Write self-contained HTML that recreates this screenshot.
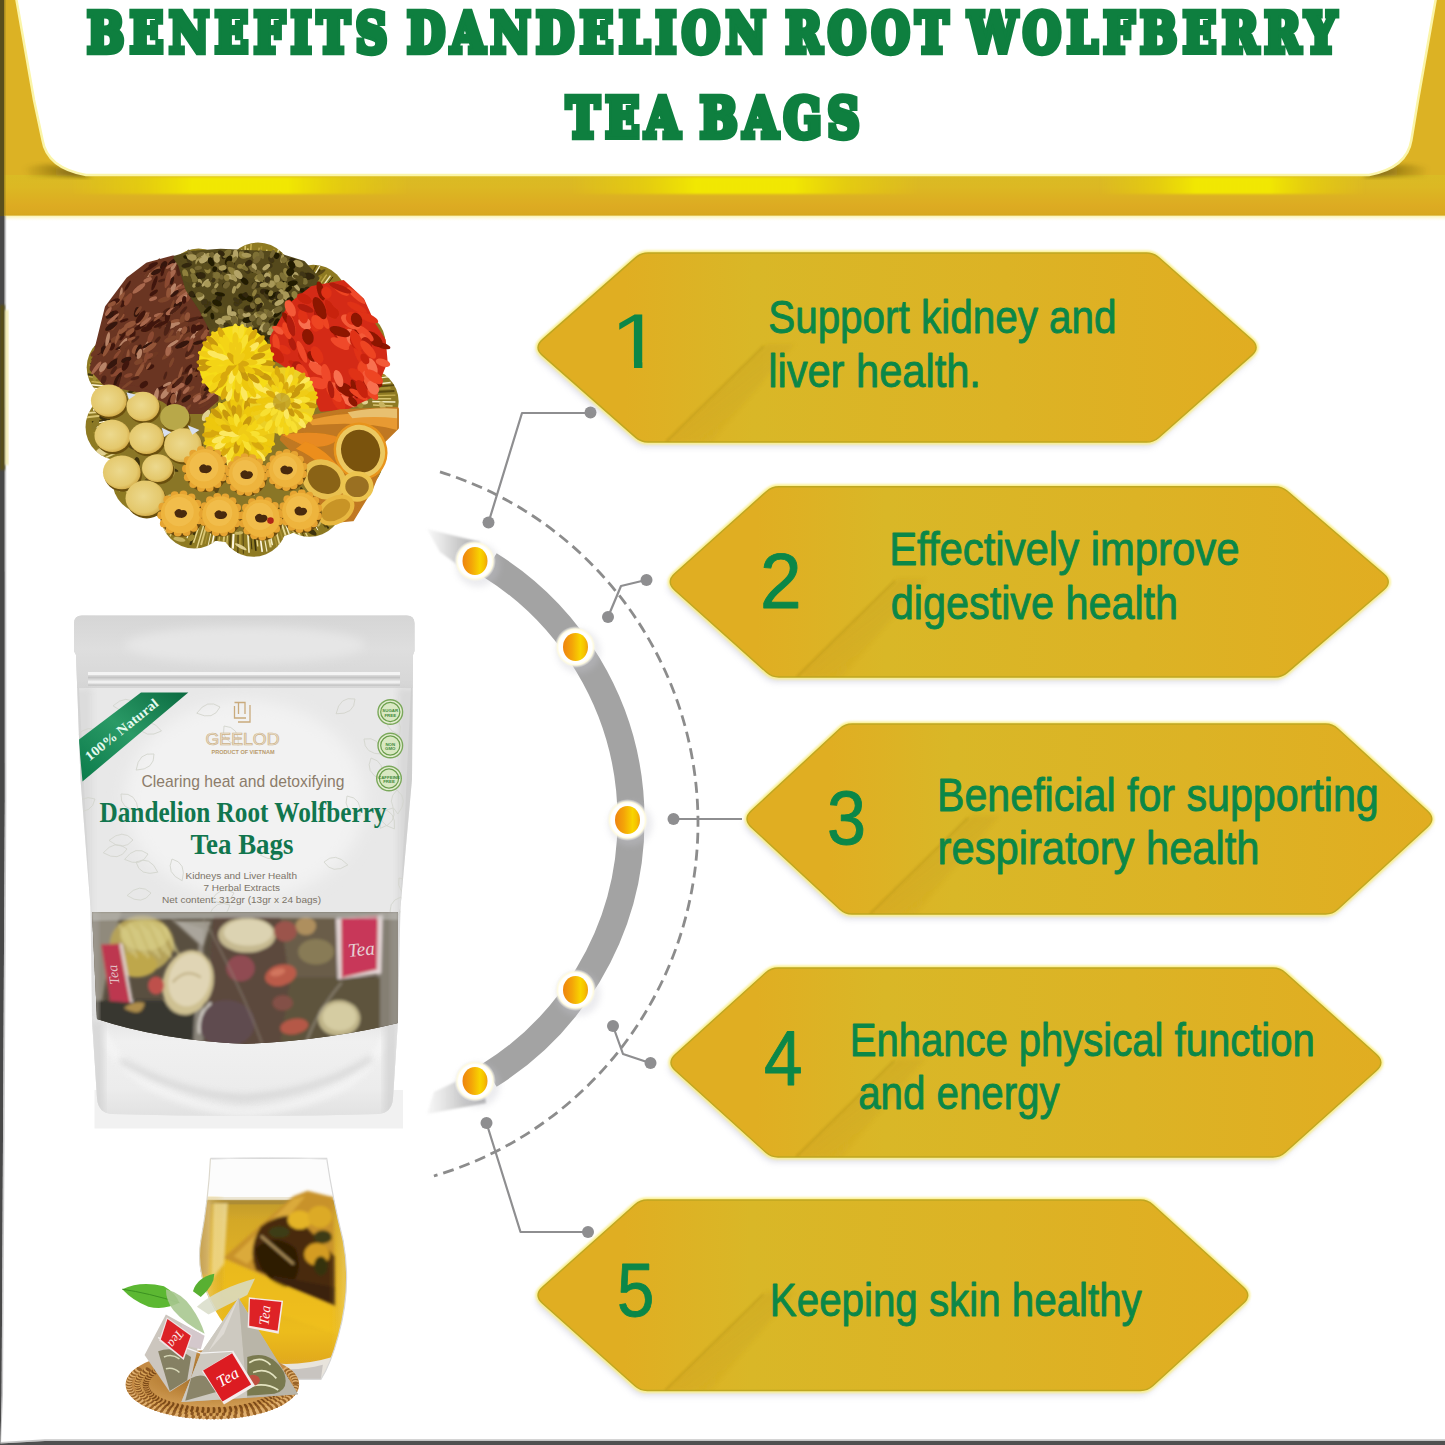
<!DOCTYPE html>
<html lang="en"><head><meta charset="utf-8"><title>Benefits Dandelion Root Wolfberry Tea Bags</title>
<style>
html,body{margin:0;padding:0;background:#fff;}
body{width:1445px;height:1445px;overflow:hidden;font-family:"Liberation Sans",sans-serif;}
svg{display:block}
.t{font-family:"DejaVu Serif","Liberation Serif",serif;font-weight:bold;fill:#0e7f3f;stroke:#0e7f3f;stroke-linejoin:miter;paint-order:stroke}
.h{font-family:"Liberation Sans",sans-serif;fill:#0b8748}
</style></head><body>
<svg width="1445" height="1445" viewBox="0 0 1445 1445">
<defs>
<linearGradient id="hexg" x1="0" y1="0" x2="1" y2="0">
<stop offset="0" stop-color="#e0ae22"/><stop offset="0.12" stop-color="#e0ae22"/><stop offset="0.3" stop-color="#d9b727"/><stop offset="0.65" stop-color="#dcb325"/><stop offset="1" stop-color="#e1ad21"/>
</linearGradient>
<linearGradient id="foldg" x1="0" y1="0" x2="1" y2="1">
<stop offset="0" stop-color="#b8901a" stop-opacity="0.55"/><stop offset="1" stop-color="#b8901a" stop-opacity="0"/>
</linearGradient>
<linearGradient id="ball" x1="0" y1="0" x2="1" y2="0">
<stop offset="0" stop-color="#ee8410"/><stop offset="0.35" stop-color="#f4a408"/><stop offset="0.7" stop-color="#f8d400"/><stop offset="0.85" stop-color="#f6c400"/><stop offset="1" stop-color="#f0a010"/>
</linearGradient>
<radialGradient id="halo" cx="0.5" cy="0.5" r="0.5">
<stop offset="0" stop-color="#fff"/><stop offset="0.78" stop-color="#fff"/><stop offset="0.86" stop-color="#fffbe0"/><stop offset="1" stop-color="#f0f0f4" stop-opacity="0"/>
</radialGradient>
<linearGradient id="bandv" x1="0" y1="0" x2="0" y2="1">
<stop offset="0" stop-color="#dcc020"/><stop offset="0.45" stop-color="#dcb824"/><stop offset="0.5" stop-color="#dcae22"/><stop offset="1" stop-color="#dcac22"/>
</linearGradient>
<radialGradient id="hl" cx="0.5" cy="0.5" r="0.5">
<stop offset="0" stop-color="#f4ec00"/><stop offset="0.55" stop-color="#f0e400" stop-opacity="0.9"/><stop offset="1" stop-color="#e8d010" stop-opacity="0"/>
</radialGradient>
<filter id="b1" x="-10%" y="-10%" width="120%" height="120%"><feGaussianBlur stdDeviation="1"/></filter>
<filter id="b2" x="-20%" y="-20%" width="140%" height="140%"><feGaussianBlur stdDeviation="2"/></filter>
<filter id="b3" x="-20%" y="-20%" width="140%" height="140%"><feGaussianBlur stdDeviation="3"/></filter>
<filter id="b5" x="-30%" y="-30%" width="160%" height="160%"><feGaussianBlur stdDeviation="5"/></filter>
<filter id="b8" x="-30%" y="-30%" width="160%" height="160%"><feGaussianBlur stdDeviation="8"/></filter>
<linearGradient id="tailT" x1="0" y1="0" x2="1" y2="0"><stop offset="0" stop-color="#d0d0d0" stop-opacity="0.15"/><stop offset="0.6" stop-color="#c4c4c4" stop-opacity="0.9"/><stop offset="1" stop-color="#a8a8a8"/></linearGradient>
</defs>
<rect x="0" y="0" width="1445" height="1445" fill="#fff"/>
<path d="M0 0 H1445 V216 H0 Z" fill="#dcb224"/>
<linearGradient id="bandg" gradientUnits="userSpaceOnUse" x1="0" y1="175" x2="0" y2="216"><stop offset="0" stop-color="#dabb24"/><stop offset="0.3" stop-color="#dcb823"/><stop offset="0.5" stop-color="#dcb222"/><stop offset="0.75" stop-color="#ddab22"/><stop offset="0.95" stop-color="#d9a91f"/><stop offset="1" stop-color="#cfa21c"/></linearGradient>
<rect x="0" y="175" width="1445" height="41" fill="url(#bandg)"/>
<linearGradient id="hlh" x1="0" y1="0" x2="1" y2="0"><stop offset="0" stop-color="#e8d810" stop-opacity="0"/><stop offset="0.2" stop-color="#ecdc08" stop-opacity="0.5"/><stop offset="0.36" stop-color="#f2ea00" stop-opacity="0.95"/><stop offset="0.64" stop-color="#f2ea00" stop-opacity="0.95"/><stop offset="0.8" stop-color="#ecdc08" stop-opacity="0.5"/><stop offset="1" stop-color="#e8d810" stop-opacity="0"/></linearGradient>
<rect x="70" y="177" width="340" height="17" fill="url(#hlh)" filter="url(#b1)"/>
<rect x="570" y="177" width="350" height="17" fill="url(#hlh)" filter="url(#b1)"/>
<rect x="1100" y="177" width="265" height="17" fill="url(#hlh)" filter="url(#b1)"/>
<linearGradient id="paleg" x1="0" y1="0" x2="0" y2="1"><stop offset="0" stop-color="#faf2a8"/><stop offset="1" stop-color="#fffbe0" stop-opacity="0"/></linearGradient>
<rect x="4" y="215.6" width="1441" height="5.5" fill="url(#paleg)"/>
<linearGradient id="shl" x1="0" y1="0" x2="1" y2="0"><stop offset="0" stop-color="#6a5610" stop-opacity="0"/><stop offset="1" stop-color="#5a4a0c" stop-opacity="0.95"/></linearGradient>
<linearGradient id="shr" x1="1" y1="0" x2="0" y2="0"><stop offset="0" stop-color="#6a5610" stop-opacity="0"/><stop offset="1" stop-color="#5a4a0c" stop-opacity="0.95"/></linearGradient>
<path d="M22 168 Q50 160 72 170 L92 177 L30 176 Z" fill="url(#shl)" filter="url(#b2)"/>
<path d="M1430 168 Q1400 160 1382 170 L1362 177 L1424 176 Z" fill="url(#shr)" filter="url(#b2)"/>
<path d="M15.6 -5 L34 100 L42.5 140 Q47 168 86 175 L1369 175 Q1407 168 1411.4 140 L1418 100 L1436.5 -5 Z" fill="#fff" stroke="#fbf5a8" stroke-width="2.5"/>
<rect x="0" y="0" width="4" height="216" fill="#5a4f1c"/><rect x="4" y="0" width="1.5" height="216" fill="#8a7420" opacity="0.6"/>
<path d="M0 216 H4.6 L4.8 800 L3.2 1100 L1.6 1395 L0.4 1445 H0 Z" fill="#484848"/>
<path d="M4.6 216 H6.2 L6.4 800 L4.8 1100 L3 1395 L1 1445 L0.4 1445 L1.6 1395 L3.2 1100 L4.8 800 Z" fill="#9a9a9c" opacity="0.55"/>
<rect x="0" y="305" width="4.6" height="165" fill="#585018" filter="url(#b1)"/>
<rect x="5" y="310" width="3.5" height="155" fill="#f2eaa0" opacity="0.8" filter="url(#b1)"/>
<path d="M0 1443.5 L45 1441 H1445 V1445 H0 Z" fill="#505050"/>
<path d="M0 1442 L45 1439.2 H1445 V1441 H45 L0 1443.5 Z" fill="#a0a0a0" opacity="0.6"/>
<text class="t" transform="translate(87.34,51.50) scale(0.8026,1)" font-size="54.18" letter-spacing="7.48" word-spacing="-8.72" stroke-width="6" vector-effect="non-scaling-stroke">BENEFITS DANDELION ROOT WOLFBERRY</text>
<text class="t" transform="translate(566.56,137.00) scale(0.8170,1)" font-size="54.18" letter-spacing="7.34" word-spacing="-8.57" stroke-width="6" vector-effect="non-scaling-stroke">TEA BAGS</text>
<g transform="translate(70,230) scale(0.235294)">
<defs>
<radialGradient id="lic" cx="0.45" cy="0.45" r="0.6"><stop offset="0" stop-color="#ecd98e"/><stop offset="0.75" stop-color="#e4c86c"/><stop offset="1" stop-color="#cfa440"/></radialGradient>
<radialGradient id="haw" cx="0.5" cy="0.5" r="0.5"><stop offset="0" stop-color="#4a2c10"/><stop offset="0.2" stop-color="#5a3412"/><stop offset="0.3" stop-color="#e0a440"/><stop offset="0.8" stop-color="#ecb040"/><stop offset="1" stop-color="#d88c28"/></radialGradient>
<radialGradient id="flw" cx="0.5" cy="0.5" r="0.5"><stop offset="0" stop-color="#d8b010"/><stop offset="0.5" stop-color="#f2d818"/><stop offset="1" stop-color="#f4dc20"/></radialGradient>
<filter id="ptex" x="0" y="0" width="100%" height="100%"><feTurbulence type="fractalNoise" baseFrequency="0.035" numOctaves="3" seed="4" result="n"/><feColorMatrix in="n" type="matrix" values="0 0 0 0 0.1  0 0 0 0 0.08  0 0 0 0 0  0.9 0.9 0 0 -0.55" result="d"/><feComposite in="d" in2="SourceGraphic" operator="in" result="dd"/><feMerge><feMergeNode in="SourceGraphic"/><feMergeNode in="dd"/></feMerge></filter>
<filter id="pb" x="-5%" y="-5%" width="110%" height="110%"><feGaussianBlur stdDeviation="2.2"/></filter>
</defs>
<g filter="url(#pb)"><g fill="#8e7a24"><circle cx="725" cy="720" r="610"/><circle cx="799" cy="195" r="142"/><circle cx="1034" cy="290" r="142"/><circle cx="1199" cy="483" r="142"/><circle cx="1255" cy="730" r="142"/><circle cx="1190" cy="975" r="142"/><circle cx="1018" cy="1162" r="142"/><circle cx="779" cy="1247" r="142"/><circle cx="528" cy="1212" r="142"/><circle cx="322" cy="1064" r="142"/><circle cx="208" cy="837" r="142"/><circle cx="213" cy="584" r="142"/><circle cx="335" cy="361" r="142"/><circle cx="546" cy="221" r="142"/></g>
<clipPath id="plc"><circle cx="725" cy="720" r="610"/><circle cx="799" cy="195" r="142"/><circle cx="1034" cy="290" r="142"/><circle cx="1199" cy="483" r="142"/><circle cx="1255" cy="730" r="142"/><circle cx="1190" cy="975" r="142"/><circle cx="1018" cy="1162" r="142"/><circle cx="779" cy="1247" r="142"/><circle cx="528" cy="1212" r="142"/><circle cx="322" cy="1064" r="142"/><circle cx="208" cy="837" r="142"/><circle cx="213" cy="584" r="142"/><circle cx="335" cy="361" r="142"/><circle cx="546" cy="221" r="142"/></clipPath><g clip-path="url(#plc)"><path d="M1282 717L1365 717" stroke="#d8c470" stroke-width="7"/><path d="M1260 729L1383 731" stroke="#f4ecc0" stroke-width="7"/><path d="M1288 744L1371 748" stroke="#d8c470" stroke-width="6"/><path d="M1268 763L1354 770" stroke="#fff8e0" stroke-width="8"/><path d="M1260 773L1377 785" stroke="#e8d890" stroke-width="6"/><path d="M1291 784L1365 792" stroke="#fff8e0" stroke-width="8"/><path d="M1269 804L1374 820" stroke="#d8c470" stroke-width="9"/><path d="M1267 809L1343 822" stroke="#d8c470" stroke-width="5"/><path d="M1266 831L1362 850" stroke="#f4ecc0" stroke-width="6"/><path d="M1269 844L1355 863" stroke="#fff8e0" stroke-width="7"/><path d="M1270 858L1367 883" stroke="#f4ecc0" stroke-width="9"/><path d="M1247 864L1361 895" stroke="#3a3008" stroke-width="8"/><path d="M1270 880L1347 902" stroke="#f4ecc0" stroke-width="5"/><path d="M1258 893L1338 919" stroke="#a89030" stroke-width="8"/><path d="M1236 899L1326 930" stroke="#fff8e0" stroke-width="8"/><path d="M1250 914L1313 938" stroke="#a89030" stroke-width="7"/><path d="M1229 930L1311 964" stroke="#e8d890" stroke-width="6"/><path d="M1239 939L1301 966" stroke="#5a4a10" stroke-width="9"/><path d="M1221 948L1318 993" stroke="#a89030" stroke-width="6"/><path d="M1235 977L1297 1008" stroke="#d8c470" stroke-width="8"/><path d="M1230 984L1303 1022" stroke="#3a3008" stroke-width="7"/><path d="M1208 994L1284 1036" stroke="#5a4a10" stroke-width="9"/><path d="M1195 996L1275 1042" stroke="#a89030" stroke-width="4"/><path d="M1200 1014L1257 1049" stroke="#c8b050" stroke-width="4"/><path d="M1187 1024L1270 1079" stroke="#a89030" stroke-width="7"/><path d="M1183 1033L1260 1086" stroke="#e8d890" stroke-width="9"/><path d="M1174 1043L1251 1099" stroke="#a89030" stroke-width="5"/><path d="M1176 1061L1251 1117" stroke="#f4ecc0" stroke-width="6"/><path d="M1167 1073L1214 1111" stroke="#c8b050" stroke-width="6"/><path d="M1160 1084L1212 1127" stroke="#c8b050" stroke-width="7"/><path d="M1127 1078L1210 1152" stroke="#a89030" stroke-width="7"/><path d="M1142 1104L1213 1169" stroke="#3a3008" stroke-width="6"/><path d="M1132 1119L1184 1170" stroke="#5a4a10" stroke-width="8"/><path d="M1129 1127L1174 1173" stroke="#c8b050" stroke-width="8"/><path d="M1113 1135L1154 1179" stroke="#a89030" stroke-width="7"/><path d="M1094 1135L1163 1213" stroke="#d8c470" stroke-width="6"/><path d="M1081 1141L1139 1210" stroke="#fff8e0" stroke-width="5"/><path d="M1087 1163L1143 1231" stroke="#fff8e0" stroke-width="7"/><path d="M1063 1171L1101 1221" stroke="#d8c470" stroke-width="8"/><path d="M1050 1171L1098 1236" stroke="#a89030" stroke-width="8"/><path d="M1045 1191L1099 1269" stroke="#3a3008" stroke-width="8"/><path d="M1042 1195L1087 1263" stroke="#5a4a10" stroke-width="8"/><path d="M1016 1196L1051 1254" stroke="#3a3008" stroke-width="5"/><path d="M1011 1203L1054 1276" stroke="#fff8e0" stroke-width="4"/><path d="M984 1193L1027 1273" stroke="#d8c470" stroke-width="8"/><path d="M981 1200L1022 1275" stroke="#3a3008" stroke-width="5"/><path d="M976 1234L1013 1311" stroke="#e8d890" stroke-width="6"/><path d="M957 1220L1000 1315" stroke="#5a4a10" stroke-width="5"/><path d="M945 1226L982 1310" stroke="#e8d890" stroke-width="8"/><path d="M925 1218L959 1302" stroke="#d8c470" stroke-width="9"/><path d="M913 1225L950 1325" stroke="#a89030" stroke-width="5"/><path d="M912 1238L942 1323" stroke="#f4ecc0" stroke-width="6"/><path d="M897 1240L923 1318" stroke="#e8d890" stroke-width="8"/><path d="M880 1235L907 1325" stroke="#a89030" stroke-width="6"/><path d="M870 1257L894 1348" stroke="#e8d890" stroke-width="7"/><path d="M857 1254L880 1346" stroke="#a89030" stroke-width="6"/><path d="M843 1261L860 1340" stroke="#f4ecc0" stroke-width="7"/><path d="M835 1261L853 1349" stroke="#e8d890" stroke-width="9"/><path d="M822 1283L837 1367" stroke="#f4ecc0" stroke-width="5"/><path d="M806 1287L817 1368" stroke="#fff8e0" stroke-width="7"/><path d="M790 1274L798 1345" stroke="#e8d890" stroke-width="6"/><path d="M781 1268L790 1363" stroke="#3a3008" stroke-width="7"/><path d="M767 1286L773 1357" stroke="#3a3008" stroke-width="4"/><path d="M755 1273L761 1372" stroke="#f4ecc0" stroke-width="7"/><path d="M735 1256L737 1376" stroke="#5a4a10" stroke-width="5"/><path d="M723 1292L722 1347" stroke="#a89030" stroke-width="8"/><path d="M715 1258L713 1385" stroke="#5a4a10" stroke-width="6"/><path d="M695 1292L692 1354" stroke="#fff8e0" stroke-width="9"/><path d="M683 1292L678 1358" stroke="#5a4a10" stroke-width="9"/><path d="M671 1282L665 1349" stroke="#d8c470" stroke-width="5"/><path d="M657 1286L650 1347" stroke="#d8c470" stroke-width="8"/><path d="M641 1269L628 1355" stroke="#c8b050" stroke-width="5"/><path d="M632 1253L614 1356" stroke="#5a4a10" stroke-width="8"/><path d="M616 1276L599 1360" stroke="#fff8e0" stroke-width="7"/><path d="M600 1281L582 1365" stroke="#f4ecc0" stroke-width="4"/><path d="M593 1254L574 1334" stroke="#a89030" stroke-width="5"/><path d="M576 1270L557 1339" stroke="#d8c470" stroke-width="8"/><path d="M568 1256L539 1354" stroke="#e8d890" stroke-width="6"/><path d="M547 1261L525 1329" stroke="#e8d890" stroke-width="6"/><path d="M547 1234L511 1338" stroke="#3a3008" stroke-width="9"/><path d="M529 1228L497 1310" stroke="#f4ecc0" stroke-width="5"/><path d="M512 1240L488 1300" stroke="#f4ecc0" stroke-width="5"/><path d="M512 1219L479 1298" stroke="#3a3008" stroke-width="5"/><path d="M486 1239L463 1289" stroke="#d8c470" stroke-width="7"/><path d="M486 1199L440 1291" stroke="#fff8e0" stroke-width="6"/><path d="M468 1218L425 1302" stroke="#d8c470" stroke-width="6"/><path d="M462 1192L415 1276" stroke="#fff8e0" stroke-width="5"/><path d="M432 1211L403 1260" stroke="#a89030" stroke-width="7"/><path d="M434 1190L383 1274" stroke="#f4ecc0" stroke-width="5"/><path d="M421 1176L366 1259" stroke="#3a3008" stroke-width="7"/><path d="M420 1162L363 1244" stroke="#c8b050" stroke-width="7"/><path d="M405 1156L347 1236" stroke="#d8c470" stroke-width="5"/><path d="M394 1147L334 1224" stroke="#fff8e0" stroke-width="7"/><path d="M377 1151L325 1216" stroke="#c8b050" stroke-width="8"/><path d="M378 1137L311 1217" stroke="#fff8e0" stroke-width="6"/><path d="M362 1133L289 1216" stroke="#e8d890" stroke-width="6"/><path d="M343 1134L287 1194" stroke="#a89030" stroke-width="9"/><path d="M329 1126L287 1170" stroke="#d8c470" stroke-width="8"/><path d="M337 1104L278 1162" stroke="#3a3008" stroke-width="7"/><path d="M327 1085L244 1161" stroke="#fff8e0" stroke-width="7"/><path d="M296 1102L254 1139" stroke="#c8b050" stroke-width="8"/><path d="M298 1077L240 1125" stroke="#c8b050" stroke-width="5"/><path d="M285 1077L238 1114" stroke="#d8c470" stroke-width="8"/><path d="M285 1051L208 1109" stroke="#f4ecc0" stroke-width="7"/><path d="M267 1047L207 1090" stroke="#d8c470" stroke-width="4"/><path d="M266 1041L209 1080" stroke="#5a4a10" stroke-width="6"/><path d="M262 1023L196 1067" stroke="#5a4a10" stroke-width="4"/><path d="M249 1016L179 1059" stroke="#f4ecc0" stroke-width="9"/><path d="M257 991L157 1049" stroke="#e8d890" stroke-width="4"/><path d="M239 989L161 1032" stroke="#e8d890" stroke-width="9"/><path d="M221 986L148 1025" stroke="#c8b050" stroke-width="4"/><path d="M216 968L162 994" stroke="#3a3008" stroke-width="8"/><path d="M211 960L125 1001" stroke="#5a4a10" stroke-width="6"/><path d="M216 939L147 969" stroke="#e8d890" stroke-width="6"/><path d="M202 929L130 958" stroke="#d8c470" stroke-width="7"/><path d="M209 915L116 950" stroke="#f4ecc0" stroke-width="4"/><path d="M194 907L119 934" stroke="#d8c470" stroke-width="8"/><path d="M202 888L116 915" stroke="#a89030" stroke-width="7"/><path d="M213 875L119 904" stroke="#a89030" stroke-width="5"/><path d="M201 863L114 887" stroke="#c8b050" stroke-width="7"/><path d="M181 854L113 871" stroke="#c8b050" stroke-width="6"/><path d="M170 846L100 862" stroke="#a89030" stroke-width="6"/><path d="M198 821L95 841" stroke="#fff8e0" stroke-width="6"/><path d="M162 812L99 822" stroke="#fff8e0" stroke-width="6"/><path d="M171 804L93 816" stroke="#3a3008" stroke-width="7"/><path d="M182 783L65 797" stroke="#d8c470" stroke-width="8"/><path d="M173 769L80 777" stroke="#e8d890" stroke-width="8"/><path d="M178 759L98 764" stroke="#fff8e0" stroke-width="9"/><path d="M190 745L99 749" stroke="#3a3008" stroke-width="4"/><path d="M171 733L93 735" stroke="#a89030" stroke-width="5"/><path d="M171 715L68 715" stroke="#a89030" stroke-width="9"/><path d="M178 711L76 710" stroke="#fff8e0" stroke-width="4"/><path d="M157 695L96 692" stroke="#fff8e0" stroke-width="7"/><path d="M160 679L86 673" stroke="#fff8e0" stroke-width="8"/><path d="M156 664L89 658" stroke="#fff8e0" stroke-width="6"/><path d="M166 653L91 644" stroke="#c8b050" stroke-width="7"/><path d="M160 635L79 623" stroke="#d8c470" stroke-width="4"/><path d="M167 628L76 613" stroke="#3a3008" stroke-width="8"/><path d="M196 615L103 596" stroke="#e8d890" stroke-width="8"/><path d="M186 597L81 573" stroke="#a89030" stroke-width="9"/><path d="M197 595L86 568" stroke="#3a3008" stroke-width="6"/><path d="M191 576L90 549" stroke="#5a4a10" stroke-width="5"/><path d="M205 569L100 539" stroke="#e8d890" stroke-width="5"/><path d="M208 554L97 519" stroke="#fff8e0" stroke-width="7"/><path d="M210 535L104 496" stroke="#5a4a10" stroke-width="6"/><path d="M224 529L111 486" stroke="#e8d890" stroke-width="8"/><path d="M193 508L135 485" stroke="#3a3008" stroke-width="6"/><path d="M203 496L128 463" stroke="#d8c470" stroke-width="8"/><path d="M229 485L138 443" stroke="#d8c470" stroke-width="8"/><path d="M211 468L148 437" stroke="#fff8e0" stroke-width="5"/><path d="M235 462L146 416" stroke="#3a3008" stroke-width="6"/><path d="M230 448L145 401" stroke="#a89030" stroke-width="6"/><path d="M244 435L180 397" stroke="#a89030" stroke-width="8"/><path d="M260 436L177 385" stroke="#f4ecc0" stroke-width="5"/><path d="M245 409L176 365" stroke="#d8c470" stroke-width="9"/><path d="M271 406L180 343" stroke="#fff8e0" stroke-width="6"/><path d="M281 394L189 327" stroke="#e8d890" stroke-width="5"/><path d="M297 387L228 334" stroke="#c8b050" stroke-width="5"/><path d="M288 369L237 327" stroke="#5a4a10" stroke-width="5"/><path d="M305 367L224 298" stroke="#f4ecc0" stroke-width="5"/><path d="M297 342L243 294" stroke="#5a4a10" stroke-width="5"/><path d="M314 335L241 266" stroke="#a89030" stroke-width="9"/><path d="M315 321L264 271" stroke="#5a4a10" stroke-width="6"/><path d="M346 327L278 257" stroke="#a89030" stroke-width="8"/><path d="M353 322L276 240" stroke="#e8d890" stroke-width="4"/><path d="M367 314L311 251" stroke="#e8d890" stroke-width="4"/><path d="M363 284L317 228" stroke="#a89030" stroke-width="9"/><path d="M382 300L329 235" stroke="#fff8e0" stroke-width="9"/><path d="M388 274L329 195" stroke="#d8c470" stroke-width="6"/><path d="M390 263L346 202" stroke="#f4ecc0" stroke-width="6"/><path d="M417 281L343 176" stroke="#c8b050" stroke-width="9"/><path d="M429 263L382 191" stroke="#fff8e0" stroke-width="7"/><path d="M434 245L392 178" stroke="#c8b050" stroke-width="4"/><path d="M452 257L391 153" stroke="#d8c470" stroke-width="6"/><path d="M448 219L407 144" stroke="#fff8e0" stroke-width="6"/><path d="M472 235L434 163" stroke="#c8b050" stroke-width="9"/><path d="M481 226L442 147" stroke="#d8c470" stroke-width="5"/><path d="M493 226L450 135" stroke="#a89030" stroke-width="5"/><path d="M499 214L467 141" stroke="#d8c470" stroke-width="9"/><path d="M524 223L482 119" stroke="#3a3008" stroke-width="6"/><path d="M523 194L488 102" stroke="#3a3008" stroke-width="6"/><path d="M543 215L507 114" stroke="#d8c470" stroke-width="5"/><path d="M561 203L532 110" stroke="#fff8e0" stroke-width="6"/><path d="M559 172L533 86" stroke="#a89030" stroke-width="7"/><path d="M585 202L557 101" stroke="#fff8e0" stroke-width="9"/><path d="M591 193L569 107" stroke="#3a3008" stroke-width="7"/><path d="M600 174L585 106" stroke="#e8d890" stroke-width="9"/><path d="M621 167L607 89" stroke="#d8c470" stroke-width="6"/><path d="M629 171L616 97" stroke="#d8c470" stroke-width="9"/><path d="M639 155L630 95" stroke="#d8c470" stroke-width="7"/><path d="M661 183L651 97" stroke="#c8b050" stroke-width="6"/><path d="M674 182L666 92" stroke="#c8b050" stroke-width="7"/><path d="M685 182L677 81" stroke="#e8d890" stroke-width="5"/><path d="M695 180L691 91" stroke="#a89030" stroke-width="9"/><path d="M712 148L711 95" stroke="#a89030" stroke-width="9"/><path d="M730 175L730 81" stroke="#d8c470" stroke-width="5"/><path d="M742 166L745 66" stroke="#d8c470" stroke-width="7"/><path d="M752 164L756 78" stroke="#d8c470" stroke-width="8"/><path d="M763 162L770 59" stroke="#c8b050" stroke-width="6"/><path d="M784 150L791 86" stroke="#5a4a10" stroke-width="5"/><path d="M791 187L804 75" stroke="#c8b050" stroke-width="5"/><path d="M803 156L814 69" stroke="#a89030" stroke-width="7"/><path d="M818 189L837 83" stroke="#d8c470" stroke-width="6"/><path d="M830 187L850 89" stroke="#a89030" stroke-width="7"/><path d="M847 170L868 80" stroke="#a89030" stroke-width="8"/><path d="M859 190L888 76" stroke="#f4ecc0" stroke-width="5"/><path d="M869 196L901 79" stroke="#5a4a10" stroke-width="5"/><path d="M887 191L914 104" stroke="#c8b050" stroke-width="9"/><path d="M896 194L926 102" stroke="#3a3008" stroke-width="6"/><path d="M911 192L937 120" stroke="#5a4a10" stroke-width="8"/><path d="M928 183L951 121" stroke="#5a4a10" stroke-width="4"/><path d="M928 220L972 114" stroke="#fff8e0" stroke-width="8"/><path d="M942 218L981 128" stroke="#fff8e0" stroke-width="6"/><path d="M966 212L994 151" stroke="#d8c470" stroke-width="5"/><path d="M966 226L1010 136" stroke="#c8b050" stroke-width="8"/><path d="M979 230L1016 158" stroke="#e8d890" stroke-width="7"/><path d="M999 236L1047 150" stroke="#5a4a10" stroke-width="6"/><path d="M1000 256L1062 152" stroke="#fff8e0" stroke-width="5"/><path d="M1011 253L1063 168" stroke="#3a3008" stroke-width="8"/><path d="M1021 270L1069 197" stroke="#a89030" stroke-width="6"/><path d="M1051 247L1091 190" stroke="#c8b050" stroke-width="6"/><path d="M1050 273L1107 194" stroke="#f4ecc0" stroke-width="6"/><path d="M1070 261L1118 199" stroke="#3a3008" stroke-width="4"/><path d="M1082 282L1128 225" stroke="#e8d890" stroke-width="6"/><path d="M1089 294L1134 242" stroke="#a89030" stroke-width="7"/><path d="M1088 315L1151 245" stroke="#fff8e0" stroke-width="9"/><path d="M1100 310L1171 232" stroke="#5a4a10" stroke-width="7"/><path d="M1102 328L1171 256" stroke="#fff8e0" stroke-width="5"/><path d="M1130 331L1191 273" stroke="#5a4a10" stroke-width="7"/><path d="M1133 339L1198 277" stroke="#a89030" stroke-width="7"/><path d="M1148 344L1219 280" stroke="#5a4a10" stroke-width="6"/><path d="M1162 355L1224 303" stroke="#d8c470" stroke-width="8"/><path d="M1166 362L1239 303" stroke="#3a3008" stroke-width="9"/><path d="M1177 375L1232 333" stroke="#e8d890" stroke-width="6"/><path d="M1185 383L1251 334" stroke="#e8d890" stroke-width="5"/><path d="M1172 410L1248 357" stroke="#a89030" stroke-width="5"/><path d="M1185 421L1253 377" stroke="#5a4a10" stroke-width="6"/><path d="M1184 432L1270 377" stroke="#5a4a10" stroke-width="5"/><path d="M1208 438L1271 401" stroke="#fff8e0" stroke-width="7"/><path d="M1198 456L1281 410" stroke="#a89030" stroke-width="4"/><path d="M1230 458L1297 423" stroke="#c8b050" stroke-width="5"/><path d="M1231 474L1295 443" stroke="#d8c470" stroke-width="6"/><path d="M1230 491L1301 459" stroke="#fff8e0" stroke-width="6"/><path d="M1238 499L1303 471" stroke="#c8b050" stroke-width="8"/><path d="M1240 510L1336 471" stroke="#d8c470" stroke-width="6"/><path d="M1237 521L1331 485" stroke="#3a3008" stroke-width="8"/><path d="M1254 539L1338 510" stroke="#f4ecc0" stroke-width="7"/><path d="M1267 549L1350 523" stroke="#f4ecc0" stroke-width="9"/><path d="M1259 560L1353 532" stroke="#fff8e0" stroke-width="6"/><path d="M1251 577L1355 549" stroke="#fff8e0" stroke-width="8"/><path d="M1250 589L1367 560" stroke="#d8c470" stroke-width="5"/><path d="M1255 602L1351 580" stroke="#a89030" stroke-width="5"/><path d="M1268 609L1345 594" stroke="#c8b050" stroke-width="5"/><path d="M1257 630L1356 613" stroke="#a89030" stroke-width="6"/><path d="M1265 637L1355 623" stroke="#f4ecc0" stroke-width="5"/><path d="M1276 658L1363 648" stroke="#f4ecc0" stroke-width="6"/><path d="M1268 669L1378 659" stroke="#5a4a10" stroke-width="7"/><path d="M1269 678L1362 671" stroke="#a89030" stroke-width="9"/><path d="M1287 689L1379 684" stroke="#5a4a10" stroke-width="9"/><path d="M1264 705L1383 702" stroke="#c8b050" stroke-width="5"/></g>
<circle cx="725" cy="720" r="560" fill="#8a7628"/>
<g clip-path="url(#plc)"><ellipse cx="665" cy="835" rx="21" ry="12" fill="#3c3008" transform="rotate(166 665 835)"/><ellipse cx="337" cy="1121" rx="27" ry="7" fill="#8a7828" transform="rotate(86 337 1121)"/><ellipse cx="479" cy="286" rx="24" ry="11" fill="#e0d090" transform="rotate(146 479 286)"/><ellipse cx="595" cy="710" rx="17" ry="7" fill="#e0d090" transform="rotate(133 595 710)"/><ellipse cx="760" cy="250" rx="24" ry="12" fill="#5a4a14" transform="rotate(34 760 250)"/><ellipse cx="508" cy="871" rx="24" ry="10" fill="#5a4a14" transform="rotate(35 508 871)"/><ellipse cx="928" cy="715" rx="30" ry="12" fill="#8a7828" transform="rotate(50 928 715)"/><ellipse cx="985" cy="549" rx="15" ry="10" fill="#c8b460" transform="rotate(41 985 549)"/><ellipse cx="235" cy="306" rx="29" ry="12" fill="#a08c30" transform="rotate(52 235 306)"/><ellipse cx="101" cy="425" rx="20" ry="11" fill="#3c3008" transform="rotate(164 101 425)"/><ellipse cx="625" cy="843" rx="18" ry="7" fill="#e0d090" transform="rotate(36 625 843)"/><ellipse cx="516" cy="1308" rx="16" ry="11" fill="#a08c30" transform="rotate(136 516 1308)"/><ellipse cx="114" cy="724" rx="23" ry="10" fill="#e0d090" transform="rotate(88 114 724)"/><ellipse cx="338" cy="1036" rx="20" ry="9" fill="#e0d090" transform="rotate(24 338 1036)"/><ellipse cx="1338" cy="181" rx="19" ry="13" fill="#8a7828" transform="rotate(156 1338 181)"/><ellipse cx="363" cy="641" rx="23" ry="7" fill="#e0d090" transform="rotate(154 363 641)"/><ellipse cx="283" cy="697" rx="19" ry="9" fill="#8a7828" transform="rotate(2 283 697)"/><ellipse cx="192" cy="285" rx="15" ry="9" fill="#5a4a14" transform="rotate(105 192 285)"/><ellipse cx="878" cy="329" rx="16" ry="9" fill="#8a7828" transform="rotate(106 878 329)"/><ellipse cx="884" cy="544" rx="18" ry="8" fill="#8a7828" transform="rotate(41 884 544)"/><ellipse cx="1024" cy="1280" rx="28" ry="11" fill="#3c3008" transform="rotate(35 1024 1280)"/><ellipse cx="627" cy="301" rx="18" ry="11" fill="#c8b460" transform="rotate(7 627 301)"/><ellipse cx="421" cy="1144" rx="22" ry="13" fill="#c8b460" transform="rotate(107 421 1144)"/><ellipse cx="1321" cy="328" rx="27" ry="11" fill="#e0d090" transform="rotate(86 1321 328)"/><ellipse cx="450" cy="1253" rx="15" ry="9" fill="#a08c30" transform="rotate(37 450 1253)"/><ellipse cx="411" cy="235" rx="23" ry="7" fill="#8a7828" transform="rotate(51 411 235)"/><ellipse cx="553" cy="1222" rx="26" ry="10" fill="#e0d090" transform="rotate(176 553 1222)"/><ellipse cx="1284" cy="870" rx="28" ry="11" fill="#3c3008" transform="rotate(166 1284 870)"/><ellipse cx="1303" cy="205" rx="15" ry="9" fill="#3c3008" transform="rotate(115 1303 205)"/><ellipse cx="271" cy="265" rx="26" ry="13" fill="#c8b460" transform="rotate(82 271 265)"/><ellipse cx="1021" cy="1003" rx="20" ry="11" fill="#c8b460" transform="rotate(143 1021 1003)"/><ellipse cx="1226" cy="1199" rx="28" ry="11" fill="#a08c30" transform="rotate(75 1226 1199)"/><ellipse cx="881" cy="627" rx="15" ry="7" fill="#8a7828" transform="rotate(105 881 627)"/><ellipse cx="244" cy="481" rx="20" ry="12" fill="#c8b460" transform="rotate(75 244 481)"/><ellipse cx="826" cy="695" rx="22" ry="10" fill="#a08c30" transform="rotate(151 826 695)"/><ellipse cx="488" cy="283" rx="16" ry="12" fill="#e0d090" transform="rotate(4 488 283)"/><ellipse cx="925" cy="749" rx="19" ry="11" fill="#c8b460" transform="rotate(161 925 749)"/><ellipse cx="353" cy="378" rx="29" ry="10" fill="#e0d090" transform="rotate(163 353 378)"/><ellipse cx="402" cy="654" rx="21" ry="12" fill="#e0d090" transform="rotate(45 402 654)"/><ellipse cx="1243" cy="1210" rx="28" ry="8" fill="#8a7828" transform="rotate(69 1243 1210)"/><ellipse cx="268" cy="590" rx="25" ry="13" fill="#a08c30" transform="rotate(161 268 590)"/><ellipse cx="446" cy="378" rx="29" ry="12" fill="#c8b460" transform="rotate(81 446 378)"/><ellipse cx="578" cy="788" rx="27" ry="13" fill="#e0d090" transform="rotate(121 578 788)"/><ellipse cx="666" cy="267" rx="15" ry="11" fill="#8a7828" transform="rotate(6 666 267)"/><ellipse cx="813" cy="542" rx="24" ry="9" fill="#a08c30" transform="rotate(142 813 542)"/><ellipse cx="337" cy="1080" rx="27" ry="13" fill="#5a4a14" transform="rotate(48 337 1080)"/><ellipse cx="244" cy="308" rx="27" ry="13" fill="#e0d090" transform="rotate(96 244 308)"/><ellipse cx="956" cy="413" rx="25" ry="12" fill="#5a4a14" transform="rotate(86 956 413)"/><ellipse cx="769" cy="222" rx="23" ry="13" fill="#c8b460" transform="rotate(41 769 222)"/><ellipse cx="726" cy="1346" rx="28" ry="7" fill="#e0d090" transform="rotate(29 726 1346)"/><ellipse cx="1266" cy="1025" rx="17" ry="13" fill="#3c3008" transform="rotate(23 1266 1025)"/><ellipse cx="108" cy="824" rx="27" ry="13" fill="#8a7828" transform="rotate(117 108 824)"/><ellipse cx="680" cy="942" rx="28" ry="12" fill="#e0d090" transform="rotate(37 680 942)"/><ellipse cx="1255" cy="324" rx="29" ry="13" fill="#3c3008" transform="rotate(44 1255 324)"/><ellipse cx="771" cy="1105" rx="27" ry="9" fill="#e0d090" transform="rotate(58 771 1105)"/><ellipse cx="203" cy="696" rx="22" ry="7" fill="#c8b460" transform="rotate(99 203 696)"/><ellipse cx="1111" cy="255" rx="23" ry="11" fill="#5a4a14" transform="rotate(144 1111 255)"/><ellipse cx="1245" cy="731" rx="22" ry="11" fill="#e0d090" transform="rotate(180 1245 731)"/><ellipse cx="650" cy="1210" rx="16" ry="8" fill="#e0d090" transform="rotate(104 650 1210)"/><ellipse cx="758" cy="519" rx="17" ry="10" fill="#e0d090" transform="rotate(131 758 519)"/><ellipse cx="1234" cy="480" rx="18" ry="12" fill="#8a7828" transform="rotate(121 1234 480)"/><ellipse cx="1311" cy="793" rx="21" ry="7" fill="#5a4a14" transform="rotate(103 1311 793)"/><ellipse cx="106" cy="621" rx="22" ry="9" fill="#a08c30" transform="rotate(97 106 621)"/><ellipse cx="1101" cy="839" rx="17" ry="13" fill="#e0d090" transform="rotate(88 1101 839)"/><ellipse cx="674" cy="1257" rx="18" ry="10" fill="#3c3008" transform="rotate(144 674 1257)"/><ellipse cx="259" cy="687" rx="22" ry="7" fill="#3c3008" transform="rotate(147 259 687)"/><ellipse cx="624" cy="214" rx="26" ry="7" fill="#e0d090" transform="rotate(47 624 214)"/><ellipse cx="343" cy="446" rx="25" ry="8" fill="#c8b460" transform="rotate(124 343 446)"/><ellipse cx="724" cy="765" rx="24" ry="12" fill="#8a7828" transform="rotate(105 724 765)"/><ellipse cx="977" cy="1208" rx="21" ry="10" fill="#e0d090" transform="rotate(4 977 1208)"/><ellipse cx="300" cy="419" rx="18" ry="8" fill="#e0d090" transform="rotate(114 300 419)"/><ellipse cx="779" cy="866" rx="24" ry="9" fill="#e0d090" transform="rotate(25 779 866)"/><ellipse cx="326" cy="886" rx="18" ry="13" fill="#5a4a14" transform="rotate(160 326 886)"/><ellipse cx="1209" cy="337" rx="16" ry="9" fill="#e0d090" transform="rotate(43 1209 337)"/><ellipse cx="643" cy="1281" rx="16" ry="9" fill="#e0d090" transform="rotate(98 643 1281)"/><ellipse cx="957" cy="201" rx="20" ry="12" fill="#e0d090" transform="rotate(36 957 201)"/><ellipse cx="552" cy="1005" rx="22" ry="11" fill="#c8b460" transform="rotate(114 552 1005)"/><ellipse cx="336" cy="263" rx="26" ry="11" fill="#a08c30" transform="rotate(19 336 263)"/><ellipse cx="1231" cy="743" rx="17" ry="12" fill="#a08c30" transform="rotate(34 1231 743)"/><ellipse cx="1338" cy="1264" rx="16" ry="11" fill="#a08c30" transform="rotate(17 1338 1264)"/><ellipse cx="197" cy="293" rx="22" ry="10" fill="#3c3008" transform="rotate(70 197 293)"/><ellipse cx="851" cy="195" rx="17" ry="10" fill="#5a4a14" transform="rotate(126 851 195)"/><ellipse cx="1024" cy="654" rx="16" ry="12" fill="#5a4a14" transform="rotate(35 1024 654)"/><ellipse cx="505" cy="279" rx="29" ry="10" fill="#e0d090" transform="rotate(152 505 279)"/><ellipse cx="339" cy="864" rx="19" ry="7" fill="#c8b460" transform="rotate(61 339 864)"/><ellipse cx="1029" cy="367" rx="28" ry="13" fill="#5a4a14" transform="rotate(168 1029 367)"/><ellipse cx="968" cy="1078" rx="17" ry="8" fill="#3c3008" transform="rotate(138 968 1078)"/><ellipse cx="1097" cy="533" rx="30" ry="13" fill="#c8b460" transform="rotate(18 1097 533)"/><ellipse cx="162" cy="499" rx="20" ry="11" fill="#c8b460" transform="rotate(173 162 499)"/><ellipse cx="812" cy="804" rx="24" ry="11" fill="#3c3008" transform="rotate(70 812 804)"/><ellipse cx="1052" cy="1327" rx="16" ry="8" fill="#8a7828" transform="rotate(4 1052 1327)"/><ellipse cx="655" cy="771" rx="20" ry="7" fill="#e0d090" transform="rotate(137 655 771)"/><ellipse cx="414" cy="1240" rx="21" ry="10" fill="#8a7828" transform="rotate(99 414 1240)"/><ellipse cx="1158" cy="297" rx="15" ry="11" fill="#e0d090" transform="rotate(80 1158 297)"/><ellipse cx="1049" cy="233" rx="20" ry="13" fill="#5a4a14" transform="rotate(167 1049 233)"/><ellipse cx="1170" cy="814" rx="29" ry="9" fill="#3c3008" transform="rotate(107 1170 814)"/><ellipse cx="758" cy="879" rx="22" ry="8" fill="#c8b460" transform="rotate(66 758 879)"/><ellipse cx="1262" cy="956" rx="15" ry="8" fill="#a08c30" transform="rotate(135 1262 956)"/><ellipse cx="153" cy="363" rx="15" ry="9" fill="#3c3008" transform="rotate(136 153 363)"/><ellipse cx="597" cy="861" rx="15" ry="13" fill="#c8b460" transform="rotate(130 597 861)"/><ellipse cx="637" cy="739" rx="15" ry="7" fill="#5a4a14" transform="rotate(175 637 739)"/><ellipse cx="1113" cy="1244" rx="24" ry="7" fill="#5a4a14" transform="rotate(26 1113 1244)"/><ellipse cx="880" cy="713" rx="20" ry="8" fill="#a08c30" transform="rotate(37 880 713)"/><ellipse cx="554" cy="344" rx="18" ry="11" fill="#8a7828" transform="rotate(75 554 344)"/><ellipse cx="624" cy="1090" rx="29" ry="12" fill="#5a4a14" transform="rotate(96 624 1090)"/><ellipse cx="398" cy="313" rx="24" ry="9" fill="#8a7828" transform="rotate(161 398 313)"/><ellipse cx="439" cy="981" rx="17" ry="8" fill="#8a7828" transform="rotate(102 439 981)"/><ellipse cx="399" cy="1294" rx="28" ry="13" fill="#e0d090" transform="rotate(90 399 1294)"/><ellipse cx="149" cy="251" rx="15" ry="7" fill="#3c3008" transform="rotate(49 149 251)"/><ellipse cx="378" cy="506" rx="17" ry="8" fill="#e0d090" transform="rotate(136 378 506)"/><ellipse cx="1327" cy="746" rx="20" ry="12" fill="#c8b460" transform="rotate(64 1327 746)"/><ellipse cx="1148" cy="267" rx="27" ry="12" fill="#8a7828" transform="rotate(22 1148 267)"/><ellipse cx="655" cy="1054" rx="20" ry="11" fill="#5a4a14" transform="rotate(70 655 1054)"/><ellipse cx="1336" cy="561" rx="27" ry="8" fill="#e0d090" transform="rotate(99 1336 561)"/><ellipse cx="917" cy="859" rx="16" ry="7" fill="#c8b460" transform="rotate(83 917 859)"/><ellipse cx="805" cy="747" rx="27" ry="7" fill="#c8b460" transform="rotate(123 805 747)"/><ellipse cx="488" cy="1246" rx="19" ry="12" fill="#e0d090" transform="rotate(109 488 1246)"/><ellipse cx="967" cy="511" rx="24" ry="9" fill="#c8b460" transform="rotate(26 967 511)"/><ellipse cx="1233" cy="557" rx="28" ry="13" fill="#8a7828" transform="rotate(79 1233 557)"/><ellipse cx="1242" cy="692" rx="21" ry="8" fill="#c8b460" transform="rotate(145 1242 692)"/><ellipse cx="1310" cy="1034" rx="20" ry="9" fill="#a08c30" transform="rotate(93 1310 1034)"/><ellipse cx="554" cy="643" rx="26" ry="9" fill="#5a4a14" transform="rotate(70 554 643)"/><ellipse cx="588" cy="361" rx="17" ry="12" fill="#5a4a14" transform="rotate(106 588 361)"/><ellipse cx="1201" cy="509" rx="15" ry="8" fill="#8a7828" transform="rotate(4 1201 509)"/><ellipse cx="470" cy="206" rx="15" ry="10" fill="#3c3008" transform="rotate(152 470 206)"/><ellipse cx="1085" cy="278" rx="16" ry="9" fill="#e0d090" transform="rotate(15 1085 278)"/><ellipse cx="132" cy="945" rx="21" ry="11" fill="#e0d090" transform="rotate(18 132 945)"/><ellipse cx="711" cy="1242" rx="20" ry="9" fill="#3c3008" transform="rotate(61 711 1242)"/><ellipse cx="1310" cy="967" rx="27" ry="7" fill="#8a7828" transform="rotate(89 1310 967)"/><ellipse cx="873" cy="234" rx="20" ry="7" fill="#e0d090" transform="rotate(136 873 234)"/><ellipse cx="572" cy="284" rx="24" ry="10" fill="#8a7828" transform="rotate(84 572 284)"/><ellipse cx="988" cy="1119" rx="28" ry="8" fill="#3c3008" transform="rotate(76 988 1119)"/><ellipse cx="303" cy="923" rx="17" ry="9" fill="#c8b460" transform="rotate(123 303 923)"/><ellipse cx="465" cy="1315" rx="26" ry="9" fill="#c8b460" transform="rotate(11 465 1315)"/><ellipse cx="294" cy="1256" rx="15" ry="10" fill="#3c3008" transform="rotate(164 294 1256)"/><ellipse cx="1101" cy="546" rx="18" ry="8" fill="#c8b460" transform="rotate(36 1101 546)"/><ellipse cx="997" cy="876" rx="28" ry="9" fill="#5a4a14" transform="rotate(40 997 876)"/><ellipse cx="1238" cy="1277" rx="22" ry="8" fill="#8a7828" transform="rotate(113 1238 1277)"/><ellipse cx="1209" cy="1250" rx="26" ry="7" fill="#8a7828" transform="rotate(62 1209 1250)"/><ellipse cx="1178" cy="647" rx="27" ry="9" fill="#5a4a14" transform="rotate(39 1178 647)"/><ellipse cx="759" cy="784" rx="24" ry="8" fill="#a08c30" transform="rotate(49 759 784)"/><ellipse cx="114" cy="733" rx="25" ry="11" fill="#5a4a14" transform="rotate(67 114 733)"/><ellipse cx="297" cy="364" rx="28" ry="12" fill="#c8b460" transform="rotate(58 297 364)"/><ellipse cx="264" cy="1048" rx="23" ry="8" fill="#8a7828" transform="rotate(112 264 1048)"/><ellipse cx="1063" cy="182" rx="27" ry="7" fill="#5a4a14" transform="rotate(148 1063 182)"/><ellipse cx="437" cy="1018" rx="25" ry="7" fill="#3c3008" transform="rotate(17 437 1018)"/><ellipse cx="1036" cy="816" rx="26" ry="9" fill="#a08c30" transform="rotate(91 1036 816)"/><ellipse cx="1246" cy="286" rx="15" ry="9" fill="#5a4a14" transform="rotate(149 1246 286)"/><ellipse cx="718" cy="1288" rx="19" ry="7" fill="#c8b460" transform="rotate(174 718 1288)"/><ellipse cx="482" cy="727" rx="15" ry="7" fill="#c8b460" transform="rotate(129 482 727)"/><ellipse cx="935" cy="971" rx="24" ry="7" fill="#a08c30" transform="rotate(134 935 971)"/><ellipse cx="571" cy="1011" rx="16" ry="12" fill="#8a7828" transform="rotate(43 571 1011)"/><ellipse cx="1170" cy="1168" rx="17" ry="11" fill="#8a7828" transform="rotate(129 1170 1168)"/><ellipse cx="1272" cy="1057" rx="23" ry="7" fill="#3c3008" transform="rotate(172 1272 1057)"/><ellipse cx="336" cy="621" rx="29" ry="10" fill="#c8b460" transform="rotate(20 336 621)"/><ellipse cx="1005" cy="568" rx="16" ry="11" fill="#a08c30" transform="rotate(149 1005 568)"/><ellipse cx="264" cy="918" rx="20" ry="12" fill="#5a4a14" transform="rotate(32 264 918)"/><ellipse cx="841" cy="285" rx="30" ry="10" fill="#5a4a14" transform="rotate(41 841 285)"/><ellipse cx="1064" cy="580" rx="16" ry="8" fill="#8a7828" transform="rotate(148 1064 580)"/><ellipse cx="285" cy="989" rx="24" ry="12" fill="#3c3008" transform="rotate(87 285 989)"/><ellipse cx="866" cy="552" rx="24" ry="11" fill="#5a4a14" transform="rotate(142 866 552)"/><ellipse cx="123" cy="567" rx="21" ry="10" fill="#e0d090" transform="rotate(62 123 567)"/><ellipse cx="356" cy="569" rx="24" ry="8" fill="#a08c30" transform="rotate(53 356 569)"/><ellipse cx="1058" cy="1237" rx="24" ry="10" fill="#c8b460" transform="rotate(99 1058 1237)"/><ellipse cx="818" cy="412" rx="25" ry="13" fill="#e0d090" transform="rotate(168 818 412)"/><ellipse cx="809" cy="211" rx="16" ry="10" fill="#a08c30" transform="rotate(119 809 211)"/><ellipse cx="622" cy="570" rx="18" ry="13" fill="#c8b460" transform="rotate(17 622 570)"/><ellipse cx="665" cy="1034" rx="23" ry="10" fill="#8a7828" transform="rotate(43 665 1034)"/><ellipse cx="800" cy="489" rx="24" ry="7" fill="#c8b460" transform="rotate(164 800 489)"/><ellipse cx="1131" cy="518" rx="26" ry="9" fill="#5a4a14" transform="rotate(161 1131 518)"/><ellipse cx="307" cy="879" rx="15" ry="8" fill="#3c3008" transform="rotate(146 307 879)"/><ellipse cx="1334" cy="1279" rx="26" ry="12" fill="#c8b460" transform="rotate(119 1334 1279)"/><ellipse cx="1233" cy="900" rx="17" ry="9" fill="#a08c30" transform="rotate(115 1233 900)"/><ellipse cx="141" cy="798" rx="17" ry="10" fill="#3c3008" transform="rotate(21 141 798)"/><ellipse cx="430" cy="845" rx="26" ry="12" fill="#e0d090" transform="rotate(60 430 845)"/><ellipse cx="1084" cy="652" rx="22" ry="9" fill="#a08c30" transform="rotate(90 1084 652)"/><ellipse cx="880" cy="986" rx="22" ry="13" fill="#c8b460" transform="rotate(136 880 986)"/><ellipse cx="1148" cy="1180" rx="16" ry="7" fill="#3c3008" transform="rotate(74 1148 1180)"/><ellipse cx="1274" cy="567" rx="28" ry="9" fill="#3c3008" transform="rotate(94 1274 567)"/><ellipse cx="168" cy="1029" rx="20" ry="9" fill="#e0d090" transform="rotate(162 168 1029)"/><ellipse cx="1087" cy="1213" rx="16" ry="10" fill="#5a4a14" transform="rotate(158 1087 1213)"/><ellipse cx="728" cy="644" rx="16" ry="13" fill="#e0d090" transform="rotate(9 728 644)"/><ellipse cx="781" cy="949" rx="30" ry="12" fill="#a08c30" transform="rotate(169 781 949)"/><ellipse cx="1189" cy="611" rx="27" ry="8" fill="#8a7828" transform="rotate(98 1189 611)"/><ellipse cx="1033" cy="843" rx="22" ry="7" fill="#a08c30" transform="rotate(163 1033 843)"/><ellipse cx="1203" cy="854" rx="18" ry="9" fill="#c8b460" transform="rotate(82 1203 854)"/><ellipse cx="506" cy="253" rx="20" ry="9" fill="#8a7828" transform="rotate(161 506 253)"/><ellipse cx="832" cy="234" rx="19" ry="10" fill="#c8b460" transform="rotate(6 832 234)"/><ellipse cx="1267" cy="1323" rx="17" ry="13" fill="#5a4a14" transform="rotate(85 1267 1323)"/><ellipse cx="966" cy="249" rx="28" ry="7" fill="#c8b460" transform="rotate(57 966 249)"/><ellipse cx="894" cy="997" rx="24" ry="8" fill="#8a7828" transform="rotate(101 894 997)"/><ellipse cx="1200" cy="239" rx="27" ry="13" fill="#e0d090" transform="rotate(19 1200 239)"/><ellipse cx="442" cy="672" rx="25" ry="13" fill="#c8b460" transform="rotate(158 442 672)"/><ellipse cx="656" cy="272" rx="16" ry="11" fill="#c8b460" transform="rotate(40 656 272)"/><ellipse cx="436" cy="1023" rx="26" ry="9" fill="#c8b460" transform="rotate(90 436 1023)"/><ellipse cx="928" cy="1215" rx="29" ry="13" fill="#5a4a14" transform="rotate(106 928 1215)"/><ellipse cx="326" cy="444" rx="16" ry="13" fill="#e0d090" transform="rotate(24 326 444)"/><ellipse cx="650" cy="798" rx="14" ry="11" fill="#a08c30" transform="rotate(96 650 798)"/><ellipse cx="772" cy="675" rx="19" ry="12" fill="#5a4a14" transform="rotate(102 772 675)"/><ellipse cx="407" cy="507" rx="26" ry="8" fill="#5a4a14" transform="rotate(99 407 507)"/></g>
<path d="M440 120 L330 150 L250 210 L160 330 L130 450 L95 590 L150 650 L300 680 L400 720 L470 770 L560 770 L620 720 L610 640 L560 560 L560 480 L620 430 L560 340 L500 250 L470 150Z" fill="#6a3422" stroke="#6a3422" stroke-width="24" stroke-linejoin="round"/>
<ellipse cx="182" cy="568" rx="32" ry="12" fill="#34140a" transform="rotate(-41 182 568)"/><ellipse cx="191" cy="463" rx="24" ry="10" fill="#7e442c" transform="rotate(-30 191 463)"/><ellipse cx="217" cy="271" rx="28" ry="6" fill="#b88468" transform="rotate(-82 217 271)"/><ellipse cx="268" cy="443" rx="17" ry="11" fill="#4e2414" transform="rotate(-77 268 443)"/><ellipse cx="477" cy="381" rx="25" ry="11" fill="#7e442c" transform="rotate(-74 477 381)"/><ellipse cx="449" cy="642" rx="19" ry="9" fill="#935438" transform="rotate(-39 449 642)"/><ellipse cx="580" cy="697" rx="34" ry="9" fill="#4e2414" transform="rotate(-56 580 697)"/><ellipse cx="262" cy="435" rx="20" ry="10" fill="#935438" transform="rotate(-66 262 435)"/><ellipse cx="132" cy="510" rx="27" ry="10" fill="#4e2414" transform="rotate(-48 132 510)"/><ellipse cx="277" cy="508" rx="20" ry="12" fill="#935438" transform="rotate(-64 277 508)"/><ellipse cx="186" cy="399" rx="29" ry="12" fill="#7e442c" transform="rotate(-74 186 399)"/><ellipse cx="405" cy="694" rx="29" ry="12" fill="#b88468" transform="rotate(-51 405 694)"/><ellipse cx="224" cy="485" rx="31" ry="9" fill="#b88468" transform="rotate(-54 224 485)"/><ellipse cx="230" cy="308" rx="24" ry="11" fill="#40180c" transform="rotate(-56 230 308)"/><ellipse cx="434" cy="215" rx="18" ry="7" fill="#34140a" transform="rotate(-74 434 215)"/><ellipse cx="436" cy="712" rx="33" ry="8" fill="#6e3824" transform="rotate(-51 436 712)"/><ellipse cx="176" cy="360" rx="27" ry="11" fill="#34140a" transform="rotate(-31 176 360)"/><ellipse cx="257" cy="467" rx="24" ry="7" fill="#7e442c" transform="rotate(-66 257 467)"/><ellipse cx="471" cy="292" rx="32" ry="10" fill="#6e3824" transform="rotate(-62 471 292)"/><ellipse cx="230" cy="384" rx="19" ry="6" fill="#40180c" transform="rotate(-18 230 384)"/><ellipse cx="330" cy="212" rx="19" ry="9" fill="#a8684e" transform="rotate(-24 330 212)"/><ellipse cx="265" cy="441" rx="20" ry="11" fill="#40180c" transform="rotate(-70 265 441)"/><ellipse cx="201" cy="604" rx="33" ry="11" fill="#8a4a30" transform="rotate(-32 201 604)"/><ellipse cx="339" cy="161" rx="32" ry="7" fill="#40180c" transform="rotate(-32 339 161)"/><ellipse cx="487" cy="279" rx="32" ry="11" fill="#a8684e" transform="rotate(-74 487 279)"/><ellipse cx="352" cy="492" rx="26" ry="10" fill="#7e442c" transform="rotate(-47 352 492)"/><ellipse cx="462" cy="462" rx="28" ry="8" fill="#935438" transform="rotate(-46 462 462)"/><ellipse cx="440" cy="393" rx="28" ry="11" fill="#935438" transform="rotate(-24 440 393)"/><ellipse cx="465" cy="426" rx="18" ry="6" fill="#b88468" transform="rotate(-49 465 426)"/><ellipse cx="442" cy="147" rx="30" ry="9" fill="#b88468" transform="rotate(-66 442 147)"/><ellipse cx="219" cy="371" rx="18" ry="7" fill="#935438" transform="rotate(-51 219 371)"/><ellipse cx="291" cy="513" rx="28" ry="11" fill="#34140a" transform="rotate(-70 291 513)"/><ellipse cx="446" cy="678" rx="21" ry="12" fill="#a8684e" transform="rotate(-36 446 678)"/><ellipse cx="298" cy="520" rx="20" ry="7" fill="#7e442c" transform="rotate(-27 298 520)"/><ellipse cx="555" cy="586" rx="18" ry="8" fill="#40180c" transform="rotate(-79 555 586)"/><ellipse cx="338" cy="190" rx="21" ry="8" fill="#b88468" transform="rotate(-18 338 190)"/><ellipse cx="432" cy="563" rx="23" ry="7" fill="#7e442c" transform="rotate(-67 432 563)"/><ellipse cx="453" cy="250" rx="30" ry="7" fill="#a8684e" transform="rotate(-43 453 250)"/><ellipse cx="301" cy="381" rx="29" ry="10" fill="#a8684e" transform="rotate(-53 301 381)"/><ellipse cx="421" cy="184" rx="18" ry="11" fill="#6e3824" transform="rotate(-17 421 184)"/><ellipse cx="116" cy="515" rx="35" ry="12" fill="#6e3824" transform="rotate(-36 116 515)"/><ellipse cx="195" cy="361" rx="19" ry="11" fill="#40180c" transform="rotate(-85 195 361)"/><ellipse cx="527" cy="464" rx="24" ry="11" fill="#6e3824" transform="rotate(-82 527 464)"/><ellipse cx="223" cy="494" rx="33" ry="6" fill="#34140a" transform="rotate(-27 223 494)"/><ellipse cx="401" cy="172" rx="20" ry="9" fill="#6e3824" transform="rotate(-22 401 172)"/><ellipse cx="371" cy="468" rx="20" ry="7" fill="#4e2414" transform="rotate(-51 371 468)"/><ellipse cx="246" cy="536" rx="29" ry="7" fill="#935438" transform="rotate(-84 246 536)"/><ellipse cx="284" cy="349" rx="22" ry="11" fill="#34140a" transform="rotate(-74 284 349)"/><ellipse cx="217" cy="353" rx="29" ry="10" fill="#6e3824" transform="rotate(-67 217 353)"/><ellipse cx="370" cy="171" rx="26" ry="10" fill="#6e3824" transform="rotate(-27 370 171)"/><ellipse cx="414" cy="531" rx="30" ry="9" fill="#7e442c" transform="rotate(-40 414 531)"/><ellipse cx="519" cy="709" rx="29" ry="10" fill="#6e3824" transform="rotate(-37 519 709)"/><ellipse cx="418" cy="512" rx="24" ry="12" fill="#a8684e" transform="rotate(-77 418 512)"/><ellipse cx="587" cy="636" rx="20" ry="8" fill="#4e2414" transform="rotate(-84 587 636)"/><ellipse cx="488" cy="239" rx="33" ry="7" fill="#8a4a30" transform="rotate(-17 488 239)"/><ellipse cx="502" cy="601" rx="33" ry="7" fill="#4e2414" transform="rotate(-23 502 601)"/><ellipse cx="410" cy="349" rx="27" ry="12" fill="#4e2414" transform="rotate(-38 410 349)"/><ellipse cx="574" cy="741" rx="30" ry="7" fill="#6e3824" transform="rotate(-32 574 741)"/><ellipse cx="375" cy="361" rx="19" ry="7" fill="#a8684e" transform="rotate(-16 375 361)"/><ellipse cx="318" cy="537" rx="29" ry="7" fill="#6e3824" transform="rotate(-31 318 537)"/><ellipse cx="321" cy="366" rx="18" ry="11" fill="#a8684e" transform="rotate(-51 321 366)"/><ellipse cx="203" cy="633" rx="32" ry="10" fill="#34140a" transform="rotate(-61 203 633)"/><ellipse cx="479" cy="766" rx="17" ry="11" fill="#b88468" transform="rotate(-59 479 766)"/><ellipse cx="532" cy="418" rx="32" ry="9" fill="#8a4a30" transform="rotate(-51 532 418)"/><ellipse cx="529" cy="445" rx="27" ry="9" fill="#b88468" transform="rotate(-53 529 445)"/><ellipse cx="472" cy="166" rx="24" ry="7" fill="#935438" transform="rotate(-67 472 166)"/><ellipse cx="505" cy="635" rx="28" ry="8" fill="#6e3824" transform="rotate(-20 505 635)"/><ellipse cx="541" cy="605" rx="20" ry="11" fill="#40180c" transform="rotate(-68 541 605)"/><ellipse cx="234" cy="564" rx="26" ry="7" fill="#6e3824" transform="rotate(-64 234 564)"/><ellipse cx="500" cy="442" rx="34" ry="9" fill="#4e2414" transform="rotate(-83 500 442)"/><ellipse cx="244" cy="291" rx="19" ry="11" fill="#7e442c" transform="rotate(-27 244 291)"/><ellipse cx="439" cy="134" rx="26" ry="9" fill="#34140a" transform="rotate(-34 439 134)"/><ellipse cx="383" cy="401" rx="19" ry="8" fill="#4e2414" transform="rotate(-84 383 401)"/><ellipse cx="328" cy="541" rx="25" ry="7" fill="#6e3824" transform="rotate(-35 328 541)"/><ellipse cx="542" cy="703" rx="23" ry="7" fill="#935438" transform="rotate(-26 542 703)"/><ellipse cx="458" cy="315" rx="20" ry="7" fill="#34140a" transform="rotate(-17 458 315)"/><ellipse cx="423" cy="671" rx="20" ry="10" fill="#935438" transform="rotate(-70 423 671)"/><ellipse cx="425" cy="199" rx="27" ry="6" fill="#6e3824" transform="rotate(-76 425 199)"/><ellipse cx="222" cy="510" rx="25" ry="11" fill="#6e3824" transform="rotate(-78 222 510)"/><ellipse cx="522" cy="380" rx="33" ry="8" fill="#4e2414" transform="rotate(-18 522 380)"/><ellipse cx="398" cy="150" rx="20" ry="12" fill="#34140a" transform="rotate(-57 398 150)"/><ellipse cx="503" cy="588" rx="22" ry="8" fill="#40180c" transform="rotate(-48 503 588)"/><ellipse cx="353" cy="292" rx="18" ry="8" fill="#a8684e" transform="rotate(-21 353 292)"/><ellipse cx="511" cy="610" rx="24" ry="8" fill="#a8684e" transform="rotate(-75 511 610)"/><ellipse cx="451" cy="709" rx="26" ry="7" fill="#b88468" transform="rotate(-82 451 709)"/><ellipse cx="559" cy="592" rx="28" ry="9" fill="#a8684e" transform="rotate(-82 559 592)"/><ellipse cx="359" cy="226" rx="33" ry="8" fill="#40180c" transform="rotate(-70 359 226)"/><ellipse cx="445" cy="270" rx="21" ry="8" fill="#34140a" transform="rotate(-39 445 270)"/><ellipse cx="463" cy="704" rx="26" ry="8" fill="#4e2414" transform="rotate(-72 463 704)"/><ellipse cx="563" cy="670" rx="33" ry="7" fill="#935438" transform="rotate(-75 563 670)"/><ellipse cx="183" cy="377" rx="34" ry="7" fill="#a8684e" transform="rotate(-41 183 377)"/><ellipse cx="293" cy="243" rx="21" ry="7" fill="#8a4a30" transform="rotate(-39 293 243)"/><ellipse cx="569" cy="368" rx="26" ry="6" fill="#40180c" transform="rotate(-20 569 368)"/><ellipse cx="469" cy="610" rx="31" ry="6" fill="#935438" transform="rotate(-73 469 610)"/><ellipse cx="429" cy="192" rx="29" ry="11" fill="#a8684e" transform="rotate(-49 429 192)"/><ellipse cx="248" cy="618" rx="19" ry="8" fill="#8a4a30" transform="rotate(-18 248 618)"/><ellipse cx="463" cy="663" rx="25" ry="12" fill="#a8684e" transform="rotate(-16 463 663)"/><ellipse cx="278" cy="464" rx="21" ry="7" fill="#4e2414" transform="rotate(-39 278 464)"/><ellipse cx="143" cy="636" rx="18" ry="11" fill="#4e2414" transform="rotate(-74 143 636)"/><ellipse cx="459" cy="448" rx="20" ry="9" fill="#7e442c" transform="rotate(-82 459 448)"/><ellipse cx="386" cy="672" rx="28" ry="7" fill="#40180c" transform="rotate(-26 386 672)"/><ellipse cx="186" cy="596" rx="21" ry="8" fill="#4e2414" transform="rotate(-56 186 596)"/><ellipse cx="511" cy="676" rx="21" ry="8" fill="#7e442c" transform="rotate(-33 511 676)"/><ellipse cx="255" cy="402" rx="28" ry="12" fill="#935438" transform="rotate(-24 255 402)"/><ellipse cx="339" cy="583" rx="20" ry="10" fill="#40180c" transform="rotate(-20 339 583)"/><ellipse cx="610" cy="692" rx="33" ry="9" fill="#935438" transform="rotate(-21 610 692)"/><ellipse cx="570" cy="726" rx="28" ry="6" fill="#935438" transform="rotate(-28 570 726)"/><ellipse cx="497" cy="762" rx="28" ry="6" fill="#7e442c" transform="rotate(-49 497 762)"/><ellipse cx="326" cy="493" rx="31" ry="9" fill="#b88468" transform="rotate(-60 326 493)"/><ellipse cx="234" cy="488" rx="22" ry="12" fill="#6e3824" transform="rotate(-40 234 488)"/><ellipse cx="438" cy="483" rx="27" ry="7" fill="#b88468" transform="rotate(-31 438 483)"/><ellipse cx="375" cy="153" rx="33" ry="9" fill="#6e3824" transform="rotate(-79 375 153)"/><ellipse cx="343" cy="455" rx="26" ry="11" fill="#8a4a30" transform="rotate(-68 343 455)"/><ellipse cx="455" cy="325" rx="27" ry="11" fill="#34140a" transform="rotate(-42 455 325)"/><ellipse cx="427" cy="723" rx="35" ry="9" fill="#40180c" transform="rotate(-67 427 723)"/><ellipse cx="475" cy="292" rx="28" ry="8" fill="#b88468" transform="rotate(-32 475 292)"/><ellipse cx="359" cy="177" rx="32" ry="9" fill="#935438" transform="rotate(-43 359 177)"/><ellipse cx="499" cy="449" rx="29" ry="10" fill="#6e3824" transform="rotate(-29 499 449)"/><ellipse cx="303" cy="522" rx="17" ry="8" fill="#6e3824" transform="rotate(-72 303 522)"/><ellipse cx="293" cy="248" rx="34" ry="10" fill="#a8684e" transform="rotate(-38 293 248)"/><ellipse cx="545" cy="440" rx="18" ry="8" fill="#6e3824" transform="rotate(-44 545 440)"/><ellipse cx="291" cy="342" rx="22" ry="7" fill="#7e442c" transform="rotate(-55 291 342)"/><ellipse cx="565" cy="681" rx="20" ry="10" fill="#6e3824" transform="rotate(-78 565 681)"/><ellipse cx="261" cy="462" rx="18" ry="6" fill="#935438" transform="rotate(-21 261 462)"/><ellipse cx="448" cy="657" rx="20" ry="8" fill="#40180c" transform="rotate(-45 448 657)"/><ellipse cx="526" cy="421" rx="20" ry="12" fill="#40180c" transform="rotate(-82 526 421)"/><ellipse cx="295" cy="527" rx="23" ry="10" fill="#b88468" transform="rotate(-74 295 527)"/><ellipse cx="202" cy="454" rx="35" ry="6" fill="#935438" transform="rotate(-72 202 454)"/><ellipse cx="602" cy="640" rx="31" ry="9" fill="#b88468" transform="rotate(-61 602 640)"/><ellipse cx="139" cy="593" rx="27" ry="7" fill="#8a4a30" transform="rotate(-57 139 593)"/><ellipse cx="366" cy="178" rx="24" ry="10" fill="#34140a" transform="rotate(-26 366 178)"/><ellipse cx="523" cy="615" rx="24" ry="10" fill="#7e442c" transform="rotate(-23 523 615)"/><ellipse cx="467" cy="292" rx="27" ry="9" fill="#a8684e" transform="rotate(-52 467 292)"/><ellipse cx="482" cy="403" rx="23" ry="11" fill="#6e3824" transform="rotate(-22 482 403)"/><ellipse cx="244" cy="656" rx="34" ry="6" fill="#7e442c" transform="rotate(-37 244 656)"/><ellipse cx="239" cy="552" rx="23" ry="11" fill="#34140a" transform="rotate(-21 239 552)"/><ellipse cx="317" cy="373" rx="31" ry="7" fill="#935438" transform="rotate(-48 317 373)"/><ellipse cx="201" cy="529" rx="24" ry="7" fill="#8a4a30" transform="rotate(-48 201 529)"/><ellipse cx="366" cy="705" rx="34" ry="10" fill="#b88468" transform="rotate(-79 366 705)"/><ellipse cx="435" cy="252" rx="28" ry="10" fill="#b88468" transform="rotate(-62 435 252)"/><ellipse cx="401" cy="295" rx="29" ry="11" fill="#7e442c" transform="rotate(-16 401 295)"/><ellipse cx="223" cy="435" rx="18" ry="12" fill="#4e2414" transform="rotate(-58 223 435)"/><ellipse cx="485" cy="297" rx="17" ry="9" fill="#40180c" transform="rotate(-84 485 297)"/><ellipse cx="591" cy="422" rx="27" ry="8" fill="#935438" transform="rotate(-32 591 422)"/><ellipse cx="425" cy="153" rx="20" ry="6" fill="#a8684e" transform="rotate(-33 425 153)"/><ellipse cx="599" cy="702" rx="26" ry="7" fill="#a8684e" transform="rotate(-45 599 702)"/><ellipse cx="419" cy="266" rx="22" ry="10" fill="#935438" transform="rotate(-83 419 266)"/><ellipse cx="505" cy="636" rx="26" ry="12" fill="#34140a" transform="rotate(-61 505 636)"/><ellipse cx="483" cy="341" rx="21" ry="7" fill="#4e2414" transform="rotate(-48 483 341)"/><ellipse cx="345" cy="541" rx="17" ry="6" fill="#40180c" transform="rotate(-40 345 541)"/><ellipse cx="346" cy="535" rx="34" ry="11" fill="#6e3824" transform="rotate(-27 346 535)"/><ellipse cx="163" cy="346" rx="22" ry="8" fill="#a8684e" transform="rotate(-56 163 346)"/><ellipse cx="204" cy="653" rx="33" ry="6" fill="#4e2414" transform="rotate(-72 204 653)"/><ellipse cx="507" cy="280" rx="27" ry="8" fill="#8a4a30" transform="rotate(-67 507 280)"/><ellipse cx="434" cy="324" rx="30" ry="6" fill="#7e442c" transform="rotate(-74 434 324)"/><ellipse cx="354" cy="395" rx="32" ry="9" fill="#40180c" transform="rotate(-26 354 395)"/><ellipse cx="324" cy="540" rx="27" ry="8" fill="#8a4a30" transform="rotate(-75 324 540)"/><ellipse cx="158" cy="483" rx="22" ry="12" fill="#4e2414" transform="rotate(-50 158 483)"/><ellipse cx="225" cy="426" rx="23" ry="9" fill="#935438" transform="rotate(-38 225 426)"/><ellipse cx="427" cy="408" rx="23" ry="11" fill="#b88468" transform="rotate(-16 427 408)"/><ellipse cx="212" cy="544" rx="30" ry="9" fill="#6e3824" transform="rotate(-72 212 544)"/><ellipse cx="415" cy="365" rx="32" ry="11" fill="#40180c" transform="rotate(-80 415 365)"/><ellipse cx="546" cy="478" rx="24" ry="8" fill="#34140a" transform="rotate(-15 546 478)"/><ellipse cx="199" cy="322" rx="26" ry="11" fill="#6e3824" transform="rotate(-42 199 322)"/><ellipse cx="291" cy="560" rx="20" ry="11" fill="#7e442c" transform="rotate(-29 291 560)"/><ellipse cx="299" cy="410" rx="29" ry="10" fill="#40180c" transform="rotate(-29 299 410)"/><ellipse cx="449" cy="400" rx="20" ry="7" fill="#b88468" transform="rotate(-17 449 400)"/><ellipse cx="328" cy="490" rx="24" ry="6" fill="#34140a" transform="rotate(-30 328 490)"/><ellipse cx="348" cy="400" rx="31" ry="11" fill="#40180c" transform="rotate(-44 348 400)"/><ellipse cx="434" cy="344" rx="31" ry="12" fill="#a8684e" transform="rotate(-30 434 344)"/><ellipse cx="494" cy="681" rx="20" ry="8" fill="#a8684e" transform="rotate(-49 494 681)"/><ellipse cx="303" cy="586" rx="27" ry="9" fill="#8a4a30" transform="rotate(-67 303 586)"/><ellipse cx="255" cy="434" rx="22" ry="10" fill="#935438" transform="rotate(-37 255 434)"/><ellipse cx="376" cy="370" rx="28" ry="6" fill="#935438" transform="rotate(-41 376 370)"/><ellipse cx="214" cy="291" rx="32" ry="8" fill="#935438" transform="rotate(-55 214 291)"/><ellipse cx="385" cy="401" rx="32" ry="8" fill="#40180c" transform="rotate(-24 385 401)"/><ellipse cx="328" cy="187" rx="20" ry="7" fill="#6e3824" transform="rotate(-60 328 187)"/><ellipse cx="336" cy="536" rx="19" ry="9" fill="#8a4a30" transform="rotate(-29 336 536)"/><ellipse cx="391" cy="214" rx="18" ry="6" fill="#4e2414" transform="rotate(-17 391 214)"/><ellipse cx="510" cy="539" rx="21" ry="7" fill="#935438" transform="rotate(-22 510 539)"/><ellipse cx="189" cy="305" rx="25" ry="11" fill="#40180c" transform="rotate(-26 189 305)"/><ellipse cx="321" cy="390" rx="31" ry="8" fill="#a8684e" transform="rotate(-39 321 390)"/><ellipse cx="300" cy="370" rx="33" ry="11" fill="#40180c" transform="rotate(-54 300 370)"/><ellipse cx="596" cy="409" rx="19" ry="9" fill="#34140a" transform="rotate(-59 596 409)"/><ellipse cx="540" cy="717" rx="21" ry="10" fill="#a8684e" transform="rotate(-42 540 717)"/><ellipse cx="464" cy="163" rx="34" ry="12" fill="#4e2414" transform="rotate(-85 464 163)"/><ellipse cx="493" cy="478" rx="28" ry="12" fill="#8a4a30" transform="rotate(-62 493 478)"/><ellipse cx="508" cy="515" rx="30" ry="10" fill="#4e2414" transform="rotate(-54 508 515)"/><ellipse cx="545" cy="416" rx="25" ry="12" fill="#40180c" transform="rotate(-21 545 416)"/><ellipse cx="580" cy="455" rx="25" ry="7" fill="#6e3824" transform="rotate(-24 580 455)"/><ellipse cx="477" cy="487" rx="33" ry="11" fill="#34140a" transform="rotate(-25 477 487)"/><ellipse cx="394" cy="174" rx="23" ry="7" fill="#40180c" transform="rotate(-77 394 174)"/><ellipse cx="405" cy="619" rx="18" ry="6" fill="#4e2414" transform="rotate(-72 405 619)"/><ellipse cx="427" cy="464" rx="29" ry="12" fill="#7e442c" transform="rotate(-21 427 464)"/><ellipse cx="247" cy="295" rx="30" ry="12" fill="#8a4a30" transform="rotate(-62 247 295)"/><ellipse cx="463" cy="643" rx="29" ry="10" fill="#4e2414" transform="rotate(-47 463 643)"/><ellipse cx="494" cy="717" rx="24" ry="10" fill="#34140a" transform="rotate(-36 494 717)"/><ellipse cx="333" cy="578" rx="18" ry="6" fill="#935438" transform="rotate(-57 333 578)"/><ellipse cx="112" cy="586" rx="34" ry="8" fill="#a8684e" transform="rotate(-53 112 586)"/><ellipse cx="314" cy="657" rx="20" ry="12" fill="#40180c" transform="rotate(-38 314 657)"/><ellipse cx="586" cy="668" rx="23" ry="7" fill="#34140a" transform="rotate(-42 586 668)"/><ellipse cx="140" cy="583" rx="24" ry="12" fill="#b88468" transform="rotate(-56 140 583)"/><ellipse cx="223" cy="453" rx="20" ry="6" fill="#40180c" transform="rotate(-55 223 453)"/><ellipse cx="142" cy="510" rx="17" ry="11" fill="#34140a" transform="rotate(-82 142 510)"/><ellipse cx="412" cy="216" rx="32" ry="8" fill="#8a4a30" transform="rotate(-78 412 216)"/><ellipse cx="486" cy="426" rx="17" ry="11" fill="#935438" transform="rotate(-68 486 426)"/><ellipse cx="414" cy="418" rx="34" ry="11" fill="#4e2414" transform="rotate(-70 414 418)"/><ellipse cx="445" cy="340" rx="28" ry="9" fill="#4e2414" transform="rotate(-43 445 340)"/><ellipse cx="354" cy="147" rx="21" ry="8" fill="#40180c" transform="rotate(-22 354 147)"/><ellipse cx="178" cy="315" rx="19" ry="9" fill="#935438" transform="rotate(-29 178 315)"/><ellipse cx="429" cy="441" rx="20" ry="7" fill="#7e442c" transform="rotate(-59 429 441)"/><ellipse cx="294" cy="601" rx="35" ry="9" fill="#935438" transform="rotate(-58 294 601)"/><ellipse cx="413" cy="656" rx="20" ry="6" fill="#b88468" transform="rotate(-27 413 656)"/><ellipse cx="160" cy="465" rx="32" ry="8" fill="#b88468" transform="rotate(-79 160 465)"/><ellipse cx="236" cy="576" rx="25" ry="12" fill="#40180c" transform="rotate(-60 236 576)"/><ellipse cx="245" cy="237" rx="25" ry="6" fill="#40180c" transform="rotate(-59 245 237)"/><ellipse cx="438" cy="717" rx="22" ry="11" fill="#935438" transform="rotate(-75 438 717)"/><ellipse cx="356" cy="267" rx="21" ry="8" fill="#40180c" transform="rotate(-36 356 267)"/><ellipse cx="512" cy="487" rx="32" ry="8" fill="#8a4a30" transform="rotate(-71 512 487)"/><ellipse cx="325" cy="421" rx="25" ry="11" fill="#40180c" transform="rotate(-17 325 421)"/><ellipse cx="176" cy="409" rx="31" ry="11" fill="#34140a" transform="rotate(-34 176 409)"/><ellipse cx="570" cy="448" rx="20" ry="10" fill="#935438" transform="rotate(-52 570 448)"/><ellipse cx="340" cy="500" rx="34" ry="11" fill="#935438" transform="rotate(-37 340 500)"/><ellipse cx="417" cy="207" rx="33" ry="10" fill="#8a4a30" transform="rotate(-81 417 207)"/><ellipse cx="499" cy="368" rx="19" ry="11" fill="#935438" transform="rotate(-79 499 368)"/><ellipse cx="276" cy="630" rx="19" ry="7" fill="#4e2414" transform="rotate(-17 276 630)"/><ellipse cx="179" cy="496" rx="17" ry="10" fill="#40180c" transform="rotate(-59 179 496)"/><ellipse cx="157" cy="508" rx="34" ry="9" fill="#935438" transform="rotate(-61 157 508)"/><ellipse cx="551" cy="604" rx="22" ry="6" fill="#6e3824" transform="rotate(-67 551 604)"/><ellipse cx="482" cy="262" rx="35" ry="7" fill="#935438" transform="rotate(-35 482 262)"/>
<path d="M450 118 L520 98 L640 90 L860 100 L990 140 L1050 205 L1000 280 L930 340 L880 420 L850 480 L800 450 L740 420 L660 425 L610 440 L560 340 L500 250 L470 150Z" fill="#54481c" stroke="#54481c" stroke-width="20" stroke-linejoin="round"/>
<ellipse cx="561" cy="137" rx="20" ry="8" fill="#403612" transform="rotate(117 561 137)"/><ellipse cx="612" cy="109" rx="22" ry="12" fill="#30280c" transform="rotate(176 612 109)"/><ellipse cx="804" cy="211" rx="18" ry="14" fill="#90803e" transform="rotate(34 804 211)"/><ellipse cx="790" cy="362" rx="13" ry="10" fill="#a89858" transform="rotate(110 790 362)"/><ellipse cx="618" cy="196" rx="12" ry="11" fill="#7e7034" transform="rotate(125 618 196)"/><ellipse cx="754" cy="292" rx="15" ry="10" fill="#30280c" transform="rotate(74 754 292)"/><ellipse cx="800" cy="206" rx="17" ry="13" fill="#b4a468" transform="rotate(107 800 206)"/><ellipse cx="990" cy="257" rx="15" ry="10" fill="#221c06" transform="rotate(16 990 257)"/><ellipse cx="690" cy="128" rx="11" ry="10" fill="#30280c" transform="rotate(161 690 128)"/><ellipse cx="828" cy="263" rx="21" ry="12" fill="#30280c" transform="rotate(11 828 263)"/><ellipse cx="571" cy="361" rx="13" ry="8" fill="#7e7034" transform="rotate(9 571 361)"/><ellipse cx="802" cy="107" rx="13" ry="9" fill="#b4a468" transform="rotate(22 802 107)"/><ellipse cx="860" cy="425" rx="19" ry="10" fill="#90803e" transform="rotate(86 860 425)"/><ellipse cx="815" cy="458" rx="15" ry="8" fill="#b4a468" transform="rotate(3 815 458)"/><ellipse cx="808" cy="363" rx="23" ry="10" fill="#90803e" transform="rotate(32 808 363)"/><ellipse cx="521" cy="174" rx="13" ry="9" fill="#90803e" transform="rotate(46 521 174)"/><ellipse cx="575" cy="224" rx="21" ry="7" fill="#b4a468" transform="rotate(132 575 224)"/><ellipse cx="677" cy="421" rx="20" ry="12" fill="#5a4e1c" transform="rotate(6 677 421)"/><ellipse cx="702" cy="189" rx="14" ry="8" fill="#90803e" transform="rotate(160 702 189)"/><ellipse cx="849" cy="152" rx="12" ry="11" fill="#403612" transform="rotate(160 849 152)"/><ellipse cx="812" cy="106" rx="14" ry="13" fill="#746630" transform="rotate(88 812 106)"/><ellipse cx="722" cy="348" rx="13" ry="10" fill="#7e7034" transform="rotate(80 722 348)"/><ellipse cx="834" cy="158" rx="19" ry="9" fill="#b4a468" transform="rotate(144 834 158)"/><ellipse cx="957" cy="193" rx="13" ry="14" fill="#b4a468" transform="rotate(47 957 193)"/><ellipse cx="756" cy="362" rx="13" ry="10" fill="#b4a468" transform="rotate(147 756 362)"/><ellipse cx="682" cy="346" rx="12" ry="14" fill="#30280c" transform="rotate(35 682 346)"/><ellipse cx="653" cy="111" rx="13" ry="10" fill="#30280c" transform="rotate(94 653 111)"/><ellipse cx="643" cy="389" rx="19" ry="13" fill="#b4a468" transform="rotate(20 643 389)"/><ellipse cx="945" cy="128" rx="14" ry="9" fill="#30280c" transform="rotate(12 945 128)"/><ellipse cx="795" cy="295" rx="23" ry="14" fill="#403612" transform="rotate(99 795 295)"/><ellipse cx="643" cy="200" rx="12" ry="10" fill="#746630" transform="rotate(43 643 200)"/><ellipse cx="546" cy="201" rx="21" ry="10" fill="#30280c" transform="rotate(71 546 201)"/><ellipse cx="775" cy="432" rx="22" ry="11" fill="#403612" transform="rotate(173 775 432)"/><ellipse cx="618" cy="302" rx="20" ry="11" fill="#5a4e1c" transform="rotate(17 618 302)"/><ellipse cx="717" cy="190" rx="12" ry="11" fill="#30280c" transform="rotate(44 717 190)"/><ellipse cx="931" cy="287" rx="14" ry="8" fill="#403612" transform="rotate(12 931 287)"/><ellipse cx="850" cy="439" rx="12" ry="12" fill="#b4a468" transform="rotate(78 850 439)"/><ellipse cx="667" cy="202" rx="12" ry="14" fill="#90803e" transform="rotate(2 667 202)"/><ellipse cx="902" cy="121" rx="19" ry="7" fill="#a89858" transform="rotate(101 902 121)"/><ellipse cx="632" cy="183" rx="20" ry="11" fill="#403612" transform="rotate(124 632 183)"/><ellipse cx="880" cy="393" rx="18" ry="13" fill="#221c06" transform="rotate(120 880 393)"/><ellipse cx="607" cy="429" rx="19" ry="9" fill="#5a4e1c" transform="rotate(141 607 429)"/><ellipse cx="625" cy="108" rx="14" ry="11" fill="#b4a468" transform="rotate(167 625 108)"/><ellipse cx="659" cy="236" rx="12" ry="12" fill="#30280c" transform="rotate(174 659 236)"/><ellipse cx="635" cy="393" rx="20" ry="9" fill="#b4a468" transform="rotate(23 635 393)"/><ellipse cx="528" cy="235" rx="11" ry="8" fill="#a89858" transform="rotate(117 528 235)"/><ellipse cx="740" cy="154" rx="14" ry="8" fill="#90803e" transform="rotate(108 740 154)"/><ellipse cx="867" cy="351" rx="16" ry="13" fill="#b4a468" transform="rotate(123 867 351)"/><ellipse cx="797" cy="179" rx="18" ry="10" fill="#746630" transform="rotate(32 797 179)"/><ellipse cx="910" cy="127" rx="14" ry="12" fill="#7e7034" transform="rotate(154 910 127)"/><ellipse cx="818" cy="197" rx="22" ry="11" fill="#403612" transform="rotate(131 818 197)"/><ellipse cx="773" cy="152" rx="16" ry="10" fill="#746630" transform="rotate(172 773 152)"/><ellipse cx="963" cy="242" rx="20" ry="8" fill="#b4a468" transform="rotate(52 963 242)"/><ellipse cx="619" cy="340" rx="15" ry="14" fill="#5a4e1c" transform="rotate(7 619 340)"/><ellipse cx="723" cy="155" rx="13" ry="10" fill="#90803e" transform="rotate(3 723 155)"/><ellipse cx="838" cy="280" rx="20" ry="10" fill="#403612" transform="rotate(50 838 280)"/><ellipse cx="583" cy="164" rx="21" ry="13" fill="#90803e" transform="rotate(70 583 164)"/><ellipse cx="903" cy="231" rx="17" ry="14" fill="#221c06" transform="rotate(165 903 231)"/><ellipse cx="737" cy="100" rx="12" ry="7" fill="#a89858" transform="rotate(27 737 100)"/><ellipse cx="745" cy="303" rx="22" ry="15" fill="#5a4e1c" transform="rotate(40 745 303)"/><ellipse cx="552" cy="191" rx="19" ry="8" fill="#221c06" transform="rotate(164 552 191)"/><ellipse cx="970" cy="143" rx="23" ry="14" fill="#a89858" transform="rotate(24 970 143)"/><ellipse cx="859" cy="226" rx="19" ry="12" fill="#90803e" transform="rotate(179 859 226)"/><ellipse cx="783" cy="177" rx="13" ry="9" fill="#30280c" transform="rotate(114 783 177)"/><ellipse cx="587" cy="109" rx="12" ry="10" fill="#a89858" transform="rotate(88 587 109)"/><ellipse cx="881" cy="357" rx="20" ry="10" fill="#221c06" transform="rotate(142 881 357)"/><ellipse cx="856" cy="385" rx="15" ry="7" fill="#30280c" transform="rotate(138 856 385)"/><ellipse cx="545" cy="112" rx="21" ry="11" fill="#5a4e1c" transform="rotate(97 545 112)"/><ellipse cx="615" cy="215" rx="17" ry="12" fill="#746630" transform="rotate(175 615 215)"/><ellipse cx="930" cy="237" rx="17" ry="11" fill="#7e7034" transform="rotate(19 930 237)"/><ellipse cx="815" cy="229" rx="12" ry="9" fill="#30280c" transform="rotate(38 815 229)"/><ellipse cx="809" cy="421" rx="21" ry="14" fill="#403612" transform="rotate(155 809 421)"/><ellipse cx="670" cy="412" rx="23" ry="13" fill="#403612" transform="rotate(51 670 412)"/><ellipse cx="698" cy="380" rx="17" ry="15" fill="#90803e" transform="rotate(137 698 380)"/><ellipse cx="918" cy="182" rx="21" ry="11" fill="#90803e" transform="rotate(78 918 182)"/><ellipse cx="839" cy="264" rx="12" ry="10" fill="#221c06" transform="rotate(175 839 264)"/><ellipse cx="740" cy="283" rx="21" ry="11" fill="#30280c" transform="rotate(123 740 283)"/><ellipse cx="860" cy="300" rx="16" ry="9" fill="#7e7034" transform="rotate(178 860 300)"/><ellipse cx="736" cy="284" rx="22" ry="13" fill="#221c06" transform="rotate(22 736 284)"/><ellipse cx="792" cy="233" rx="20" ry="13" fill="#403612" transform="rotate(3 792 233)"/><ellipse cx="860" cy="199" rx="16" ry="11" fill="#5a4e1c" transform="rotate(70 860 199)"/><ellipse cx="480" cy="161" rx="12" ry="9" fill="#5a4e1c" transform="rotate(38 480 161)"/><ellipse cx="667" cy="100" rx="23" ry="13" fill="#7e7034" transform="rotate(136 667 100)"/><ellipse cx="759" cy="141" rx="17" ry="12" fill="#30280c" transform="rotate(141 759 141)"/><ellipse cx="564" cy="126" rx="23" ry="13" fill="#90803e" transform="rotate(8 564 126)"/><ellipse cx="568" cy="291" rx="12" ry="8" fill="#5a4e1c" transform="rotate(98 568 291)"/><ellipse cx="619" cy="195" rx="18" ry="10" fill="#746630" transform="rotate(60 619 195)"/><ellipse cx="585" cy="230" rx="14" ry="14" fill="#a89858" transform="rotate(72 585 230)"/><ellipse cx="496" cy="150" rx="23" ry="10" fill="#30280c" transform="rotate(166 496 150)"/><ellipse cx="831" cy="206" rx="13" ry="15" fill="#221c06" transform="rotate(92 831 206)"/><ellipse cx="625" cy="152" rx="12" ry="11" fill="#746630" transform="rotate(158 625 152)"/><ellipse cx="808" cy="308" rx="20" ry="10" fill="#90803e" transform="rotate(42 808 308)"/><ellipse cx="1020" cy="195" rx="21" ry="12" fill="#30280c" transform="rotate(20 1020 195)"/><ellipse cx="714" cy="309" rx="20" ry="13" fill="#403612" transform="rotate(151 714 309)"/><ellipse cx="603" cy="106" rx="12" ry="12" fill="#746630" transform="rotate(54 603 106)"/><ellipse cx="922" cy="284" rx="20" ry="12" fill="#403612" transform="rotate(126 922 284)"/><ellipse cx="632" cy="293" rx="19" ry="13" fill="#30280c" transform="rotate(114 632 293)"/><ellipse cx="738" cy="108" rx="18" ry="14" fill="#90803e" transform="rotate(178 738 108)"/><ellipse cx="869" cy="439" rx="14" ry="11" fill="#90803e" transform="rotate(58 869 439)"/><ellipse cx="879" cy="207" rx="17" ry="13" fill="#a89858" transform="rotate(80 879 207)"/><ellipse cx="549" cy="278" rx="16" ry="14" fill="#7e7034" transform="rotate(21 549 278)"/><ellipse cx="740" cy="401" rx="16" ry="14" fill="#a89858" transform="rotate(6 740 401)"/><ellipse cx="512" cy="125" rx="17" ry="14" fill="#403612" transform="rotate(124 512 125)"/><ellipse cx="707" cy="299" rx="16" ry="9" fill="#403612" transform="rotate(38 707 299)"/><ellipse cx="980" cy="276" rx="12" ry="12" fill="#403612" transform="rotate(163 980 276)"/><ellipse cx="677" cy="342" rx="22" ry="10" fill="#b4a468" transform="rotate(91 677 342)"/><ellipse cx="899" cy="233" rx="16" ry="11" fill="#746630" transform="rotate(71 899 233)"/><ellipse cx="556" cy="286" rx="17" ry="12" fill="#b4a468" transform="rotate(135 556 286)"/><ellipse cx="837" cy="350" rx="13" ry="13" fill="#746630" transform="rotate(161 837 350)"/><ellipse cx="683" cy="199" rx="22" ry="11" fill="#b4a468" transform="rotate(18 683 199)"/><ellipse cx="878" cy="110" rx="13" ry="12" fill="#221c06" transform="rotate(131 878 110)"/><ellipse cx="691" cy="115" rx="20" ry="9" fill="#a89858" transform="rotate(148 691 115)"/><ellipse cx="490" cy="185" rx="19" ry="12" fill="#90803e" transform="rotate(72 490 185)"/><ellipse cx="819" cy="455" rx="22" ry="14" fill="#403612" transform="rotate(146 819 455)"/><ellipse cx="857" cy="285" rx="14" ry="13" fill="#30280c" transform="rotate(27 857 285)"/><ellipse cx="856" cy="230" rx="15" ry="14" fill="#a89858" transform="rotate(112 856 230)"/><ellipse cx="727" cy="368" rx="13" ry="10" fill="#746630" transform="rotate(8 727 368)"/><ellipse cx="742" cy="217" rx="19" ry="12" fill="#221c06" transform="rotate(44 742 217)"/><ellipse cx="946" cy="226" rx="22" ry="12" fill="#221c06" transform="rotate(170 946 226)"/><ellipse cx="766" cy="289" rx="14" ry="10" fill="#5a4e1c" transform="rotate(61 766 289)"/><ellipse cx="934" cy="144" rx="17" ry="12" fill="#7e7034" transform="rotate(34 934 144)"/><ellipse cx="956" cy="279" rx="20" ry="13" fill="#90803e" transform="rotate(68 956 279)"/><ellipse cx="605" cy="366" rx="14" ry="8" fill="#221c06" transform="rotate(81 605 366)"/><ellipse cx="1008" cy="197" rx="20" ry="13" fill="#30280c" transform="rotate(28 1008 197)"/><ellipse cx="545" cy="136" rx="15" ry="12" fill="#a89858" transform="rotate(101 545 136)"/><ellipse cx="771" cy="414" rx="11" ry="7" fill="#90803e" transform="rotate(130 771 414)"/><ellipse cx="499" cy="117" rx="18" ry="8" fill="#221c06" transform="rotate(14 499 117)"/><ellipse cx="772" cy="194" rx="21" ry="11" fill="#5a4e1c" transform="rotate(161 772 194)"/><ellipse cx="744" cy="403" rx="11" ry="9" fill="#30280c" transform="rotate(126 744 403)"/><ellipse cx="871" cy="309" rx="13" ry="11" fill="#403612" transform="rotate(176 871 309)"/><ellipse cx="704" cy="103" rx="19" ry="11" fill="#b4a468" transform="rotate(86 704 103)"/><ellipse cx="894" cy="234" rx="18" ry="15" fill="#90803e" transform="rotate(168 894 234)"/><ellipse cx="689" cy="145" rx="12" ry="7" fill="#221c06" transform="rotate(176 689 145)"/><ellipse cx="911" cy="240" rx="20" ry="7" fill="#90803e" transform="rotate(100 911 240)"/><ellipse cx="728" cy="322" rx="15" ry="8" fill="#5a4e1c" transform="rotate(143 728 322)"/><ellipse cx="643" cy="416" rx="17" ry="11" fill="#746630" transform="rotate(78 643 416)"/><ellipse cx="724" cy="102" rx="12" ry="7" fill="#90803e" transform="rotate(101 724 102)"/><ellipse cx="825" cy="411" rx="22" ry="14" fill="#90803e" transform="rotate(77 825 411)"/><ellipse cx="855" cy="126" rx="16" ry="11" fill="#403612" transform="rotate(57 855 126)"/><ellipse cx="836" cy="216" rx="17" ry="10" fill="#746630" transform="rotate(51 836 216)"/><ellipse cx="930" cy="250" rx="17" ry="9" fill="#221c06" transform="rotate(138 930 250)"/><ellipse cx="785" cy="433" rx="19" ry="14" fill="#30280c" transform="rotate(116 785 433)"/><ellipse cx="569" cy="128" rx="16" ry="8" fill="#403612" transform="rotate(49 569 128)"/><ellipse cx="865" cy="277" rx="22" ry="9" fill="#221c06" transform="rotate(147 865 277)"/><ellipse cx="599" cy="135" rx="20" ry="12" fill="#221c06" transform="rotate(64 599 135)"/><ellipse cx="552" cy="218" rx="12" ry="8" fill="#a89858" transform="rotate(51 552 218)"/><ellipse cx="512" cy="101" rx="20" ry="9" fill="#746630" transform="rotate(55 512 101)"/><ellipse cx="795" cy="390" rx="11" ry="8" fill="#5a4e1c" transform="rotate(52 795 390)"/><ellipse cx="692" cy="356" rx="16" ry="11" fill="#b4a468" transform="rotate(6 692 356)"/><ellipse cx="848" cy="191" rx="16" ry="8" fill="#90803e" transform="rotate(88 848 191)"/><ellipse cx="693" cy="178" rx="16" ry="9" fill="#7e7034" transform="rotate(106 693 178)"/><ellipse cx="855" cy="458" rx="22" ry="10" fill="#30280c" transform="rotate(12 855 458)"/><ellipse cx="978" cy="285" rx="21" ry="10" fill="#221c06" transform="rotate(115 978 285)"/><ellipse cx="695" cy="129" rx="21" ry="9" fill="#7e7034" transform="rotate(133 695 129)"/><ellipse cx="898" cy="264" rx="13" ry="11" fill="#a89858" transform="rotate(50 898 264)"/><ellipse cx="884" cy="280" rx="20" ry="12" fill="#30280c" transform="rotate(95 884 280)"/><ellipse cx="751" cy="98" rx="12" ry="12" fill="#403612" transform="rotate(167 751 98)"/><ellipse cx="702" cy="416" rx="16" ry="10" fill="#90803e" transform="rotate(100 702 416)"/><ellipse cx="887" cy="342" rx="12" ry="7" fill="#403612" transform="rotate(5 887 342)"/><ellipse cx="653" cy="166" rx="20" ry="10" fill="#221c06" transform="rotate(43 653 166)"/><ellipse cx="798" cy="201" rx="16" ry="8" fill="#90803e" transform="rotate(154 798 201)"/><ellipse cx="665" cy="234" rx="18" ry="12" fill="#746630" transform="rotate(134 665 234)"/><ellipse cx="550" cy="148" rx="22" ry="14" fill="#5a4e1c" transform="rotate(111 550 148)"/><ellipse cx="609" cy="214" rx="11" ry="9" fill="#403612" transform="rotate(125 609 214)"/><ellipse cx="731" cy="352" rx="19" ry="9" fill="#746630" transform="rotate(68 731 352)"/><ellipse cx="623" cy="122" rx="18" ry="13" fill="#b4a468" transform="rotate(73 623 122)"/><ellipse cx="904" cy="287" rx="12" ry="8" fill="#90803e" transform="rotate(143 904 287)"/><ellipse cx="814" cy="354" rx="21" ry="8" fill="#746630" transform="rotate(12 814 354)"/><ellipse cx="698" cy="411" rx="22" ry="8" fill="#746630" transform="rotate(81 698 411)"/><ellipse cx="643" cy="99" rx="16" ry="10" fill="#30280c" transform="rotate(32 643 99)"/><ellipse cx="759" cy="334" rx="21" ry="14" fill="#30280c" transform="rotate(170 759 334)"/><ellipse cx="889" cy="308" rx="22" ry="11" fill="#b4a468" transform="rotate(151 889 308)"/><ellipse cx="998" cy="218" rx="12" ry="15" fill="#7e7034" transform="rotate(167 998 218)"/><ellipse cx="738" cy="403" rx="16" ry="12" fill="#a89858" transform="rotate(96 738 403)"/><ellipse cx="783" cy="236" rx="17" ry="9" fill="#746630" transform="rotate(119 783 236)"/><ellipse cx="520" cy="278" rx="16" ry="8" fill="#221c06" transform="rotate(16 520 278)"/><ellipse cx="509" cy="118" rx="21" ry="7" fill="#90803e" transform="rotate(45 509 118)"/><ellipse cx="824" cy="233" rx="18" ry="10" fill="#a89858" transform="rotate(168 824 233)"/><ellipse cx="858" cy="423" rx="15" ry="10" fill="#a89858" transform="rotate(174 858 423)"/><ellipse cx="645" cy="340" rx="16" ry="13" fill="#5a4e1c" transform="rotate(88 645 340)"/><ellipse cx="783" cy="158" rx="16" ry="10" fill="#b4a468" transform="rotate(74 783 158)"/><ellipse cx="716" cy="237" rx="14" ry="7" fill="#a89858" transform="rotate(125 716 237)"/><ellipse cx="750" cy="281" rx="20" ry="8" fill="#30280c" transform="rotate(29 750 281)"/><ellipse cx="697" cy="204" rx="18" ry="9" fill="#a89858" transform="rotate(53 697 204)"/><ellipse cx="665" cy="374" rx="21" ry="11" fill="#a89858" transform="rotate(1 665 374)"/><ellipse cx="919" cy="281" rx="22" ry="14" fill="#a89858" transform="rotate(69 919 281)"/><ellipse cx="558" cy="193" rx="19" ry="14" fill="#30280c" transform="rotate(11 558 193)"/><ellipse cx="566" cy="107" rx="12" ry="12" fill="#b4a468" transform="rotate(9 566 107)"/><ellipse cx="517" cy="272" rx="13" ry="12" fill="#30280c" transform="rotate(59 517 272)"/><ellipse cx="545" cy="233" rx="13" ry="9" fill="#403612" transform="rotate(153 545 233)"/><ellipse cx="615" cy="166" rx="12" ry="10" fill="#221c06" transform="rotate(112 615 166)"/><ellipse cx="1010" cy="253" rx="15" ry="12" fill="#30280c" transform="rotate(174 1010 253)"/><ellipse cx="784" cy="267" rx="16" ry="8" fill="#90803e" transform="rotate(113 784 267)"/><ellipse cx="853" cy="269" rx="13" ry="10" fill="#90803e" transform="rotate(112 853 269)"/><ellipse cx="884" cy="339" rx="21" ry="13" fill="#746630" transform="rotate(152 884 339)"/><ellipse cx="699" cy="385" rx="21" ry="13" fill="#746630" transform="rotate(71 699 385)"/><ellipse cx="750" cy="107" rx="21" ry="10" fill="#a89858" transform="rotate(8 750 107)"/><ellipse cx="790" cy="110" rx="18" ry="14" fill="#7e7034" transform="rotate(99 790 110)"/><ellipse cx="800" cy="331" rx="16" ry="8" fill="#30280c" transform="rotate(102 800 331)"/><ellipse cx="936" cy="178" rx="18" ry="15" fill="#221c06" transform="rotate(130 936 178)"/><ellipse cx="615" cy="337" rx="19" ry="9" fill="#746630" transform="rotate(37 615 337)"/><ellipse cx="990" cy="190" rx="16" ry="11" fill="#403612" transform="rotate(49 990 190)"/><ellipse cx="794" cy="127" rx="18" ry="12" fill="#746630" transform="rotate(135 794 127)"/><ellipse cx="666" cy="201" rx="11" ry="12" fill="#90803e" transform="rotate(158 666 201)"/><ellipse cx="838" cy="194" rx="13" ry="13" fill="#b4a468" transform="rotate(117 838 194)"/><ellipse cx="810" cy="320" rx="12" ry="8" fill="#30280c" transform="rotate(117 810 320)"/><ellipse cx="744" cy="363" rx="12" ry="8" fill="#b4a468" transform="rotate(32 744 363)"/><ellipse cx="761" cy="397" rx="16" ry="13" fill="#746630" transform="rotate(87 761 397)"/><ellipse cx="518" cy="116" rx="21" ry="13" fill="#a89858" transform="rotate(5 518 116)"/><ellipse cx="550" cy="277" rx="17" ry="9" fill="#7e7034" transform="rotate(170 550 277)"/><ellipse cx="935" cy="298" rx="16" ry="12" fill="#221c06" transform="rotate(152 935 298)"/><ellipse cx="805" cy="388" rx="17" ry="12" fill="#746630" transform="rotate(102 805 388)"/><ellipse cx="676" cy="128" rx="13" ry="11" fill="#90803e" transform="rotate(164 676 128)"/><ellipse cx="981" cy="215" rx="21" ry="11" fill="#5a4e1c" transform="rotate(93 981 215)"/><ellipse cx="674" cy="129" rx="22" ry="13" fill="#221c06" transform="rotate(123 674 129)"/><ellipse cx="628" cy="320" rx="14" ry="13" fill="#5a4e1c" transform="rotate(125 628 320)"/><ellipse cx="527" cy="201" rx="20" ry="11" fill="#7e7034" transform="rotate(52 527 201)"/><ellipse cx="942" cy="148" rx="19" ry="14" fill="#221c06" transform="rotate(62 942 148)"/><ellipse cx="833" cy="347" rx="14" ry="7" fill="#7e7034" transform="rotate(55 833 347)"/><ellipse cx="823" cy="368" rx="13" ry="14" fill="#a89858" transform="rotate(49 823 368)"/><ellipse cx="754" cy="172" rx="12" ry="15" fill="#403612" transform="rotate(140 754 172)"/><ellipse cx="849" cy="358" rx="14" ry="13" fill="#746630" transform="rotate(113 849 358)"/><ellipse cx="778" cy="171" rx="18" ry="8" fill="#746630" transform="rotate(35 778 171)"/><ellipse cx="697" cy="254" rx="17" ry="8" fill="#a89858" transform="rotate(106 697 254)"/><ellipse cx="745" cy="163" rx="14" ry="8" fill="#7e7034" transform="rotate(34 745 163)"/><ellipse cx="622" cy="237" rx="13" ry="7" fill="#a89858" transform="rotate(121 622 237)"/><ellipse cx="771" cy="334" rx="14" ry="15" fill="#30280c" transform="rotate(32 771 334)"/><ellipse cx="776" cy="322" rx="14" ry="11" fill="#746630" transform="rotate(77 776 322)"/><ellipse cx="612" cy="260" rx="12" ry="11" fill="#746630" transform="rotate(135 612 260)"/><ellipse cx="907" cy="199" rx="22" ry="11" fill="#7e7034" transform="rotate(53 907 199)"/><ellipse cx="821" cy="415" rx="23" ry="13" fill="#b4a468" transform="rotate(128 821 415)"/><ellipse cx="764" cy="293" rx="13" ry="14" fill="#221c06" transform="rotate(119 764 293)"/><ellipse cx="839" cy="211" rx="14" ry="12" fill="#403612" transform="rotate(103 839 211)"/><ellipse cx="834" cy="412" rx="21" ry="14" fill="#746630" transform="rotate(119 834 412)"/><ellipse cx="568" cy="126" rx="21" ry="13" fill="#b4a468" transform="rotate(148 568 126)"/><ellipse cx="963" cy="200" rx="17" ry="8" fill="#5a4e1c" transform="rotate(24 963 200)"/><ellipse cx="860" cy="102" rx="19" ry="9" fill="#746630" transform="rotate(114 860 102)"/><ellipse cx="686" cy="171" rx="19" ry="11" fill="#90803e" transform="rotate(57 686 171)"/><ellipse cx="585" cy="317" rx="17" ry="11" fill="#403612" transform="rotate(142 585 317)"/><ellipse cx="715" cy="189" rx="23" ry="14" fill="#b4a468" transform="rotate(47 715 189)"/><ellipse cx="825" cy="459" rx="21" ry="8" fill="#30280c" transform="rotate(45 825 459)"/><ellipse cx="580" cy="155" rx="17" ry="14" fill="#5a4e1c" transform="rotate(19 580 155)"/><ellipse cx="815" cy="103" rx="21" ry="7" fill="#746630" transform="rotate(72 815 103)"/><ellipse cx="637" cy="273" rx="22" ry="9" fill="#221c06" transform="rotate(10 637 273)"/><ellipse cx="648" cy="161" rx="17" ry="11" fill="#a89858" transform="rotate(166 648 161)"/><ellipse cx="625" cy="310" rx="22" ry="13" fill="#221c06" transform="rotate(23 625 310)"/><ellipse cx="528" cy="210" rx="14" ry="13" fill="#7e7034" transform="rotate(37 528 210)"/><ellipse cx="755" cy="382" rx="23" ry="13" fill="#221c06" transform="rotate(168 755 382)"/><ellipse cx="799" cy="301" rx="15" ry="13" fill="#90803e" transform="rotate(144 799 301)"/><ellipse cx="572" cy="306" rx="15" ry="13" fill="#403612" transform="rotate(159 572 306)"/><ellipse cx="585" cy="339" rx="22" ry="8" fill="#221c06" transform="rotate(135 585 339)"/><ellipse cx="499" cy="209" rx="21" ry="12" fill="#5a4e1c" transform="rotate(25 499 209)"/><ellipse cx="682" cy="145" rx="18" ry="12" fill="#5a4e1c" transform="rotate(27 682 145)"/><ellipse cx="553" cy="104" rx="18" ry="9" fill="#746630" transform="rotate(157 553 104)"/><ellipse cx="810" cy="202" rx="17" ry="15" fill="#7e7034" transform="rotate(58 810 202)"/><ellipse cx="625" cy="193" rx="15" ry="14" fill="#7e7034" transform="rotate(124 625 193)"/><ellipse cx="545" cy="161" rx="16" ry="9" fill="#746630" transform="rotate(171 545 161)"/><ellipse cx="802" cy="437" rx="14" ry="8" fill="#30280c" transform="rotate(149 802 437)"/><ellipse cx="775" cy="375" rx="13" ry="14" fill="#746630" transform="rotate(74 775 375)"/><ellipse cx="893" cy="283" rx="13" ry="14" fill="#746630" transform="rotate(19 893 283)"/>
<path d="M940 320 L1030 250 L1160 225 L1240 300 L1285 400 L1330 470 L1338 560 L1300 650 L1280 700 L1180 750 L1070 760 L1040 680 L1000 620 L930 580 L870 540 L860 460Z" fill="#d42c14" stroke="#d42c14" stroke-width="24" stroke-linejoin="round"/>
<ellipse cx="1143" cy="452" rx="44" ry="15" fill="#b01c0a" transform="rotate(52 1143 452)"/><ellipse cx="1329" cy="492" rx="34" ry="12" fill="#8c1204" transform="rotate(16 1329 492)"/><ellipse cx="1234" cy="540" rx="51" ry="16" fill="#e03018" transform="rotate(61 1234 540)"/><ellipse cx="1223" cy="422" rx="40" ry="22" fill="#c82410" transform="rotate(55 1223 422)"/><ellipse cx="945" cy="483" rx="30" ry="14" fill="#b01c0a" transform="rotate(70 945 483)"/><ellipse cx="992" cy="531" rx="28" ry="23" fill="#c82410" transform="rotate(72 992 531)"/><ellipse cx="1119" cy="704" rx="32" ry="13" fill="#e03018" transform="rotate(47 1119 704)"/><ellipse cx="1235" cy="603" rx="33" ry="13" fill="#e03018" transform="rotate(73 1235 603)"/><ellipse cx="1216" cy="279" rx="51" ry="12" fill="#f04a2a" transform="rotate(42 1216 279)"/><ellipse cx="1247" cy="593" rx="39" ry="24" fill="#ee4424" transform="rotate(83 1247 593)"/><ellipse cx="1218" cy="410" rx="38" ry="12" fill="#8c1204" transform="rotate(83 1218 410)"/><ellipse cx="986" cy="518" rx="50" ry="14" fill="#f04a2a" transform="rotate(68 986 518)"/><ellipse cx="909" cy="508" rx="31" ry="17" fill="#e03018" transform="rotate(27 909 508)"/><ellipse cx="1291" cy="463" rx="46" ry="23" fill="#8c1204" transform="rotate(39 1291 463)"/><ellipse cx="1189" cy="446" rx="39" ry="17" fill="#e03018" transform="rotate(64 1189 446)"/><ellipse cx="1151" cy="253" rx="41" ry="16" fill="#ee4424" transform="rotate(35 1151 253)"/><ellipse cx="1127" cy="672" rx="34" ry="20" fill="#f45a38" transform="rotate(32 1127 672)"/><ellipse cx="1052" cy="650" rx="45" ry="24" fill="#f04a2a" transform="rotate(17 1052 650)"/><ellipse cx="1061" cy="373" rx="39" ry="15" fill="#b01c0a" transform="rotate(57 1061 373)"/><ellipse cx="1279" cy="687" rx="43" ry="19" fill="#ee4424" transform="rotate(50 1279 687)"/><ellipse cx="999" cy="396" rx="32" ry="23" fill="#f87050" transform="rotate(39 999 396)"/><ellipse cx="1284" cy="582" rx="39" ry="20" fill="#f87050" transform="rotate(68 1284 582)"/><ellipse cx="1037" cy="557" rx="40" ry="17" fill="#f87050" transform="rotate(84 1037 557)"/><ellipse cx="1330" cy="564" rx="32" ry="16" fill="#f45a38" transform="rotate(18 1330 564)"/><ellipse cx="1049" cy="589" rx="41" ry="20" fill="#f45a38" transform="rotate(36 1049 589)"/><ellipse cx="1149" cy="247" rx="51" ry="13" fill="#b01c0a" transform="rotate(23 1149 247)"/><ellipse cx="1186" cy="724" rx="40" ry="21" fill="#f87050" transform="rotate(36 1186 724)"/><ellipse cx="1253" cy="548" rx="25" ry="16" fill="#c82410" transform="rotate(56 1253 548)"/><ellipse cx="936" cy="340" rx="45" ry="15" fill="#c82410" transform="rotate(83 936 340)"/><ellipse cx="1141" cy="727" rx="45" ry="23" fill="#e03018" transform="rotate(61 1141 727)"/><ellipse cx="922" cy="428" rx="38" ry="16" fill="#ee4424" transform="rotate(69 922 428)"/><ellipse cx="961" cy="573" rx="36" ry="12" fill="#c82410" transform="rotate(26 961 573)"/><ellipse cx="1011" cy="454" rx="34" ry="24" fill="#8c1204" transform="rotate(73 1011 454)"/><ellipse cx="1251" cy="438" rx="50" ry="18" fill="#f04a2a" transform="rotate(41 1251 438)"/><ellipse cx="1158" cy="454" rx="51" ry="20" fill="#f04a2a" transform="rotate(58 1158 454)"/><ellipse cx="1066" cy="259" rx="42" ry="15" fill="#8c1204" transform="rotate(74 1066 259)"/><ellipse cx="1212" cy="450" rx="44" ry="14" fill="#f87050" transform="rotate(40 1212 450)"/><ellipse cx="1248" cy="473" rx="36" ry="20" fill="#f45a38" transform="rotate(68 1248 473)"/><ellipse cx="1109" cy="337" rx="46" ry="16" fill="#c82410" transform="rotate(60 1109 337)"/><ellipse cx="1196" cy="455" rx="34" ry="21" fill="#f87050" transform="rotate(79 1196 455)"/><ellipse cx="965" cy="583" rx="26" ry="22" fill="#b01c0a" transform="rotate(70 965 583)"/><ellipse cx="1193" cy="391" rx="47" ry="24" fill="#f45a38" transform="rotate(33 1193 391)"/><ellipse cx="876" cy="480" rx="38" ry="15" fill="#ee4424" transform="rotate(81 876 480)"/><ellipse cx="1169" cy="693" rx="42" ry="13" fill="#f45a38" transform="rotate(29 1169 693)"/><ellipse cx="1259" cy="486" rx="32" ry="23" fill="#b01c0a" transform="rotate(67 1259 486)"/><ellipse cx="1147" cy="432" rx="46" ry="20" fill="#8c1204" transform="rotate(18 1147 432)"/><ellipse cx="1029" cy="537" rx="25" ry="18" fill="#8c1204" transform="rotate(51 1029 537)"/><ellipse cx="1078" cy="378" rx="47" ry="14" fill="#ee4424" transform="rotate(65 1078 378)"/><ellipse cx="1244" cy="651" rx="47" ry="20" fill="#b01c0a" transform="rotate(25 1244 651)"/><ellipse cx="1220" cy="330" rx="47" ry="15" fill="#e03018" transform="rotate(27 1220 330)"/><ellipse cx="1147" cy="665" rx="28" ry="17" fill="#b01c0a" transform="rotate(65 1147 665)"/><ellipse cx="1041" cy="404" rx="29" ry="20" fill="#e03018" transform="rotate(72 1041 404)"/><ellipse cx="1063" cy="341" rx="34" ry="19" fill="#e03018" transform="rotate(54 1063 341)"/><ellipse cx="894" cy="424" rx="37" ry="12" fill="#ee4424" transform="rotate(17 894 424)"/><ellipse cx="1213" cy="473" rx="33" ry="22" fill="#c82410" transform="rotate(70 1213 473)"/><ellipse cx="1295" cy="647" rx="35" ry="21" fill="#8c1204" transform="rotate(22 1295 647)"/><ellipse cx="1270" cy="641" rx="47" ry="20" fill="#f45a38" transform="rotate(64 1270 641)"/><ellipse cx="1173" cy="679" rx="42" ry="23" fill="#8c1204" transform="rotate(38 1173 679)"/><ellipse cx="929" cy="385" rx="43" ry="14" fill="#8c1204" transform="rotate(52 929 385)"/><ellipse cx="988" cy="613" rx="48" ry="22" fill="#ee4424" transform="rotate(66 988 613)"/><ellipse cx="1122" cy="695" rx="45" ry="20" fill="#ee4424" transform="rotate(49 1122 695)"/><ellipse cx="1265" cy="372" rx="49" ry="16" fill="#e03018" transform="rotate(23 1265 372)"/><ellipse cx="1288" cy="670" rx="32" ry="23" fill="#f87050" transform="rotate(57 1288 670)"/><ellipse cx="1217" cy="617" rx="40" ry="22" fill="#e03018" transform="rotate(39 1217 617)"/><ellipse cx="885" cy="426" rx="26" ry="13" fill="#f45a38" transform="rotate(37 885 426)"/><ellipse cx="996" cy="292" rx="34" ry="19" fill="#c82410" transform="rotate(27 996 292)"/><ellipse cx="1217" cy="469" rx="47" ry="21" fill="#e03018" transform="rotate(66 1217 469)"/><ellipse cx="1291" cy="624" rx="45" ry="22" fill="#ee4424" transform="rotate(35 1291 624)"/><ellipse cx="1209" cy="676" rx="42" ry="12" fill="#8c1204" transform="rotate(73 1209 676)"/><ellipse cx="1088" cy="614" rx="45" ry="19" fill="#f04a2a" transform="rotate(79 1088 614)"/><ellipse cx="1197" cy="375" rx="28" ry="24" fill="#e03018" transform="rotate(71 1197 375)"/><ellipse cx="1141" cy="631" rx="38" ry="18" fill="#f87050" transform="rotate(71 1141 631)"/><ellipse cx="1061" cy="332" rx="51" ry="23" fill="#8c1204" transform="rotate(65 1061 332)"/><ellipse cx="990" cy="367" rx="31" ry="20" fill="#e03018" transform="rotate(72 990 367)"/><ellipse cx="1001" cy="333" rx="36" ry="14" fill="#b01c0a" transform="rotate(21 1001 333)"/><ellipse cx="879" cy="532" rx="40" ry="23" fill="#c82410" transform="rotate(51 879 532)"/><ellipse cx="1226" cy="699" rx="45" ry="13" fill="#ee4424" transform="rotate(31 1226 699)"/><ellipse cx="1267" cy="508" rx="48" ry="19" fill="#ee4424" transform="rotate(50 1267 508)"/><ellipse cx="942" cy="397" rx="47" ry="12" fill="#f04a2a" transform="rotate(73 942 397)"/><ellipse cx="1052" cy="392" rx="34" ry="23" fill="#ee4424" transform="rotate(56 1052 392)"/><ellipse cx="1109" cy="678" rx="38" ry="13" fill="#b01c0a" transform="rotate(80 1109 678)"/><ellipse cx="1240" cy="676" rx="42" ry="20" fill="#c82410" transform="rotate(64 1240 676)"/><ellipse cx="1218" cy="382" rx="31" ry="23" fill="#8c1204" transform="rotate(68 1218 382)"/><ellipse cx="1050" cy="531" rx="40" ry="23" fill="#e03018" transform="rotate(63 1050 531)"/><ellipse cx="936" cy="333" rx="37" ry="20" fill="#f45a38" transform="rotate(64 936 333)"/><ellipse cx="1090" cy="266" rx="26" ry="22" fill="#e03018" transform="rotate(73 1090 266)"/><ellipse cx="939" cy="407" rx="46" ry="16" fill="#b01c0a" transform="rotate(75 939 407)"/><ellipse cx="1202" cy="729" rx="25" ry="14" fill="#8c1204" transform="rotate(49 1202 729)"/><ellipse cx="1116" cy="350" rx="29" ry="23" fill="#c82410" transform="rotate(30 1116 350)"/><ellipse cx="1147" cy="483" rx="45" ry="17" fill="#f04a2a" transform="rotate(31 1147 483)"/>
<path d="M1000 800 L1150 770 L1390 760 L1390 840 L1330 900 L1320 1000 L1280 1100 L1200 1230 L1090 1240 L1060 1150 L1000 1080 L1000 990 L900 890 L920 830Z" fill="#c07820" stroke="#c07820" stroke-width="16" stroke-linejoin="round"/>
<path d="M900 870 Q1050 850 1140 880 Q1120 930 1000 920 Z" fill="#e88a20"/>
<path d="M1010 810 Q1200 760 1390 790 L1390 850 Q1250 810 1030 830 Z" fill="#e89a30"/>
<path d="M1180 775 Q1300 750 1390 760 L1390 800 Q1290 790 1200 800 Z" fill="#e8c070"/>
<path d="M1000 900 Q1120 940 1200 1100 L1170 1130 Q1080 980 960 930 Z" fill="#ec8e1c"/>
<ellipse cx="1235" cy="940" rx="95" ry="105" fill="#7a5210" stroke="#ecc860" stroke-width="26" transform="rotate(-20 1235 940)"/>
<ellipse cx="1235" cy="940" rx="108" ry="118" fill="none" stroke="#e8941c" stroke-width="10" transform="rotate(-20 1235 940)"/>
<ellipse cx="1080" cy="1060" rx="85" ry="70" fill="#8a6418" stroke="#e8c050" stroke-width="24" transform="rotate(30 1080 1060)"/>
<ellipse cx="1220" cy="1090" rx="60" ry="55" fill="#9a7020" stroke="#ecc450" stroke-width="20"/>
<ellipse cx="1130" cy="1190" rx="75" ry="50" fill="#c89428" stroke="#e8b840" stroke-width="18" transform="rotate(-30 1130 1190)"/>
<circle cx="720" cy="865" r="150" fill="#e8c414"/><ellipse cx="848" cy="852" rx="30" ry="13" fill="#f8e030" transform="rotate(-6 848 852)"/><ellipse cx="843" cy="903" rx="30" ry="13" fill="#eec810" transform="rotate(17 843 903)"/><ellipse cx="832" cy="929" rx="30" ry="13" fill="#eec810" transform="rotate(30 832 929)"/><ellipse cx="808" cy="959" rx="30" ry="13" fill="#fce860" transform="rotate(47 808 959)"/><ellipse cx="799" cy="967" rx="30" ry="13" fill="#f0cc14" transform="rotate(52 799 967)"/><ellipse cx="775" cy="982" rx="30" ry="13" fill="#c89808" transform="rotate(65 775 982)"/><ellipse cx="748" cy="991" rx="30" ry="13" fill="#f8e030" transform="rotate(77 748 991)"/><ellipse cx="714" cy="994" rx="30" ry="13" fill="#fce860" transform="rotate(93 714 994)"/><ellipse cx="668" cy="983" rx="30" ry="13" fill="#fce860" transform="rotate(114 668 983)"/><ellipse cx="649" cy="972" rx="30" ry="13" fill="#fce860" transform="rotate(124 649 972)"/><ellipse cx="631" cy="958" rx="30" ry="13" fill="#f8e030" transform="rotate(134 631 958)"/><ellipse cx="603" cy="918" rx="30" ry="13" fill="#f4d418" transform="rotate(156 603 918)"/><ellipse cx="596" cy="900" rx="30" ry="13" fill="#eec810" transform="rotate(164 596 900)"/><ellipse cx="591" cy="870" rx="30" ry="13" fill="#d8a808" transform="rotate(178 591 870)"/><ellipse cx="595" cy="832" rx="30" ry="13" fill="#eec810" transform="rotate(195 595 832)"/><ellipse cx="602" cy="812" rx="30" ry="13" fill="#eec810" transform="rotate(204 602 812)"/><ellipse cx="622" cy="781" rx="30" ry="13" fill="#c89808" transform="rotate(221 622 781)"/><ellipse cx="648" cy="758" rx="30" ry="13" fill="#f8e030" transform="rotate(236 648 758)"/><ellipse cx="683" cy="741" rx="30" ry="13" fill="#d8a808" transform="rotate(253 683 741)"/><ellipse cx="695" cy="739" rx="30" ry="13" fill="#eec810" transform="rotate(259 695 739)"/><ellipse cx="745" cy="738" rx="30" ry="13" fill="#f4d418" transform="rotate(281 745 738)"/><ellipse cx="754" cy="740" rx="30" ry="13" fill="#c89808" transform="rotate(285 754 740)"/><ellipse cx="794" cy="759" rx="30" ry="13" fill="#f4d418" transform="rotate(305 794 759)"/><ellipse cx="819" cy="783" rx="30" ry="13" fill="#eec810" transform="rotate(320 819 783)"/><ellipse cx="830" cy="798" rx="30" ry="13" fill="#f4d418" transform="rotate(329 830 798)"/><ellipse cx="847" cy="840" rx="30" ry="13" fill="#eec810" transform="rotate(349 847 840)"/><ellipse cx="813" cy="862" rx="30" ry="13" fill="#f0cc14" transform="rotate(-2 813 862)"/><ellipse cx="810" cy="888" rx="30" ry="13" fill="#f8e030" transform="rotate(15 810 888)"/><ellipse cx="798" cy="916" rx="30" ry="13" fill="#d8a808" transform="rotate(33 798 916)"/><ellipse cx="777" cy="938" rx="30" ry="13" fill="#f4d418" transform="rotate(52 777 938)"/><ellipse cx="749" cy="953" rx="30" ry="13" fill="#c89808" transform="rotate(72 749 953)"/><ellipse cx="713" cy="958" rx="30" ry="13" fill="#eec810" transform="rotate(94 713 958)"/><ellipse cx="683" cy="950" rx="30" ry="13" fill="#f8e030" transform="rotate(114 683 950)"/><ellipse cx="661" cy="937" rx="30" ry="13" fill="#d8a808" transform="rotate(129 661 937)"/><ellipse cx="640" cy="913" rx="30" ry="13" fill="#fce860" transform="rotate(149 640 913)"/><ellipse cx="631" cy="891" rx="30" ry="13" fill="#fce860" transform="rotate(163 631 891)"/><ellipse cx="627" cy="858" rx="30" ry="13" fill="#d8a808" transform="rotate(184 627 858)"/><ellipse cx="629" cy="844" rx="30" ry="13" fill="#eec810" transform="rotate(193 629 844)"/><ellipse cx="640" cy="818" rx="30" ry="13" fill="#f0cc14" transform="rotate(210 640 818)"/><ellipse cx="667" cy="789" rx="30" ry="13" fill="#c89808" transform="rotate(235 667 789)"/><ellipse cx="700" cy="774" rx="30" ry="13" fill="#c89808" transform="rotate(257 700 774)"/><ellipse cx="718" cy="772" rx="30" ry="13" fill="#d8a808" transform="rotate(269 718 772)"/><ellipse cx="751" cy="777" rx="30" ry="13" fill="#eec810" transform="rotate(290 751 777)"/><ellipse cx="768" cy="786" rx="30" ry="13" fill="#eec810" transform="rotate(301 768 786)"/><ellipse cx="799" cy="815" rx="30" ry="13" fill="#f4d418" transform="rotate(328 799 815)"/><ellipse cx="808" cy="834" rx="30" ry="13" fill="#f8e030" transform="rotate(341 808 834)"/><ellipse cx="777" cy="866" rx="30" ry="13" fill="#f8e030" transform="rotate(1 777 866)"/><ellipse cx="772" cy="887" rx="30" ry="13" fill="#f0cc14" transform="rotate(23 772 887)"/><ellipse cx="751" cy="913" rx="30" ry="13" fill="#f8e030" transform="rotate(57 751 913)"/><ellipse cx="727" cy="922" rx="30" ry="13" fill="#eec810" transform="rotate(83 727 922)"/><ellipse cx="709" cy="921" rx="30" ry="13" fill="#c89808" transform="rotate(101 709 921)"/><ellipse cx="680" cy="906" rx="30" ry="13" fill="#eec810" transform="rotate(134 680 906)"/><ellipse cx="669" cy="890" rx="30" ry="13" fill="#f4d418" transform="rotate(154 669 890)"/><ellipse cx="663" cy="864" rx="30" ry="13" fill="#fce860" transform="rotate(181 663 864)"/><ellipse cx="668" cy="843" rx="30" ry="13" fill="#d8a808" transform="rotate(203 668 843)"/><ellipse cx="689" cy="817" rx="30" ry="13" fill="#f4d418" transform="rotate(237 689 817)"/><ellipse cx="709" cy="809" rx="30" ry="13" fill="#f8e030" transform="rotate(259 709 809)"/><ellipse cx="737" cy="811" rx="30" ry="13" fill="#f4d418" transform="rotate(287 737 811)"/><ellipse cx="752" cy="818" rx="30" ry="13" fill="#c89808" transform="rotate(304 752 818)"/><ellipse cx="772" cy="841" rx="30" ry="13" fill="#f4d418" transform="rotate(336 772 841)"/><ellipse cx="742" cy="867" rx="30" ry="13" fill="#f0cc14" transform="rotate(6 742 867)"/><ellipse cx="737" cy="879" rx="30" ry="13" fill="#f4d418" transform="rotate(39 737 879)"/><ellipse cx="719" cy="887" rx="30" ry="13" fill="#f4d418" transform="rotate(93 719 887)"/><ellipse cx="705" cy="881" rx="30" ry="13" fill="#f8e030" transform="rotate(133 705 881)"/><ellipse cx="698" cy="867" rx="30" ry="13" fill="#fce860" transform="rotate(175 698 867)"/><ellipse cx="703" cy="850" rx="30" ry="13" fill="#eec810" transform="rotate(222 703 850)"/><ellipse cx="722" cy="843" rx="30" ry="13" fill="#eec810" transform="rotate(276 722 843)"/><ellipse cx="735" cy="848" rx="30" ry="13" fill="#f0cc14" transform="rotate(310 735 848)"/>
<circle cx="905" cy="725" r="142" fill="#ecd028"/><ellipse cx="1027" cy="714" rx="28" ry="12" fill="#eec810" transform="rotate(-5 1027 714)"/><ellipse cx="1025" cy="745" rx="28" ry="12" fill="#c89808" transform="rotate(10 1025 745)"/><ellipse cx="1008" cy="791" rx="28" ry="12" fill="#f4d418" transform="rotate(32 1008 791)"/><ellipse cx="1004" cy="796" rx="28" ry="12" fill="#f8e030" transform="rotate(36 1004 796)"/><ellipse cx="983" cy="819" rx="28" ry="12" fill="#fce860" transform="rotate(51 983 819)"/><ellipse cx="952" cy="838" rx="28" ry="12" fill="#f8e030" transform="rotate(67 952 838)"/><ellipse cx="919" cy="846" rx="28" ry="12" fill="#f4d418" transform="rotate(83 919 846)"/><ellipse cx="894" cy="847" rx="28" ry="12" fill="#f8e030" transform="rotate(95 894 847)"/><ellipse cx="861" cy="839" rx="28" ry="12" fill="#f0cc14" transform="rotate(111 861 839)"/><ellipse cx="844" cy="831" rx="28" ry="12" fill="#f8e030" transform="rotate(120 844 831)"/><ellipse cx="814" cy="806" rx="28" ry="12" fill="#f0cc14" transform="rotate(138 814 806)"/><ellipse cx="793" cy="774" rx="28" ry="12" fill="#f0cc14" transform="rotate(156 793 774)"/><ellipse cx="788" cy="759" rx="28" ry="12" fill="#eec810" transform="rotate(164 788 759)"/><ellipse cx="783" cy="726" rx="28" ry="12" fill="#d8a808" transform="rotate(179 783 726)"/><ellipse cx="784" cy="705" rx="28" ry="12" fill="#fce860" transform="rotate(189 784 705)"/><ellipse cx="793" cy="677" rx="28" ry="12" fill="#eec810" transform="rotate(203 793 677)"/><ellipse cx="813" cy="645" rx="28" ry="12" fill="#f4d418" transform="rotate(221 813 645)"/><ellipse cx="826" cy="631" rx="28" ry="12" fill="#f8e030" transform="rotate(230 826 631)"/><ellipse cx="863" cy="610" rx="28" ry="12" fill="#eec810" transform="rotate(250 863 610)"/><ellipse cx="882" cy="605" rx="28" ry="12" fill="#d8a808" transform="rotate(259 882 605)"/><ellipse cx="926" cy="605" rx="28" ry="12" fill="#f4d418" transform="rotate(280 926 605)"/><ellipse cx="940" cy="608" rx="28" ry="12" fill="#f0cc14" transform="rotate(287 940 608)"/><ellipse cx="981" cy="629" rx="28" ry="12" fill="#d8a808" transform="rotate(308 981 629)"/><ellipse cx="998" cy="645" rx="28" ry="12" fill="#fce860" transform="rotate(319 998 645)"/><ellipse cx="1008" cy="659" rx="28" ry="12" fill="#f8e030" transform="rotate(327 1008 659)"/><ellipse cx="1024" cy="698" rx="28" ry="12" fill="#eec810" transform="rotate(347 1024 698)"/><ellipse cx="993" cy="721" rx="28" ry="12" fill="#f8e030" transform="rotate(-3 993 721)"/><ellipse cx="990" cy="748" rx="28" ry="12" fill="#f4d418" transform="rotate(15 990 748)"/><ellipse cx="972" cy="782" rx="28" ry="12" fill="#d8a808" transform="rotate(40 972 782)"/><ellipse cx="958" cy="795" rx="28" ry="12" fill="#f8e030" transform="rotate(53 958 795)"/><ellipse cx="927" cy="810" rx="28" ry="12" fill="#f8e030" transform="rotate(76 927 810)"/><ellipse cx="899" cy="813" rx="28" ry="12" fill="#f4d418" transform="rotate(94 899 813)"/><ellipse cx="884" cy="810" rx="28" ry="12" fill="#f8e030" transform="rotate(104 884 810)"/><ellipse cx="848" cy="792" rx="28" ry="12" fill="#eec810" transform="rotate(130 848 792)"/><ellipse cx="832" cy="774" rx="28" ry="12" fill="#f8e030" transform="rotate(146 832 774)"/><ellipse cx="821" cy="751" rx="28" ry="12" fill="#eec810" transform="rotate(163 821 751)"/><ellipse cx="817" cy="727" rx="28" ry="12" fill="#eec810" transform="rotate(179 817 727)"/><ellipse cx="822" cy="696" rx="28" ry="12" fill="#f4d418" transform="rotate(199 822 696)"/><ellipse cx="829" cy="681" rx="28" ry="12" fill="#fce860" transform="rotate(210 829 681)"/><ellipse cx="856" cy="652" rx="28" ry="12" fill="#d8a808" transform="rotate(236 856 652)"/><ellipse cx="878" cy="641" rx="28" ry="12" fill="#f0cc14" transform="rotate(252 878 641)"/><ellipse cx="900" cy="637" rx="28" ry="12" fill="#d8a808" transform="rotate(267 900 637)"/><ellipse cx="933" cy="641" rx="28" ry="12" fill="#fce860" transform="rotate(288 933 641)"/><ellipse cx="953" cy="651" rx="28" ry="12" fill="#f4d418" transform="rotate(303 953 651)"/><ellipse cx="975" cy="671" rx="28" ry="12" fill="#c89808" transform="rotate(323 975 671)"/><ellipse cx="988" cy="696" rx="28" ry="12" fill="#f0cc14" transform="rotate(340 988 696)"/><ellipse cx="959" cy="729" rx="28" ry="12" fill="#fce860" transform="rotate(4 959 729)"/><ellipse cx="955" cy="745" rx="28" ry="12" fill="#c89808" transform="rotate(21 955 745)"/><ellipse cx="936" cy="769" rx="28" ry="12" fill="#c89808" transform="rotate(55 936 769)"/><ellipse cx="918" cy="777" rx="28" ry="12" fill="#fce860" transform="rotate(76 918 777)"/><ellipse cx="896" cy="778" rx="28" ry="12" fill="#f8e030" transform="rotate(100 896 778)"/><ellipse cx="871" cy="767" rx="28" ry="12" fill="#f8e030" transform="rotate(129 871 767)"/><ellipse cx="854" cy="744" rx="28" ry="12" fill="#fce860" transform="rotate(160 854 744)"/><ellipse cx="851" cy="721" rx="28" ry="12" fill="#eec810" transform="rotate(184 851 721)"/><ellipse cx="858" cy="699" rx="28" ry="12" fill="#d8a808" transform="rotate(209 858 699)"/><ellipse cx="874" cy="681" rx="28" ry="12" fill="#f4d418" transform="rotate(235 874 681)"/><ellipse cx="898" cy="672" rx="28" ry="12" fill="#f4d418" transform="rotate(262 898 672)"/><ellipse cx="916" cy="672" rx="28" ry="12" fill="#d8a808" transform="rotate(282 916 672)"/><ellipse cx="938" cy="682" rx="28" ry="12" fill="#d8a808" transform="rotate(308 938 682)"/><ellipse cx="953" cy="700" rx="28" ry="12" fill="#c89808" transform="rotate(332 953 700)"/><ellipse cx="926" cy="725" rx="28" ry="12" fill="#f0cc14" transform="rotate(0 926 725)"/><ellipse cx="921" cy="739" rx="28" ry="12" fill="#f0cc14" transform="rotate(42 921 739)"/><ellipse cx="904" cy="746" rx="28" ry="12" fill="#d8a808" transform="rotate(92 904 746)"/><ellipse cx="890" cy="740" rx="28" ry="12" fill="#d8a808" transform="rotate(135 890 740)"/><ellipse cx="884" cy="726" rx="28" ry="12" fill="#f0cc14" transform="rotate(179 884 726)"/><ellipse cx="891" cy="709" rx="28" ry="12" fill="#fce860" transform="rotate(228 891 709)"/><ellipse cx="907" cy="704" rx="28" ry="12" fill="#eec810" transform="rotate(276 907 704)"/><ellipse cx="921" cy="711" rx="28" ry="12" fill="#f8e030" transform="rotate(320 921 711)"/>
<circle cx="900" cy="730" r="38" fill="#b89a30" opacity="0.7"/>
<circle cx="705" cy="565" r="158" fill="#f6dc18"/><ellipse cx="841" cy="567" rx="32" ry="13" fill="#c89808" transform="rotate(1 841 567)"/><ellipse cx="839" cy="590" rx="32" ry="13" fill="#f0cc14" transform="rotate(11 839 590)"/><ellipse cx="828" cy="622" rx="32" ry="13" fill="#c89808" transform="rotate(25 828 622)"/><ellipse cx="799" cy="663" rx="32" ry="13" fill="#fce860" transform="rotate(46 799 663)"/><ellipse cx="772" cy="683" rx="32" ry="13" fill="#eec810" transform="rotate(60 772 683)"/><ellipse cx="740" cy="696" rx="32" ry="13" fill="#fce860" transform="rotate(75 740 696)"/><ellipse cx="709" cy="701" rx="32" ry="13" fill="#d8a808" transform="rotate(88 709 701)"/><ellipse cx="676" cy="698" rx="32" ry="13" fill="#fce860" transform="rotate(103 676 698)"/><ellipse cx="657" cy="692" rx="32" ry="13" fill="#d8a808" transform="rotate(111 657 692)"/><ellipse cx="618" cy="669" rx="32" ry="13" fill="#c89808" transform="rotate(130 618 669)"/><ellipse cx="612" cy="664" rx="32" ry="13" fill="#f4d418" transform="rotate(133 612 664)"/><ellipse cx="587" cy="633" rx="32" ry="13" fill="#f4d418" transform="rotate(150 587 633)"/><ellipse cx="571" cy="586" rx="32" ry="13" fill="#c89808" transform="rotate(171 571 586)"/><ellipse cx="569" cy="562" rx="32" ry="13" fill="#c89808" transform="rotate(181 569 562)"/><ellipse cx="574" cy="528" rx="32" ry="13" fill="#f0cc14" transform="rotate(196 574 528)"/><ellipse cx="590" cy="493" rx="32" ry="13" fill="#d8a808" transform="rotate(212 590 493)"/><ellipse cx="604" cy="474" rx="32" ry="13" fill="#c89808" transform="rotate(222 604 474)"/><ellipse cx="622" cy="457" rx="32" ry="13" fill="#f0cc14" transform="rotate(232 622 457)"/><ellipse cx="645" cy="443" rx="32" ry="13" fill="#d8a808" transform="rotate(244 645 443)"/><ellipse cx="703" cy="429" rx="32" ry="13" fill="#f8e030" transform="rotate(269 703 429)"/><ellipse cx="728" cy="431" rx="32" ry="13" fill="#f8e030" transform="rotate(280 728 431)"/><ellipse cx="757" cy="440" rx="32" ry="13" fill="#f0cc14" transform="rotate(293 757 440)"/><ellipse cx="776" cy="449" rx="32" ry="13" fill="#d8a808" transform="rotate(302 776 449)"/><ellipse cx="803" cy="471" rx="32" ry="13" fill="#d8a808" transform="rotate(316 803 471)"/><ellipse cx="826" cy="502" rx="32" ry="13" fill="#d8a808" transform="rotate(333 826 502)"/><ellipse cx="837" cy="534" rx="32" ry="13" fill="#f4d418" transform="rotate(347 837 534)"/><ellipse cx="803" cy="559" rx="32" ry="13" fill="#f8e030" transform="rotate(-4 803 559)"/><ellipse cx="795" cy="603" rx="32" ry="13" fill="#d8a808" transform="rotate(23 795 603)"/><ellipse cx="780" cy="629" rx="32" ry="13" fill="#c89808" transform="rotate(40 780 629)"/><ellipse cx="760" cy="646" rx="32" ry="13" fill="#f0cc14" transform="rotate(56 760 646)"/><ellipse cx="743" cy="655" rx="32" ry="13" fill="#eec810" transform="rotate(67 743 655)"/><ellipse cx="713" cy="663" rx="32" ry="13" fill="#f0cc14" transform="rotate(85 713 663)"/><ellipse cx="678" cy="659" rx="32" ry="13" fill="#f8e030" transform="rotate(106 678 659)"/><ellipse cx="649" cy="645" rx="32" ry="13" fill="#d8a808" transform="rotate(125 649 645)"/><ellipse cx="629" cy="627" rx="32" ry="13" fill="#eec810" transform="rotate(140 629 627)"/><ellipse cx="611" cy="592" rx="32" ry="13" fill="#f4d418" transform="rotate(164 611 592)"/><ellipse cx="607" cy="566" rx="32" ry="13" fill="#f4d418" transform="rotate(179 607 566)"/><ellipse cx="614" cy="529" rx="32" ry="13" fill="#fce860" transform="rotate(201 614 529)"/><ellipse cx="626" cy="507" rx="32" ry="13" fill="#f0cc14" transform="rotate(216 626 507)"/><ellipse cx="654" cy="482" rx="32" ry="13" fill="#f4d418" transform="rotate(238 654 482)"/><ellipse cx="666" cy="475" rx="32" ry="13" fill="#f4d418" transform="rotate(247 666 475)"/><ellipse cx="703" cy="467" rx="32" ry="13" fill="#f0cc14" transform="rotate(269 703 467)"/><ellipse cx="741" cy="474" rx="32" ry="13" fill="#f8e030" transform="rotate(291 741 474)"/><ellipse cx="765" cy="488" rx="32" ry="13" fill="#eec810" transform="rotate(308 765 488)"/><ellipse cx="778" cy="500" rx="32" ry="13" fill="#fce860" transform="rotate(318 778 500)"/><ellipse cx="799" cy="537" rx="32" ry="13" fill="#c89808" transform="rotate(344 799 537)"/><ellipse cx="765" cy="563" rx="32" ry="13" fill="#f0cc14" transform="rotate(-2 765 563)"/><ellipse cx="758" cy="593" rx="32" ry="13" fill="#eec810" transform="rotate(28 758 593)"/><ellipse cx="738" cy="615" rx="32" ry="13" fill="#c89808" transform="rotate(56 738 615)"/><ellipse cx="717" cy="624" rx="32" ry="13" fill="#f8e030" transform="rotate(78 717 624)"/><ellipse cx="689" cy="623" rx="32" ry="13" fill="#fce860" transform="rotate(105 689 623)"/><ellipse cx="663" cy="608" rx="32" ry="13" fill="#d8a808" transform="rotate(134 663 608)"/><ellipse cx="651" cy="591" rx="32" ry="13" fill="#f4d418" transform="rotate(154 651 591)"/><ellipse cx="645" cy="559" rx="32" ry="13" fill="#f4d418" transform="rotate(185 645 559)"/><ellipse cx="650" cy="542" rx="32" ry="13" fill="#fce860" transform="rotate(203 650 542)"/><ellipse cx="672" cy="515" rx="32" ry="13" fill="#f4d418" transform="rotate(237 672 515)"/><ellipse cx="690" cy="507" rx="32" ry="13" fill="#f0cc14" transform="rotate(256 690 507)"/><ellipse cx="717" cy="506" rx="32" ry="13" fill="#f0cc14" transform="rotate(282 717 506)"/><ellipse cx="747" cy="522" rx="32" ry="13" fill="#eec810" transform="rotate(314 747 522)"/><ellipse cx="757" cy="535" rx="32" ry="13" fill="#eec810" transform="rotate(330 757 535)"/><ellipse cx="729" cy="567" rx="32" ry="13" fill="#d8a808" transform="rotate(5 729 567)"/><ellipse cx="721" cy="582" rx="32" ry="13" fill="#d8a808" transform="rotate(46 721 582)"/><ellipse cx="703" cy="589" rx="32" ry="13" fill="#eec810" transform="rotate(95 703 589)"/><ellipse cx="687" cy="581" rx="32" ry="13" fill="#d8a808" transform="rotate(138 687 581)"/><ellipse cx="681" cy="563" rx="32" ry="13" fill="#f4d418" transform="rotate(184 681 563)"/><ellipse cx="690" cy="547" rx="32" ry="13" fill="#d8a808" transform="rotate(230 690 547)"/><ellipse cx="707" cy="541" rx="32" ry="13" fill="#f0cc14" transform="rotate(275 707 541)"/><ellipse cx="721" cy="548" rx="32" ry="13" fill="#f0cc14" transform="rotate(313 721 548)"/>
<ellipse cx="171" cy="735" rx="76" ry="68.4" fill="#6a5010"/>
<ellipse cx="165" cy="725" rx="76" ry="68.4" fill="url(#lic)"/>
<ellipse cx="316" cy="760" rx="70" ry="63.0" fill="#6a5010"/>
<ellipse cx="310" cy="750" rx="70" ry="63.0" fill="url(#lic)"/>
<ellipse cx="451" cy="805" rx="62" ry="55.800000000000004" fill="#6a5010"/>
<ellipse cx="445" cy="795" rx="62" ry="55.800000000000004" fill="#b8a848"/>
<ellipse cx="186" cy="885" rx="76" ry="68.4" fill="#6a5010"/>
<ellipse cx="180" cy="875" rx="76" ry="68.4" fill="url(#lic)"/>
<ellipse cx="331" cy="895" rx="74" ry="66.60000000000001" fill="#6a5010"/>
<ellipse cx="325" cy="885" rx="74" ry="66.60000000000001" fill="url(#lic)"/>
<ellipse cx="486" cy="925" rx="80" ry="72.0" fill="#6a5010"/>
<ellipse cx="480" cy="915" rx="80" ry="72.0" fill="url(#lic)"/>
<ellipse cx="226" cy="1040" rx="80" ry="72.0" fill="#6a5010"/>
<ellipse cx="220" cy="1030" rx="80" ry="72.0" fill="url(#lic)"/>
<ellipse cx="378" cy="1022" rx="66" ry="59.4" fill="#6a5010"/>
<ellipse cx="372" cy="1012" rx="66" ry="59.4" fill="url(#lic)"/>
<ellipse cx="326" cy="1150" rx="84" ry="75.60000000000001" fill="#6a5010"/>
<ellipse cx="320" cy="1140" rx="84" ry="75.60000000000001" fill="url(#lic)"/>
<path d="M240 690 L280 700 L250 720 Z M390 840 L430 860 L400 880 Z M500 830 L550 850 L520 870 Z" fill="#d8e0f0"/>
<circle cx="579" cy="1022" r="92" fill="#6a4a10"/>
<g fill="#e6a430"><circle cx="657" cy="1015" r="17"/><circle cx="649" cy="1051" r="17"/><circle cx="626" cy="1079" r="17"/><circle cx="593" cy="1095" r="17"/><circle cx="557" cy="1095" r="17"/><circle cx="524" cy="1079" r="17"/><circle cx="501" cy="1051" r="17"/><circle cx="493" cy="1015" r="17"/><circle cx="501" cy="979" r="17"/><circle cx="524" cy="951" r="17"/><circle cx="557" cy="935" r="17"/><circle cx="593" cy="935" r="17"/><circle cx="626" cy="951" r="17"/><circle cx="649" cy="979" r="17"/></g>
<circle cx="575" cy="1015" r="84" fill="#eeb43c"/>
<circle cx="569" cy="1007" r="62" fill="#f2c052" opacity="0.7"/>
<path d="M549 1009 q14 -22 30 -8 q20 -4 24 14 q-8 22 -30 18 q-24 2 -24 -24z" fill="#4a2a10"/>
<circle cx="754" cy="1047" r="84" fill="#6a4a10"/>
<g fill="#e6a430"><circle cx="823" cy="1049" r="17"/><circle cx="812" cy="1080" r="17"/><circle cx="789" cy="1103" r="17"/><circle cx="758" cy="1114" r="17"/><circle cx="725" cy="1110" r="17"/><circle cx="697" cy="1092" r="17"/><circle cx="680" cy="1064" r="17"/><circle cx="677" cy="1031" r="17"/><circle cx="688" cy="1000" r="17"/><circle cx="711" cy="977" r="17"/><circle cx="742" cy="966" r="17"/><circle cx="775" cy="970" r="17"/><circle cx="803" cy="988" r="17"/><circle cx="820" cy="1016" r="17"/></g>
<circle cx="750" cy="1040" r="76" fill="#eeb43c"/>
<circle cx="744" cy="1032" r="54" fill="#f2c052" opacity="0.7"/>
<path d="M724 1034 q14 -22 30 -8 q20 -4 24 14 q-8 22 -30 18 q-24 2 -24 -24z" fill="#4a2a10"/>
<circle cx="924" cy="1027" r="82" fill="#6a4a10"/>
<g fill="#e6a430"><circle cx="990" cy="1037" r="17"/><circle cx="975" cy="1066" r="17"/><circle cx="950" cy="1085" r="17"/><circle cx="919" cy="1092" r="17"/><circle cx="887" cy="1084" r="17"/><circle cx="863" cy="1064" r="17"/><circle cx="849" cy="1035" r="17"/><circle cx="850" cy="1003" r="17"/><circle cx="865" cy="974" r="17"/><circle cx="890" cy="955" r="17"/><circle cx="921" cy="948" r="17"/><circle cx="953" cy="956" r="17"/><circle cx="977" cy="976" r="17"/><circle cx="991" cy="1005" r="17"/></g>
<circle cx="920" cy="1020" r="74" fill="#eeb43c"/>
<circle cx="914" cy="1012" r="52" fill="#f2c052" opacity="0.7"/>
<path d="M894 1014 q14 -22 30 -8 q20 -4 24 14 q-8 22 -30 18 q-24 2 -24 -24z" fill="#4a2a10"/>
<circle cx="474" cy="1212" r="92" fill="#6a4a10"/>
<g fill="#e6a430"><circle cx="547" cy="1234" r="17"/><circle cx="526" cy="1265" r="17"/><circle cx="495" cy="1283" r="17"/><circle cx="458" cy="1286" r="17"/><circle cx="424" cy="1273" r="17"/><circle cx="399" cy="1247" r="17"/><circle cx="388" cy="1212" r="17"/><circle cx="393" cy="1176" r="17"/><circle cx="414" cy="1145" r="17"/><circle cx="445" cy="1127" r="17"/><circle cx="482" cy="1124" r="17"/><circle cx="516" cy="1137" r="17"/><circle cx="541" cy="1163" r="17"/><circle cx="552" cy="1198" r="17"/></g>
<circle cx="470" cy="1205" r="84" fill="#eeb43c"/>
<circle cx="464" cy="1197" r="62" fill="#f2c052" opacity="0.7"/>
<path d="M444 1199 q14 -22 30 -8 q20 -4 24 14 q-8 22 -30 18 q-24 2 -24 -24z" fill="#4a2a10"/>
<circle cx="644" cy="1217" r="86" fill="#6a4a10"/>
<g fill="#e6a430"><circle cx="707" cy="1246" r="17"/><circle cx="685" cy="1271" r="17"/><circle cx="654" cy="1285" r="17"/><circle cx="620" cy="1283" r="17"/><circle cx="590" cy="1267" r="17"/><circle cx="570" cy="1240" r="17"/><circle cx="564" cy="1207" r="17"/><circle cx="573" cy="1174" r="17"/><circle cx="595" cy="1149" r="17"/><circle cx="626" cy="1135" r="17"/><circle cx="660" cy="1137" r="17"/><circle cx="690" cy="1153" r="17"/><circle cx="710" cy="1180" r="17"/><circle cx="716" cy="1213" r="17"/></g>
<circle cx="640" cy="1210" r="78" fill="#eeb43c"/>
<circle cx="634" cy="1202" r="56" fill="#f2c052" opacity="0.7"/>
<path d="M614 1204 q14 -22 30 -8 q20 -4 24 14 q-8 22 -30 18 q-24 2 -24 -24z" fill="#4a2a10"/>
<circle cx="816" cy="1232" r="88" fill="#6a4a10"/>
<g fill="#e6a430"><circle cx="876" cy="1270" r="17"/><circle cx="850" cy="1293" r="17"/><circle cx="817" cy="1303" r="17"/><circle cx="783" cy="1297" r="17"/><circle cx="754" cy="1277" r="17"/><circle cx="737" cy="1247" r="17"/><circle cx="735" cy="1212" r="17"/><circle cx="748" cy="1180" r="17"/><circle cx="774" cy="1157" r="17"/><circle cx="807" cy="1147" r="17"/><circle cx="841" cy="1153" r="17"/><circle cx="870" cy="1173" r="17"/><circle cx="887" cy="1203" r="17"/><circle cx="889" cy="1238" r="17"/></g>
<circle cx="812" cy="1225" r="80" fill="#eeb43c"/>
<circle cx="806" cy="1217" r="58" fill="#f2c052" opacity="0.7"/>
<path d="M786 1219 q14 -22 30 -8 q20 -4 24 14 q-8 22 -30 18 q-24 2 -24 -24z" fill="#4a2a10"/>
<circle cx="852" cy="1235" r="14" fill="#b02818"/>
<circle cx="984" cy="1202" r="86" fill="#6a4a10"/>
<g fill="#e6a430"><circle cx="1036" cy="1246" r="17"/><circle cx="1009" cy="1265" r="17"/><circle cx="975" cy="1271" r="17"/><circle cx="943" cy="1261" r="17"/><circle cx="918" cy="1239" r="17"/><circle cx="905" cy="1207" r="17"/><circle cx="907" cy="1174" r="17"/><circle cx="924" cy="1144" r="17"/><circle cx="951" cy="1125" r="17"/><circle cx="985" cy="1119" r="17"/><circle cx="1017" cy="1129" r="17"/><circle cx="1042" cy="1151" r="17"/><circle cx="1055" cy="1183" r="17"/><circle cx="1053" cy="1216" r="17"/></g>
<circle cx="980" cy="1195" r="78" fill="#eeb43c"/>
<circle cx="974" cy="1187" r="56" fill="#f2c052" opacity="0.7"/>
<path d="M954 1189 q14 -22 30 -8 q20 -4 24 14 q-8 22 -30 18 q-24 2 -24 -24z" fill="#4a2a10"/>
</g>
</g>
<defs>
<linearGradient id="pbody" x1="0" y1="0" x2="1" y2="0"><stop offset="0" stop-color="#d2d2d2"/><stop offset="0.08" stop-color="#e2e2e2"/><stop offset="0.5" stop-color="#ececec"/><stop offset="0.92" stop-color="#e0e0e0"/><stop offset="1" stop-color="#cfcfcf"/></linearGradient>
<linearGradient id="pseal" x1="0" y1="0" x2="0" y2="1"><stop offset="0" stop-color="#d4d4d4"/><stop offset="0.5" stop-color="#dedede"/><stop offset="1" stop-color="#d6d6d6"/></linearGradient>
<linearGradient id="pbot" x1="0" y1="0" x2="0" y2="1"><stop offset="0" stop-color="#e2e2e2"/><stop offset="0.25" stop-color="#f0f0f0"/><stop offset="0.7" stop-color="#ececec"/><stop offset="1" stop-color="#e0e0e0"/></linearGradient>
<linearGradient id="rib" x1="0" y1="1" x2="1" y2="0"><stop offset="0" stop-color="#0a7a4a"/><stop offset="0.5" stop-color="#2a9a66"/><stop offset="1" stop-color="#0a6a40"/></linearGradient>
<clipPath id="pclip"><path d="M82 615.5 H406.5 Q414.5 615.5 414.5 623.5 V651 L413 655 L412 779 L400.5 907 L398 1020 L393 1098 Q392 1113 378 1114 Q245 1118 112 1114 Q98 1113 97 1098 L92 1020 L90.5 907 L80.5 779 L76 655 L74 651 V623.5 Q74 615.5 82 615.5 Z"/></clipPath>
<clipPath id="wclip"><path d="M92 912 H398 L398 1023 Q330 1040 245 1044 Q160 1040 97 1019 Z"/></clipPath>
<filter id="wb" x="-5%" y="-5%" width="110%" height="110%"><feGaussianBlur stdDeviation="7"/></filter>
</defs>
<rect x="94.5" y="1090" width="308.5" height="38.5" fill="#f1f1f1"/>
<g clip-path="url(#pclip)">
<rect x="70" y="610" width="350" height="510" fill="url(#pbody)"/>
<rect x="70" y="610" width="350" height="78" fill="url(#pseal)"/>
<ellipse cx="245" cy="645" rx="120" ry="18" fill="#e6e6e6" filter="url(#b5)"/>
<rect x="88" y="672" width="312" height="3" fill="#f4f4f4"/><rect x="88" y="676.5" width="312" height="2" fill="#c4c4c4"/><rect x="88" y="680.5" width="312" height="3" fill="#f0f0f0"/><rect x="88" y="684.5" width="312" height="1.5" fill="#c8c8c8"/>
<path d="M79 688 H411 L400.5 907 L398 914 H92 L90.5 907 Z" fill="#e8e8e8"/>
<ellipse cx="245" cy="800" rx="120" ry="100" fill="#f2f2f2" filter="url(#b8)"/>
<rect x="70" y="688" width="22" height="230" fill="#d0d0d0" opacity="0.5" filter="url(#b3)"/><rect x="398" y="688" width="22" height="230" fill="#cacaca" opacity="0.5" filter="url(#b3)"/>
<g fill="none" stroke="#d2d4cc" stroke-width="0.8"><path d="M284 851 q10 -12 24 0 q-14 12 -24 0 z" transform="rotate(170 284 851)"/><path d="M234 893 q10 -12 24 0 q-14 12 -24 0 z" transform="rotate(162 234 893)"/><path d="M121 794 q10 -12 24 0 q-14 12 -24 0 z" transform="rotate(44 121 794)"/><path d="M154 754 q10 -12 24 0 q-14 12 -24 0 z" transform="rotate(138 154 754)"/><path d="M136 862 q10 -12 24 0 q-14 12 -24 0 z" transform="rotate(25 136 862)"/><path d="M364 739 q10 -12 24 0 q-14 12 -24 0 z" transform="rotate(39 364 739)"/><path d="M399 878 q10 -12 24 0 q-14 12 -24 0 z" transform="rotate(52 399 878)"/><path d="M393 808 q10 -12 24 0 q-14 12 -24 0 z" transform="rotate(122 393 808)"/><path d="M151 893 q10 -12 24 0 q-14 12 -24 0 z" transform="rotate(174 151 893)"/><path d="M371 758 q10 -12 24 0 q-14 12 -24 0 z" transform="rotate(65 371 758)"/><path d="M138 726 q10 -12 24 0 q-14 12 -24 0 z" transform="rotate(12 138 726)"/><path d="M347 796 q10 -12 24 0 q-14 12 -24 0 z" transform="rotate(57 347 796)"/><path d="M397 700 q10 -12 24 0 q-14 12 -24 0 z" transform="rotate(135 397 700)"/><path d="M355 699 q10 -12 24 0 q-14 12 -24 0 z" transform="rotate(142 355 699)"/><path d="M100 733 q10 -12 24 0 q-14 12 -24 0 z" transform="rotate(172 100 733)"/><path d="M148 854 q10 -12 24 0 q-14 12 -24 0 z" transform="rotate(167 148 854)"/><path d="M386 767 q10 -12 24 0 q-14 12 -24 0 z" transform="rotate(64 386 767)"/><path d="M324 862 q10 -12 24 0 q-14 12 -24 0 z" transform="rotate(7 324 862)"/><path d="M388 714 q10 -12 24 0 q-14 12 -24 0 z" transform="rotate(61 388 714)"/><path d="M381 809 q10 -12 24 0 q-14 12 -24 0 z" transform="rotate(56 381 809)"/><path d="M133 840 q10 -12 24 0 q-14 12 -24 0 z" transform="rotate(179 133 840)"/><path d="M137 705 q10 -12 24 0 q-14 12 -24 0 z" transform="rotate(178 137 705)"/><path d="M220 707 q10 -12 24 0 q-14 12 -24 0 z" transform="rotate(165 220 707)"/><path d="M95 799 q10 -12 24 0 q-14 12 -24 0 z" transform="rotate(151 95 799)"/><path d="M127 849 q10 -12 24 0 q-14 12 -24 0 z" transform="rotate(171 127 849)"/><path d="M224 726 q10 -12 24 0 q-14 12 -24 0 z" transform="rotate(53 224 726)"/><path d="M230 905 q10 -12 24 0 q-14 12 -24 0 z" transform="rotate(153 230 905)"/><path d="M397 790 q10 -12 24 0 q-14 12 -24 0 z" transform="rotate(88 397 790)"/><path d="M401 897 q10 -12 24 0 q-14 12 -24 0 z" transform="rotate(113 401 897)"/><path d="M172 859 q10 -12 24 0 q-14 12 -24 0 z" transform="rotate(65 172 859)"/></g>
<path d="M141 692.5 H188.3 L82.5 781.5 L78.7 739.8 Z" fill="url(#rib)"/>
<text x="0" y="0" transform="translate(89.5,761.5) rotate(-39)" font-family="Liberation Serif,serif" font-weight="bold" font-size="13.5" fill="#e4faee" textLength="90" lengthAdjust="spacingAndGlyphs">100% Natural</text>
<g fill="none" stroke="#c9aa7c" stroke-width="1.3"><path d="M234.5 702.5 H245 V714 M250 705 V722 H238 M234.5 706 V718 H246 M238.5 702.5 V714"/></g>
<text x="242.5" y="745" text-anchor="middle" font-family="Liberation Sans,sans-serif" font-size="17" fill="#ece4d4" stroke="#cdb288" stroke-width="0.7" textLength="74" lengthAdjust="spacingAndGlyphs">GEELOD</text>
<text x="243" y="754.3" text-anchor="middle" font-family="Liberation Sans,sans-serif" font-weight="bold" font-size="5.2" fill="#b89a6c" textLength="63" lengthAdjust="spacingAndGlyphs">PRODUCT OF VIETNAM</text>
<text x="141.5" y="786.5" font-family="Liberation Sans,sans-serif" font-size="16.2" fill="#8c7c6a" textLength="203" lengthAdjust="spacingAndGlyphs">Clearing heat and detoxifying</text>
<text x="99.5" y="821.5" font-family="Liberation Serif,serif" font-weight="bold" font-size="30" fill="#11764e" textLength="287" lengthAdjust="spacingAndGlyphs">Dandelion Root Wolfberry</text>
<text x="190.5" y="853.5" font-family="Liberation Serif,serif" font-weight="bold" font-size="30" fill="#11764e" textLength="103" lengthAdjust="spacingAndGlyphs">Tea Bags</text>
<text x="185.5" y="878.6" font-family="Liberation Sans,sans-serif" font-size="9.6" fill="#7c7468" textLength="111.5" lengthAdjust="spacingAndGlyphs">Kidneys and Liver Health</text>
<text x="203.5" y="891.4" font-family="Liberation Sans,sans-serif" font-size="9.6" fill="#7c7468" textLength="76.5" lengthAdjust="spacingAndGlyphs">7 Herbal Extracts</text>
<text x="162" y="902.8" font-family="Liberation Sans,sans-serif" font-size="9.6" fill="#7c7468" textLength="159" lengthAdjust="spacingAndGlyphs">Net content: 312gr (13gr x 24 bags)</text>
<circle cx="390.3" cy="712" r="12.3" fill="#e4edd2" stroke="#7aa85a" stroke-width="1.4"/><circle cx="390.3" cy="712" r="9.6" fill="#d9e8c2" stroke="#6a9e4c" stroke-width="1.2"/>
<text x="390.3" y="712.3" text-anchor="middle" font-family="Liberation Sans,sans-serif" font-weight="bold" font-size="4.4" fill="#3f8a3a">SUGAR</text><text x="390.3" y="716.8" text-anchor="middle" font-family="Liberation Sans,sans-serif" font-weight="bold" font-size="4.4" fill="#3f8a3a">FREE</text>
<circle cx="390.3" cy="745.5" r="12.3" fill="#e4edd2" stroke="#7aa85a" stroke-width="1.4"/><circle cx="390.3" cy="745.5" r="9.6" fill="#d9e8c2" stroke="#6a9e4c" stroke-width="1.2"/>
<text x="390.3" y="745.8" text-anchor="middle" font-family="Liberation Sans,sans-serif" font-weight="bold" font-size="4.4" fill="#3f8a3a">NON</text><text x="390.3" y="750.3" text-anchor="middle" font-family="Liberation Sans,sans-serif" font-weight="bold" font-size="4.4" fill="#3f8a3a">GMO</text>
<circle cx="389" cy="778.5" r="12.3" fill="#e4edd2" stroke="#7aa85a" stroke-width="1.4"/><circle cx="389" cy="778.5" r="9.6" fill="#d9e8c2" stroke="#6a9e4c" stroke-width="1.2"/>
<text x="389" y="778.8" text-anchor="middle" font-family="Liberation Sans,sans-serif" font-weight="bold" font-size="4.4" fill="#3f8a3a">CAFFEINE</text><text x="389" y="783.3" text-anchor="middle" font-family="Liberation Sans,sans-serif" font-weight="bold" font-size="4.4" fill="#3f8a3a">FREE</text>
<path d="M90 1015 Q160 1040 245 1044 Q330 1040 400 1020 V1120 H90 Z" fill="url(#pbot)"/>
<path d="M97 1020 Q110 1060 150 1085 Q200 1110 245 1112 Q300 1108 345 1085 Q380 1060 394 1022" fill="none" stroke="#f6f6f6" stroke-width="10" opacity="0.7" filter="url(#b3)"/>
<path d="M120 1060 Q180 1095 245 1098 Q320 1092 372 1058" fill="none" stroke="#d2d2d2" stroke-width="6" opacity="0.8" filter="url(#b3)"/>
<rect x="90" y="1020" width="14" height="95" fill="#cfcfcf" opacity="0.7" filter="url(#b3)"/><rect x="384" y="1020" width="14" height="95" fill="#cfcfcf" opacity="0.7" filter="url(#b3)"/>
<g clip-path="url(#wclip)"><rect x="90" y="910" width="310" height="140" fill="#453a2a"/>
<g transform="translate(60,880) scale(0.25606)" filter="url(#wb)">
<rect x="120" y="120" width="1210" height="30" fill="#6c6658"/><path d="M120 120 H240 L200 260 L150 560 H120 Z" fill="#8a8474"/><path d="M1250 120 H1330 V580 H1230 Z" fill="#7c766a"/><path d="M600 140 H1080 V640 H560 Z" fill="#4a3226"/><path d="M860 140 H1080 V420 H900 Z" fill="#5a4c34"/><path d="M130 470 H560 V660 H130 Z" fill="#1e1a12"/><path d="M900 380 H1250 V640 H860 Z" fill="#4c4026"/><ellipse cx="320" cy="250" rx="125" ry="110" fill="#b8a24a"/><ellipse cx="330" cy="215" rx="95" ry="60" fill="#d6c66a"/><ellipse cx="300" cy="330" rx="80" ry="50" fill="#c4a838"/><path d="M230 170 l40 110" stroke="#e6da88" stroke-width="7" opacity="0.7"/><path d="M244 182 l41 110" stroke="#e6da88" stroke-width="7" opacity="0.7"/><path d="M258 194 l42 110" stroke="#e6da88" stroke-width="7" opacity="0.7"/><path d="M272 170 l43 110" stroke="#e6da88" stroke-width="7" opacity="0.7"/><path d="M286 182 l44 110" stroke="#e6da88" stroke-width="7" opacity="0.7"/><path d="M300 194 l45 110" stroke="#e6da88" stroke-width="7" opacity="0.7"/><path d="M314 170 l46 110" stroke="#e6da88" stroke-width="7" opacity="0.7"/><path d="M328 182 l47 110" stroke="#e6da88" stroke-width="7" opacity="0.7"/><path d="M342 194 l48 110" stroke="#e6da88" stroke-width="7" opacity="0.7"/><path d="M356 170 l49 110" stroke="#e6da88" stroke-width="7" opacity="0.7"/><path d="M370 182 l50 110" stroke="#e6da88" stroke-width="7" opacity="0.7"/><path d="M384 194 l51 110" stroke="#e6da88" stroke-width="7" opacity="0.7"/><path d="M398 170 l52 110" stroke="#e6da88" stroke-width="7" opacity="0.7"/><path d="M412 182 l53 110" stroke="#e6da88" stroke-width="7" opacity="0.7"/><path d="M430 150 L560 190 L560 640 L520 640 L540 250 Z" fill="#9a948a" opacity="0.8"/><path d="M450 160 L590 160 L560 260 Z" fill="#b4b0a6" opacity="0.8"/><ellipse cx="500" cy="400" rx="98" ry="128" fill="#d8c890" transform="rotate(15 500 400)"/><ellipse cx="505" cy="390" rx="80" ry="105" fill="#eee2bc" transform="rotate(15 505 390)"/><path d="M440 400 q50 -60 110 -20" stroke="#c4b07a" stroke-width="8" fill="none"/><ellipse cx="730" cy="215" rx="112" ry="68" fill="#cdbf8e"/><ellipse cx="735" cy="205" rx="95" ry="52" fill="#e9dfb8"/><ellipse cx="1090" cy="540" rx="82" ry="70" fill="#c4b884"/><ellipse cx="1092" cy="535" rx="66" ry="54" fill="#e0d6a4"/><ellipse cx="960" cy="180" rx="40" ry="35" fill="#b08a50"/><ellipse cx="862" cy="372" rx="62" ry="40" fill="#c04a34" transform="rotate(-15 862 372)"/><ellipse cx="850" cy="360" rx="30" ry="14" fill="#dc6a50" transform="rotate(-15 850 360)"/><ellipse cx="915" cy="572" rx="55" ry="30" fill="#b84432" transform="rotate(-10 915 572)"/><ellipse cx="705" cy="345" rx="55" ry="50" fill="#8a3440"/><ellipse cx="880" cy="200" rx="45" ry="40" fill="#984038"/><ellipse cx="375" cy="412" rx="32" ry="36" fill="#c43a38"/><ellipse cx="870" cy="480" rx="40" ry="30" fill="#7a3a30"/><ellipse cx="650" cy="560" rx="110" ry="90" fill="#4e343c"/><path d="M545 600 Q535 520 590 480" fill="none" stroke="#e8e4dc" stroke-width="9"/><path d="M560 150 Q700 400 790 640" fill="none" stroke="#8a8070" stroke-width="6" opacity="0.6"/><path d="M1100 400 Q1000 520 960 640" fill="none" stroke="#a09888" stroke-width="8" opacity="0.6"/><ellipse cx="1000" cy="280" rx="70" ry="50" fill="#8a7a4a" opacity="0.8"/><path d="M250 500 Q320 540 330 480 Q290 470 250 500Z" fill="#b08838"/><path d="M160 252 L232 248 L275 478 L195 472 Z" fill="#c21f3c"/><path d="M232 248 L243 248 L285 478 L275 478 Z" fill="#f0dfe0"/><path d="M1078 150 L1260 138 L1254 365 L1085 388 Z" fill="#f2e2e4"/><path d="M1098 150 L1242 140 L1238 350 L1100 382 Z" fill="#d01f48"/>
</g>
<text transform="translate(119.5,984) rotate(-98)" x="0" y="0" font-family="Liberation Serif,serif" font-style="italic" font-size="14" fill="#f0c8d0" textLength="20" lengthAdjust="spacingAndGlyphs">Tea</text>
<text transform="translate(348.5,957) rotate(-6)" x="0" y="0" font-family="Liberation Serif,serif" font-style="italic" font-size="19" fill="#f6dce0" textLength="27" lengthAdjust="spacingAndGlyphs">Tea</text>
<rect x="90" y="910" width="310" height="140" fill="#a8a49c" opacity="0.2"/>
<rect x="90" y="910" width="9" height="125" fill="#a09c94" opacity="0.7" filter="url(#b2)"/><rect x="390" y="910" width="10" height="125" fill="#98948c" opacity="0.7" filter="url(#b2)"/>
<path d="M92 912 H398 V920 Q245 916 92 921 Z" fill="#c8c8c4" opacity="0.5" filter="url(#b1)"/>
</g>
</g>
<g transform="translate(100,1140) scale(0.193774)">
<defs>
<linearGradient id="tea" x1="0" y1="0" x2="0" y2="1"><stop offset="0" stop-color="#c09a2c"/><stop offset="0.12" stop-color="#d4a828"/><stop offset="0.5" stop-color="#e4b422"/><stop offset="0.8" stop-color="#ecbc1c"/><stop offset="1" stop-color="#e0a820"/></linearGradient>
<linearGradient id="teaside" x1="0" y1="0" x2="1" y2="0"><stop offset="0" stop-color="#a88430" stop-opacity="0.9"/><stop offset="0.1" stop-color="#f0d890" stop-opacity="0.8"/><stop offset="0.2" stop-color="#e0b020" stop-opacity="0"/><stop offset="0.85" stop-color="#e0b020" stop-opacity="0"/><stop offset="0.95" stop-color="#f4e090" stop-opacity="0.7"/><stop offset="1" stop-color="#c89828" stop-opacity="0.9"/></linearGradient>
<clipPath id="gclip"><path d="M570 95 H1170 Q1200 300 1255 520 Q1300 760 1230 1010 Q1190 1160 1140 1235 H860 Q800 1180 680 1000 Q480 760 520 520 Q560 300 570 95 Z"/></clipPath>
<linearGradient id="bagg" x1="0" y1="0" x2="1" y2="1"><stop offset="0" stop-color="#d8d4cc"/><stop offset="0.5" stop-color="#c2beb2"/><stop offset="1" stop-color="#a8a496"/></linearGradient>
<radialGradient id="coast" cx="0.5" cy="0.4" r="0.6"><stop offset="0" stop-color="#9a6a2c"/><stop offset="0.6" stop-color="#bc843a"/><stop offset="1" stop-color="#d09c54"/></radialGradient>
<filter id="gb" x="-5%" y="-5%" width="110%" height="110%"><feGaussianBlur stdDeviation="3"/></filter>
<filter id="gb2" x="-10%" y="-10%" width="120%" height="120%"><feGaussianBlur stdDeviation="9"/></filter>
</defs>
<g filter="url(#gb)">
<g clip-path="url(#gclip)">
<rect x="480" y="90" width="820" height="1160" fill="#fcfcfc"/>
<path d="M480 312 H1300 V1160 H480 Z" fill="url(#tea)"/>
<rect x="480" y="306" width="820" height="26" fill="#a8883a" opacity="0.8"/>
<rect x="480" y="294" width="820" height="14" fill="#ece6d4"/>
<g filter="url(#gb2)">
<path d="M1071 262 L1205 295 L1215 862 L634 610 L998 290 Z" fill="#c8922a"/>
<path d="M690 600 L1000 300 L1060 290 L760 640 Z" fill="#e0b040" opacity="0.8"/>
<path d="M830 446 Q920 380 1011 392 L1211 598 L1213 856 L804 672 Q760 560 830 446 Z" fill="#4a2a0c"/>
<path d="M800 560 Q900 470 1010 560 Q1060 700 960 760 Q820 720 800 560 Z" fill="#2e1a06"/>
<path d="M900 700 L1213 760 L1213 856 L880 720 Z" fill="#3a2208"/>
<ellipse cx="1030" cy="412" rx="62" ry="48" fill="#e4b428"/><ellipse cx="1135" cy="395" rx="62" ry="56" fill="#dcaa26"/><ellipse cx="1120" cy="590" rx="66" ry="58" fill="#d49c22"/>
<ellipse cx="925" cy="475" rx="55" ry="30" fill="#3e3c12"/><ellipse cx="1150" cy="500" rx="48" ry="34" fill="#3c3a12"/><ellipse cx="1140" cy="650" rx="36" ry="50" fill="#34300e"/>
<path d="M830 495 L1000 640" stroke="#b89a60" stroke-width="12" fill="none"/>
</g>
<path d="M634 610 L1215 862 L1215 1000 L634 800 Z" fill="#f2c21c" opacity="0.55" filter="url(#gb2)"/>
<path d="M525 318 L574 318 L560 700 L510 690 Z" fill="#c09a54" opacity="0.9" filter="url(#gb2)"/>
<path d="M585 325 L660 325 L640 640 L575 720 Z" fill="#f4e6b0" opacity="0.7" filter="url(#gb2)"/>
<rect x="480" y="290" width="820" height="870" fill="url(#teaside)" opacity="0.5"/>
<path d="M800 1140 Q1000 1180 1200 1120 L1160 1240 H850 Z" fill="#e8e4dc"/>
<path d="M860 1170 Q1000 1200 1150 1160 L1140 1235 H870 Z" fill="#c8c4c0"/>
</g>
<path d="M570 95 H1170 Q1200 300 1255 520 Q1300 760 1230 1010 Q1190 1160 1140 1235 H860" fill="none" stroke="#d8d8d8" stroke-width="6"/>
<path d="M570 95 Q560 300 520 520 Q490 700 600 880" fill="none" stroke="#dcd8cc" stroke-width="6"/>
<path d="M575 100 Q870 80 1168 100" fill="none" stroke="#e6e6e6" stroke-width="5"/>
<ellipse cx="580" cy="1262" rx="448" ry="178" fill="#c48a44"/>
<ellipse cx="580" cy="1240" rx="400" ry="140" fill="url(#coast)"/>
<ellipse cx="1010" cy="1262" rx="9" ry="16" fill="#e0b070" transform="rotate(90 1010 1262)"/><ellipse cx="967" cy="1262" rx="9" ry="16" fill="#8a5420" transform="rotate(90 967 1262)"/><ellipse cx="924" cy="1262" rx="9" ry="16" fill="#c89048" transform="rotate(90 924 1262)"/><ellipse cx="1010" cy="1269" rx="9" ry="16" fill="#9a6428" transform="rotate(92 1010 1269)"/><ellipse cx="967" cy="1268" rx="9" ry="16" fill="#d8a458" transform="rotate(92 967 1268)"/><ellipse cx="924" cy="1268" rx="9" ry="16" fill="#7a4818" transform="rotate(92 924 1268)"/><ellipse cx="1008" cy="1276" rx="9" ry="16" fill="#e0b070" transform="rotate(95 1008 1276)"/><ellipse cx="966" cy="1274" rx="9" ry="16" fill="#8a5420" transform="rotate(95 966 1274)"/><ellipse cx="923" cy="1273" rx="9" ry="16" fill="#c89048" transform="rotate(95 923 1273)"/><ellipse cx="1007" cy="1283" rx="9" ry="16" fill="#9a6428" transform="rotate(97 1007 1283)"/><ellipse cx="964" cy="1281" rx="9" ry="16" fill="#d8a458" transform="rotate(97 964 1281)"/><ellipse cx="921" cy="1279" rx="9" ry="16" fill="#7a4818" transform="rotate(97 921 1279)"/><ellipse cx="1004" cy="1290" rx="9" ry="16" fill="#e0b070" transform="rotate(100 1004 1290)"/><ellipse cx="962" cy="1287" rx="9" ry="16" fill="#8a5420" transform="rotate(100 962 1287)"/><ellipse cx="919" cy="1284" rx="9" ry="16" fill="#c89048" transform="rotate(100 919 1284)"/><ellipse cx="1001" cy="1296" rx="9" ry="16" fill="#9a6428" transform="rotate(102 1001 1296)"/><ellipse cx="959" cy="1293" rx="9" ry="16" fill="#d8a458" transform="rotate(102 959 1293)"/><ellipse cx="916" cy="1289" rx="9" ry="16" fill="#7a4818" transform="rotate(102 916 1289)"/><ellipse cx="996" cy="1303" rx="9" ry="16" fill="#e0b070" transform="rotate(104 996 1303)"/><ellipse cx="955" cy="1299" rx="9" ry="16" fill="#8a5420" transform="rotate(104 955 1299)"/><ellipse cx="913" cy="1295" rx="9" ry="16" fill="#c89048" transform="rotate(104 913 1295)"/><ellipse cx="992" cy="1310" rx="9" ry="16" fill="#9a6428" transform="rotate(107 992 1310)"/><ellipse cx="950" cy="1305" rx="9" ry="16" fill="#d8a458" transform="rotate(107 950 1305)"/><ellipse cx="909" cy="1300" rx="9" ry="16" fill="#7a4818" transform="rotate(107 909 1300)"/><ellipse cx="986" cy="1316" rx="9" ry="16" fill="#e0b070" transform="rotate(109 986 1316)"/><ellipse cx="945" cy="1311" rx="9" ry="16" fill="#8a5420" transform="rotate(109 945 1311)"/><ellipse cx="905" cy="1305" rx="9" ry="16" fill="#c89048" transform="rotate(109 905 1305)"/><ellipse cx="980" cy="1323" rx="9" ry="16" fill="#9a6428" transform="rotate(112 980 1323)"/><ellipse cx="940" cy="1317" rx="9" ry="16" fill="#d8a458" transform="rotate(112 940 1317)"/><ellipse cx="900" cy="1311" rx="9" ry="16" fill="#7a4818" transform="rotate(112 900 1311)"/><ellipse cx="973" cy="1329" rx="9" ry="16" fill="#e0b070" transform="rotate(114 973 1329)"/><ellipse cx="934" cy="1322" rx="9" ry="16" fill="#8a5420" transform="rotate(114 934 1322)"/><ellipse cx="894" cy="1316" rx="9" ry="16" fill="#c89048" transform="rotate(114 894 1316)"/><ellipse cx="965" cy="1335" rx="9" ry="16" fill="#9a6428" transform="rotate(116 965 1335)"/><ellipse cx="927" cy="1328" rx="9" ry="16" fill="#d8a458" transform="rotate(116 927 1328)"/><ellipse cx="888" cy="1321" rx="9" ry="16" fill="#7a4818" transform="rotate(116 888 1321)"/><ellipse cx="957" cy="1341" rx="9" ry="16" fill="#e0b070" transform="rotate(119 957 1341)"/><ellipse cx="919" cy="1334" rx="9" ry="16" fill="#8a5420" transform="rotate(119 919 1334)"/><ellipse cx="881" cy="1326" rx="9" ry="16" fill="#c89048" transform="rotate(119 881 1326)"/><ellipse cx="948" cy="1347" rx="9" ry="16" fill="#9a6428" transform="rotate(121 948 1347)"/><ellipse cx="911" cy="1339" rx="9" ry="16" fill="#d8a458" transform="rotate(121 911 1339)"/><ellipse cx="874" cy="1330" rx="9" ry="16" fill="#7a4818" transform="rotate(121 874 1330)"/><ellipse cx="938" cy="1353" rx="9" ry="16" fill="#e0b070" transform="rotate(124 938 1353)"/><ellipse cx="902" cy="1344" rx="9" ry="16" fill="#8a5420" transform="rotate(124 902 1344)"/><ellipse cx="867" cy="1335" rx="9" ry="16" fill="#c89048" transform="rotate(124 867 1335)"/><ellipse cx="928" cy="1359" rx="9" ry="16" fill="#9a6428" transform="rotate(126 928 1359)"/><ellipse cx="893" cy="1349" rx="9" ry="16" fill="#d8a458" transform="rotate(126 893 1349)"/><ellipse cx="858" cy="1340" rx="9" ry="16" fill="#7a4818" transform="rotate(126 858 1340)"/><ellipse cx="917" cy="1364" rx="9" ry="16" fill="#e0b070" transform="rotate(128 917 1364)"/><ellipse cx="883" cy="1354" rx="9" ry="16" fill="#8a5420" transform="rotate(128 883 1354)"/><ellipse cx="850" cy="1344" rx="9" ry="16" fill="#c89048" transform="rotate(128 850 1344)"/><ellipse cx="906" cy="1370" rx="9" ry="16" fill="#9a6428" transform="rotate(131 906 1370)"/><ellipse cx="873" cy="1359" rx="9" ry="16" fill="#d8a458" transform="rotate(131 873 1359)"/><ellipse cx="840" cy="1348" rx="9" ry="16" fill="#7a4818" transform="rotate(131 840 1348)"/><ellipse cx="893" cy="1375" rx="9" ry="16" fill="#e0b070" transform="rotate(133 893 1375)"/><ellipse cx="862" cy="1364" rx="9" ry="16" fill="#8a5420" transform="rotate(133 862 1364)"/><ellipse cx="831" cy="1352" rx="9" ry="16" fill="#c89048" transform="rotate(133 831 1352)"/><ellipse cx="881" cy="1380" rx="9" ry="16" fill="#9a6428" transform="rotate(136 881 1380)"/><ellipse cx="851" cy="1368" rx="9" ry="16" fill="#d8a458" transform="rotate(136 851 1368)"/><ellipse cx="821" cy="1356" rx="9" ry="16" fill="#7a4818" transform="rotate(136 821 1356)"/><ellipse cx="868" cy="1385" rx="9" ry="16" fill="#e0b070" transform="rotate(138 868 1385)"/><ellipse cx="839" cy="1372" rx="9" ry="16" fill="#8a5420" transform="rotate(138 839 1372)"/><ellipse cx="810" cy="1360" rx="9" ry="16" fill="#c89048" transform="rotate(138 810 1360)"/><ellipse cx="854" cy="1389" rx="9" ry="16" fill="#9a6428" transform="rotate(140 854 1389)"/><ellipse cx="827" cy="1376" rx="9" ry="16" fill="#d8a458" transform="rotate(140 827 1376)"/><ellipse cx="799" cy="1364" rx="9" ry="16" fill="#7a4818" transform="rotate(140 799 1364)"/><ellipse cx="840" cy="1393" rx="9" ry="16" fill="#e0b070" transform="rotate(143 840 1393)"/><ellipse cx="814" cy="1380" rx="9" ry="16" fill="#8a5420" transform="rotate(143 814 1380)"/><ellipse cx="788" cy="1367" rx="9" ry="16" fill="#c89048" transform="rotate(143 788 1367)"/><ellipse cx="825" cy="1397" rx="9" ry="16" fill="#9a6428" transform="rotate(145 825 1397)"/><ellipse cx="801" cy="1384" rx="9" ry="16" fill="#d8a458" transform="rotate(145 801 1384)"/><ellipse cx="776" cy="1370" rx="9" ry="16" fill="#7a4818" transform="rotate(145 776 1370)"/><ellipse cx="810" cy="1401" rx="9" ry="16" fill="#e0b070" transform="rotate(148 810 1401)"/><ellipse cx="787" cy="1387" rx="9" ry="16" fill="#8a5420" transform="rotate(148 787 1387)"/><ellipse cx="764" cy="1373" rx="9" ry="16" fill="#c89048" transform="rotate(148 764 1373)"/><ellipse cx="795" cy="1405" rx="9" ry="16" fill="#9a6428" transform="rotate(150 795 1405)"/><ellipse cx="774" cy="1391" rx="9" ry="16" fill="#d8a458" transform="rotate(150 774 1391)"/><ellipse cx="752" cy="1376" rx="9" ry="16" fill="#7a4818" transform="rotate(150 752 1376)"/><ellipse cx="779" cy="1408" rx="9" ry="16" fill="#e0b070" transform="rotate(152 779 1408)"/><ellipse cx="759" cy="1394" rx="9" ry="16" fill="#8a5420" transform="rotate(152 759 1394)"/><ellipse cx="739" cy="1379" rx="9" ry="16" fill="#c89048" transform="rotate(152 739 1379)"/><ellipse cx="763" cy="1411" rx="9" ry="16" fill="#9a6428" transform="rotate(155 763 1411)"/><ellipse cx="745" cy="1396" rx="9" ry="16" fill="#d8a458" transform="rotate(155 745 1396)"/><ellipse cx="726" cy="1381" rx="9" ry="16" fill="#7a4818" transform="rotate(155 726 1381)"/><ellipse cx="747" cy="1414" rx="9" ry="16" fill="#e0b070" transform="rotate(157 747 1414)"/><ellipse cx="730" cy="1399" rx="9" ry="16" fill="#8a5420" transform="rotate(157 730 1399)"/><ellipse cx="713" cy="1384" rx="9" ry="16" fill="#c89048" transform="rotate(157 713 1384)"/><ellipse cx="730" cy="1417" rx="9" ry="16" fill="#9a6428" transform="rotate(160 730 1417)"/><ellipse cx="715" cy="1401" rx="9" ry="16" fill="#d8a458" transform="rotate(160 715 1401)"/><ellipse cx="700" cy="1386" rx="9" ry="16" fill="#7a4818" transform="rotate(160 700 1386)"/><ellipse cx="713" cy="1419" rx="9" ry="16" fill="#e0b070" transform="rotate(162 713 1419)"/><ellipse cx="700" cy="1403" rx="9" ry="16" fill="#8a5420" transform="rotate(162 700 1403)"/><ellipse cx="686" cy="1388" rx="9" ry="16" fill="#c89048" transform="rotate(162 686 1388)"/><ellipse cx="696" cy="1421" rx="9" ry="16" fill="#9a6428" transform="rotate(164 696 1421)"/><ellipse cx="684" cy="1405" rx="9" ry="16" fill="#d8a458" transform="rotate(164 684 1405)"/><ellipse cx="673" cy="1389" rx="9" ry="16" fill="#7a4818" transform="rotate(164 673 1389)"/><ellipse cx="678" cy="1423" rx="9" ry="16" fill="#e0b070" transform="rotate(167 678 1423)"/><ellipse cx="668" cy="1407" rx="9" ry="16" fill="#8a5420" transform="rotate(167 668 1407)"/><ellipse cx="659" cy="1391" rx="9" ry="16" fill="#c89048" transform="rotate(167 659 1391)"/><ellipse cx="661" cy="1424" rx="9" ry="16" fill="#9a6428" transform="rotate(169 661 1424)"/><ellipse cx="653" cy="1408" rx="9" ry="16" fill="#d8a458" transform="rotate(169 653 1408)"/><ellipse cx="644" cy="1392" rx="9" ry="16" fill="#7a4818" transform="rotate(169 644 1392)"/><ellipse cx="643" cy="1425" rx="9" ry="16" fill="#e0b070" transform="rotate(172 643 1425)"/><ellipse cx="637" cy="1409" rx="9" ry="16" fill="#8a5420" transform="rotate(172 637 1409)"/><ellipse cx="630" cy="1393" rx="9" ry="16" fill="#c89048" transform="rotate(172 630 1393)"/><ellipse cx="625" cy="1426" rx="9" ry="16" fill="#9a6428" transform="rotate(174 625 1426)"/><ellipse cx="620" cy="1410" rx="9" ry="16" fill="#d8a458" transform="rotate(174 620 1410)"/><ellipse cx="616" cy="1393" rx="9" ry="16" fill="#7a4818" transform="rotate(174 616 1393)"/><ellipse cx="607" cy="1427" rx="9" ry="16" fill="#e0b070" transform="rotate(176 607 1427)"/><ellipse cx="604" cy="1410" rx="9" ry="16" fill="#8a5420" transform="rotate(176 604 1410)"/><ellipse cx="602" cy="1394" rx="9" ry="16" fill="#c89048" transform="rotate(176 602 1394)"/><ellipse cx="589" cy="1427" rx="9" ry="16" fill="#9a6428" transform="rotate(179 589 1427)"/><ellipse cx="588" cy="1410" rx="9" ry="16" fill="#d8a458" transform="rotate(179 588 1410)"/><ellipse cx="587" cy="1394" rx="9" ry="16" fill="#7a4818" transform="rotate(179 587 1394)"/><ellipse cx="571" cy="1427" rx="9" ry="16" fill="#e0b070" transform="rotate(181 571 1427)"/><ellipse cx="572" cy="1410" rx="9" ry="16" fill="#8a5420" transform="rotate(181 572 1410)"/><ellipse cx="573" cy="1394" rx="9" ry="16" fill="#c89048" transform="rotate(181 573 1394)"/><ellipse cx="553" cy="1427" rx="9" ry="16" fill="#9a6428" transform="rotate(184 553 1427)"/><ellipse cx="556" cy="1410" rx="9" ry="16" fill="#d8a458" transform="rotate(184 556 1410)"/><ellipse cx="558" cy="1394" rx="9" ry="16" fill="#7a4818" transform="rotate(184 558 1394)"/><ellipse cx="535" cy="1426" rx="9" ry="16" fill="#e0b070" transform="rotate(186 535 1426)"/><ellipse cx="540" cy="1410" rx="9" ry="16" fill="#8a5420" transform="rotate(186 540 1410)"/><ellipse cx="544" cy="1393" rx="9" ry="16" fill="#c89048" transform="rotate(186 544 1393)"/><ellipse cx="517" cy="1425" rx="9" ry="16" fill="#9a6428" transform="rotate(188 517 1425)"/><ellipse cx="523" cy="1409" rx="9" ry="16" fill="#d8a458" transform="rotate(188 523 1409)"/><ellipse cx="530" cy="1393" rx="9" ry="16" fill="#7a4818" transform="rotate(188 530 1393)"/><ellipse cx="499" cy="1424" rx="9" ry="16" fill="#e0b070" transform="rotate(191 499 1424)"/><ellipse cx="507" cy="1408" rx="9" ry="16" fill="#8a5420" transform="rotate(191 507 1408)"/><ellipse cx="516" cy="1392" rx="9" ry="16" fill="#c89048" transform="rotate(191 516 1392)"/><ellipse cx="482" cy="1423" rx="9" ry="16" fill="#9a6428" transform="rotate(193 482 1423)"/><ellipse cx="492" cy="1407" rx="9" ry="16" fill="#d8a458" transform="rotate(193 492 1407)"/><ellipse cx="501" cy="1391" rx="9" ry="16" fill="#7a4818" transform="rotate(193 501 1391)"/><ellipse cx="464" cy="1421" rx="9" ry="16" fill="#e0b070" transform="rotate(196 464 1421)"/><ellipse cx="476" cy="1405" rx="9" ry="16" fill="#8a5420" transform="rotate(196 476 1405)"/><ellipse cx="487" cy="1389" rx="9" ry="16" fill="#c89048" transform="rotate(196 487 1389)"/><ellipse cx="447" cy="1419" rx="9" ry="16" fill="#9a6428" transform="rotate(198 447 1419)"/><ellipse cx="460" cy="1403" rx="9" ry="16" fill="#d8a458" transform="rotate(198 460 1403)"/><ellipse cx="474" cy="1388" rx="9" ry="16" fill="#7a4818" transform="rotate(198 474 1388)"/><ellipse cx="430" cy="1417" rx="9" ry="16" fill="#e0b070" transform="rotate(200 430 1417)"/><ellipse cx="445" cy="1401" rx="9" ry="16" fill="#8a5420" transform="rotate(200 445 1401)"/><ellipse cx="460" cy="1386" rx="9" ry="16" fill="#c89048" transform="rotate(200 460 1386)"/><ellipse cx="413" cy="1414" rx="9" ry="16" fill="#9a6428" transform="rotate(203 413 1414)"/><ellipse cx="430" cy="1399" rx="9" ry="16" fill="#d8a458" transform="rotate(203 430 1399)"/><ellipse cx="447" cy="1384" rx="9" ry="16" fill="#7a4818" transform="rotate(203 447 1384)"/><ellipse cx="397" cy="1411" rx="9" ry="16" fill="#e0b070" transform="rotate(205 397 1411)"/><ellipse cx="415" cy="1396" rx="9" ry="16" fill="#8a5420" transform="rotate(205 415 1396)"/><ellipse cx="434" cy="1381" rx="9" ry="16" fill="#c89048" transform="rotate(205 434 1381)"/><ellipse cx="381" cy="1408" rx="9" ry="16" fill="#9a6428" transform="rotate(208 381 1408)"/><ellipse cx="401" cy="1394" rx="9" ry="16" fill="#d8a458" transform="rotate(208 401 1394)"/><ellipse cx="421" cy="1379" rx="9" ry="16" fill="#7a4818" transform="rotate(208 421 1379)"/><ellipse cx="365" cy="1405" rx="9" ry="16" fill="#e0b070" transform="rotate(210 365 1405)"/><ellipse cx="387" cy="1391" rx="9" ry="16" fill="#8a5420" transform="rotate(210 387 1391)"/><ellipse cx="408" cy="1376" rx="9" ry="16" fill="#c89048" transform="rotate(210 408 1376)"/><ellipse cx="350" cy="1401" rx="9" ry="16" fill="#9a6428" transform="rotate(212 350 1401)"/><ellipse cx="373" cy="1387" rx="9" ry="16" fill="#d8a458" transform="rotate(212 373 1387)"/><ellipse cx="396" cy="1373" rx="9" ry="16" fill="#7a4818" transform="rotate(212 396 1373)"/><ellipse cx="335" cy="1397" rx="9" ry="16" fill="#e0b070" transform="rotate(215 335 1397)"/><ellipse cx="359" cy="1384" rx="9" ry="16" fill="#8a5420" transform="rotate(215 359 1384)"/><ellipse cx="384" cy="1370" rx="9" ry="16" fill="#c89048" transform="rotate(215 384 1370)"/><ellipse cx="320" cy="1393" rx="9" ry="16" fill="#9a6428" transform="rotate(217 320 1393)"/><ellipse cx="346" cy="1380" rx="9" ry="16" fill="#d8a458" transform="rotate(217 346 1380)"/><ellipse cx="372" cy="1367" rx="9" ry="16" fill="#7a4818" transform="rotate(217 372 1367)"/><ellipse cx="306" cy="1389" rx="9" ry="16" fill="#e0b070" transform="rotate(220 306 1389)"/><ellipse cx="333" cy="1376" rx="9" ry="16" fill="#8a5420" transform="rotate(220 333 1376)"/><ellipse cx="361" cy="1364" rx="9" ry="16" fill="#c89048" transform="rotate(220 361 1364)"/><ellipse cx="292" cy="1385" rx="9" ry="16" fill="#9a6428" transform="rotate(222 292 1385)"/><ellipse cx="321" cy="1372" rx="9" ry="16" fill="#d8a458" transform="rotate(222 321 1372)"/><ellipse cx="350" cy="1360" rx="9" ry="16" fill="#7a4818" transform="rotate(222 350 1360)"/><ellipse cx="279" cy="1380" rx="9" ry="16" fill="#e0b070" transform="rotate(224 279 1380)"/><ellipse cx="309" cy="1368" rx="9" ry="16" fill="#8a5420" transform="rotate(224 309 1368)"/><ellipse cx="339" cy="1356" rx="9" ry="16" fill="#c89048" transform="rotate(224 339 1356)"/><ellipse cx="267" cy="1375" rx="9" ry="16" fill="#9a6428" transform="rotate(227 267 1375)"/><ellipse cx="298" cy="1364" rx="9" ry="16" fill="#d8a458" transform="rotate(227 298 1364)"/><ellipse cx="329" cy="1352" rx="9" ry="16" fill="#7a4818" transform="rotate(227 329 1352)"/><ellipse cx="254" cy="1370" rx="9" ry="16" fill="#e0b070" transform="rotate(229 254 1370)"/><ellipse cx="287" cy="1359" rx="9" ry="16" fill="#8a5420" transform="rotate(229 287 1359)"/><ellipse cx="320" cy="1348" rx="9" ry="16" fill="#c89048" transform="rotate(229 320 1348)"/><ellipse cx="243" cy="1364" rx="9" ry="16" fill="#9a6428" transform="rotate(232 243 1364)"/><ellipse cx="277" cy="1354" rx="9" ry="16" fill="#d8a458" transform="rotate(232 277 1354)"/><ellipse cx="310" cy="1344" rx="9" ry="16" fill="#7a4818" transform="rotate(232 310 1344)"/><ellipse cx="232" cy="1359" rx="9" ry="16" fill="#e0b070" transform="rotate(234 232 1359)"/><ellipse cx="267" cy="1349" rx="9" ry="16" fill="#8a5420" transform="rotate(234 267 1349)"/><ellipse cx="302" cy="1340" rx="9" ry="16" fill="#c89048" transform="rotate(234 302 1340)"/><ellipse cx="222" cy="1353" rx="9" ry="16" fill="#9a6428" transform="rotate(236 222 1353)"/><ellipse cx="258" cy="1344" rx="9" ry="16" fill="#d8a458" transform="rotate(236 258 1344)"/><ellipse cx="293" cy="1335" rx="9" ry="16" fill="#7a4818" transform="rotate(236 293 1335)"/><ellipse cx="212" cy="1347" rx="9" ry="16" fill="#e0b070" transform="rotate(239 212 1347)"/><ellipse cx="249" cy="1339" rx="9" ry="16" fill="#8a5420" transform="rotate(239 249 1339)"/><ellipse cx="286" cy="1330" rx="9" ry="16" fill="#c89048" transform="rotate(239 286 1330)"/><ellipse cx="203" cy="1341" rx="9" ry="16" fill="#9a6428" transform="rotate(241 203 1341)"/><ellipse cx="241" cy="1334" rx="9" ry="16" fill="#d8a458" transform="rotate(241 241 1334)"/><ellipse cx="279" cy="1326" rx="9" ry="16" fill="#7a4818" transform="rotate(241 279 1326)"/><ellipse cx="195" cy="1335" rx="9" ry="16" fill="#e0b070" transform="rotate(244 195 1335)"/><ellipse cx="233" cy="1328" rx="9" ry="16" fill="#8a5420" transform="rotate(244 233 1328)"/><ellipse cx="272" cy="1321" rx="9" ry="16" fill="#c89048" transform="rotate(244 272 1321)"/><ellipse cx="187" cy="1329" rx="9" ry="16" fill="#9a6428" transform="rotate(246 187 1329)"/><ellipse cx="226" cy="1322" rx="9" ry="16" fill="#d8a458" transform="rotate(246 226 1322)"/><ellipse cx="266" cy="1316" rx="9" ry="16" fill="#7a4818" transform="rotate(246 266 1316)"/><ellipse cx="180" cy="1323" rx="9" ry="16" fill="#e0b070" transform="rotate(248 180 1323)"/><ellipse cx="220" cy="1317" rx="9" ry="16" fill="#8a5420" transform="rotate(248 220 1317)"/><ellipse cx="260" cy="1311" rx="9" ry="16" fill="#c89048" transform="rotate(248 260 1311)"/><ellipse cx="174" cy="1316" rx="9" ry="16" fill="#9a6428" transform="rotate(251 174 1316)"/><ellipse cx="215" cy="1311" rx="9" ry="16" fill="#d8a458" transform="rotate(251 215 1311)"/><ellipse cx="255" cy="1305" rx="9" ry="16" fill="#7a4818" transform="rotate(251 255 1305)"/><ellipse cx="168" cy="1310" rx="9" ry="16" fill="#e0b070" transform="rotate(253 168 1310)"/><ellipse cx="210" cy="1305" rx="9" ry="16" fill="#8a5420" transform="rotate(253 210 1305)"/><ellipse cx="251" cy="1300" rx="9" ry="16" fill="#c89048" transform="rotate(253 251 1300)"/><ellipse cx="164" cy="1303" rx="9" ry="16" fill="#9a6428" transform="rotate(256 164 1303)"/><ellipse cx="205" cy="1299" rx="9" ry="16" fill="#d8a458" transform="rotate(256 205 1299)"/><ellipse cx="247" cy="1295" rx="9" ry="16" fill="#7a4818" transform="rotate(256 247 1295)"/><ellipse cx="159" cy="1296" rx="9" ry="16" fill="#e0b070" transform="rotate(258 159 1296)"/><ellipse cx="201" cy="1293" rx="9" ry="16" fill="#8a5420" transform="rotate(258 201 1293)"/><ellipse cx="244" cy="1289" rx="9" ry="16" fill="#c89048" transform="rotate(258 244 1289)"/><ellipse cx="156" cy="1290" rx="9" ry="16" fill="#9a6428" transform="rotate(260 156 1290)"/><ellipse cx="198" cy="1287" rx="9" ry="16" fill="#d8a458" transform="rotate(260 198 1287)"/><ellipse cx="241" cy="1284" rx="9" ry="16" fill="#7a4818" transform="rotate(260 241 1284)"/><ellipse cx="153" cy="1283" rx="9" ry="16" fill="#e0b070" transform="rotate(263 153 1283)"/><ellipse cx="196" cy="1281" rx="9" ry="16" fill="#8a5420" transform="rotate(263 196 1281)"/><ellipse cx="239" cy="1279" rx="9" ry="16" fill="#c89048" transform="rotate(263 239 1279)"/><ellipse cx="152" cy="1276" rx="9" ry="16" fill="#9a6428" transform="rotate(265 152 1276)"/><ellipse cx="194" cy="1274" rx="9" ry="16" fill="#d8a458" transform="rotate(265 194 1274)"/><ellipse cx="237" cy="1273" rx="9" ry="16" fill="#7a4818" transform="rotate(265 237 1273)"/><ellipse cx="150" cy="1269" rx="9" ry="16" fill="#e0b070" transform="rotate(268 150 1269)"/><ellipse cx="193" cy="1268" rx="9" ry="16" fill="#8a5420" transform="rotate(268 193 1268)"/><ellipse cx="236" cy="1268" rx="9" ry="16" fill="#c89048" transform="rotate(268 236 1268)"/><ellipse cx="150" cy="1262" rx="9" ry="16" fill="#9a6428" transform="rotate(270 150 1262)"/><ellipse cx="193" cy="1262" rx="9" ry="16" fill="#d8a458" transform="rotate(270 193 1262)"/><ellipse cx="236" cy="1262" rx="9" ry="16" fill="#7a4818" transform="rotate(270 236 1262)"/><ellipse cx="150" cy="1255" rx="9" ry="16" fill="#e0b070" transform="rotate(272 150 1255)"/><ellipse cx="193" cy="1256" rx="9" ry="16" fill="#8a5420" transform="rotate(272 193 1256)"/><ellipse cx="236" cy="1256" rx="9" ry="16" fill="#c89048" transform="rotate(272 236 1256)"/><ellipse cx="152" cy="1248" rx="9" ry="16" fill="#9a6428" transform="rotate(275 152 1248)"/><ellipse cx="194" cy="1250" rx="9" ry="16" fill="#d8a458" transform="rotate(275 194 1250)"/><ellipse cx="237" cy="1251" rx="9" ry="16" fill="#7a4818" transform="rotate(275 237 1251)"/><ellipse cx="153" cy="1241" rx="9" ry="16" fill="#e0b070" transform="rotate(277 153 1241)"/><ellipse cx="196" cy="1243" rx="9" ry="16" fill="#8a5420" transform="rotate(277 196 1243)"/><ellipse cx="239" cy="1245" rx="9" ry="16" fill="#c89048" transform="rotate(277 239 1245)"/><ellipse cx="156" cy="1234" rx="9" ry="16" fill="#9a6428" transform="rotate(280 156 1234)"/><ellipse cx="198" cy="1237" rx="9" ry="16" fill="#d8a458" transform="rotate(280 198 1237)"/><ellipse cx="241" cy="1240" rx="9" ry="16" fill="#7a4818" transform="rotate(280 241 1240)"/><ellipse cx="159" cy="1228" rx="9" ry="16" fill="#e0b070" transform="rotate(282 159 1228)"/><ellipse cx="201" cy="1231" rx="9" ry="16" fill="#8a5420" transform="rotate(282 201 1231)"/><ellipse cx="244" cy="1235" rx="9" ry="16" fill="#c89048" transform="rotate(282 244 1235)"/><ellipse cx="164" cy="1221" rx="9" ry="16" fill="#9a6428" transform="rotate(284 164 1221)"/><ellipse cx="205" cy="1225" rx="9" ry="16" fill="#d8a458" transform="rotate(284 205 1225)"/><ellipse cx="247" cy="1229" rx="9" ry="16" fill="#7a4818" transform="rotate(284 247 1229)"/><ellipse cx="168" cy="1214" rx="9" ry="16" fill="#e0b070" transform="rotate(287 168 1214)"/><ellipse cx="210" cy="1219" rx="9" ry="16" fill="#8a5420" transform="rotate(287 210 1219)"/><ellipse cx="251" cy="1224" rx="9" ry="16" fill="#c89048" transform="rotate(287 251 1224)"/><ellipse cx="174" cy="1208" rx="9" ry="16" fill="#9a6428" transform="rotate(289 174 1208)"/><ellipse cx="215" cy="1213" rx="9" ry="16" fill="#d8a458" transform="rotate(289 215 1213)"/><ellipse cx="255" cy="1219" rx="9" ry="16" fill="#7a4818" transform="rotate(289 255 1219)"/><ellipse cx="180" cy="1201" rx="9" ry="16" fill="#e0b070" transform="rotate(292 180 1201)"/><ellipse cx="220" cy="1207" rx="9" ry="16" fill="#8a5420" transform="rotate(292 220 1207)"/><ellipse cx="260" cy="1213" rx="9" ry="16" fill="#c89048" transform="rotate(292 260 1213)"/><ellipse cx="187" cy="1195" rx="9" ry="16" fill="#9a6428" transform="rotate(294 187 1195)"/><ellipse cx="226" cy="1202" rx="9" ry="16" fill="#d8a458" transform="rotate(294 226 1202)"/><ellipse cx="266" cy="1208" rx="9" ry="16" fill="#7a4818" transform="rotate(294 266 1208)"/><ellipse cx="195" cy="1189" rx="9" ry="16" fill="#e0b070" transform="rotate(296 195 1189)"/><ellipse cx="233" cy="1196" rx="9" ry="16" fill="#8a5420" transform="rotate(296 233 1196)"/><ellipse cx="272" cy="1203" rx="9" ry="16" fill="#c89048" transform="rotate(296 272 1203)"/><ellipse cx="203" cy="1183" rx="9" ry="16" fill="#9a6428" transform="rotate(299 203 1183)"/><ellipse cx="241" cy="1190" rx="9" ry="16" fill="#d8a458" transform="rotate(299 241 1190)"/><ellipse cx="279" cy="1198" rx="9" ry="16" fill="#7a4818" transform="rotate(299 279 1198)"/><ellipse cx="249" cy="1185" rx="9" ry="16" fill="#8a5420" transform="rotate(301 249 1185)"/><ellipse cx="286" cy="1194" rx="9" ry="16" fill="#c89048" transform="rotate(301 286 1194)"/><ellipse cx="293" cy="1189" rx="9" ry="16" fill="#7a4818" transform="rotate(304 293 1189)"/><ellipse cx="302" cy="1184" rx="9" ry="16" fill="#c89048" transform="rotate(306 302 1184)"/><ellipse cx="310" cy="1180" rx="9" ry="16" fill="#7a4818" transform="rotate(308 310 1180)"/><ellipse cx="850" cy="1180" rx="9" ry="16" fill="#c89048" transform="rotate(412 850 1180)"/><ellipse cx="858" cy="1184" rx="9" ry="16" fill="#7a4818" transform="rotate(414 858 1184)"/><ellipse cx="867" cy="1189" rx="9" ry="16" fill="#c89048" transform="rotate(416 867 1189)"/><ellipse cx="911" cy="1185" rx="9" ry="16" fill="#d8a458" transform="rotate(419 911 1185)"/><ellipse cx="874" cy="1194" rx="9" ry="16" fill="#7a4818" transform="rotate(419 874 1194)"/><ellipse cx="957" cy="1183" rx="9" ry="16" fill="#e0b070" transform="rotate(421 957 1183)"/><ellipse cx="919" cy="1190" rx="9" ry="16" fill="#8a5420" transform="rotate(421 919 1190)"/><ellipse cx="881" cy="1198" rx="9" ry="16" fill="#c89048" transform="rotate(421 881 1198)"/><ellipse cx="965" cy="1189" rx="9" ry="16" fill="#9a6428" transform="rotate(424 965 1189)"/><ellipse cx="927" cy="1196" rx="9" ry="16" fill="#d8a458" transform="rotate(424 927 1196)"/><ellipse cx="888" cy="1203" rx="9" ry="16" fill="#7a4818" transform="rotate(424 888 1203)"/><ellipse cx="973" cy="1195" rx="9" ry="16" fill="#e0b070" transform="rotate(426 973 1195)"/><ellipse cx="934" cy="1202" rx="9" ry="16" fill="#8a5420" transform="rotate(426 934 1202)"/><ellipse cx="894" cy="1208" rx="9" ry="16" fill="#c89048" transform="rotate(426 894 1208)"/><ellipse cx="980" cy="1201" rx="9" ry="16" fill="#9a6428" transform="rotate(428 980 1201)"/><ellipse cx="940" cy="1207" rx="9" ry="16" fill="#d8a458" transform="rotate(428 940 1207)"/><ellipse cx="900" cy="1213" rx="9" ry="16" fill="#7a4818" transform="rotate(428 900 1213)"/><ellipse cx="986" cy="1208" rx="9" ry="16" fill="#e0b070" transform="rotate(431 986 1208)"/><ellipse cx="945" cy="1213" rx="9" ry="16" fill="#8a5420" transform="rotate(431 945 1213)"/><ellipse cx="905" cy="1219" rx="9" ry="16" fill="#c89048" transform="rotate(431 905 1219)"/><ellipse cx="992" cy="1214" rx="9" ry="16" fill="#9a6428" transform="rotate(433 992 1214)"/><ellipse cx="950" cy="1219" rx="9" ry="16" fill="#d8a458" transform="rotate(433 950 1219)"/><ellipse cx="909" cy="1224" rx="9" ry="16" fill="#7a4818" transform="rotate(433 909 1224)"/><ellipse cx="996" cy="1221" rx="9" ry="16" fill="#e0b070" transform="rotate(436 996 1221)"/><ellipse cx="955" cy="1225" rx="9" ry="16" fill="#8a5420" transform="rotate(436 955 1225)"/><ellipse cx="913" cy="1229" rx="9" ry="16" fill="#c89048" transform="rotate(436 913 1229)"/><ellipse cx="1001" cy="1228" rx="9" ry="16" fill="#9a6428" transform="rotate(438 1001 1228)"/><ellipse cx="959" cy="1231" rx="9" ry="16" fill="#d8a458" transform="rotate(438 959 1231)"/><ellipse cx="916" cy="1235" rx="9" ry="16" fill="#7a4818" transform="rotate(438 916 1235)"/><ellipse cx="1004" cy="1234" rx="9" ry="16" fill="#e0b070" transform="rotate(440 1004 1234)"/><ellipse cx="962" cy="1237" rx="9" ry="16" fill="#8a5420" transform="rotate(440 962 1237)"/><ellipse cx="919" cy="1240" rx="9" ry="16" fill="#c89048" transform="rotate(440 919 1240)"/><ellipse cx="1007" cy="1241" rx="9" ry="16" fill="#9a6428" transform="rotate(443 1007 1241)"/><ellipse cx="964" cy="1243" rx="9" ry="16" fill="#d8a458" transform="rotate(443 964 1243)"/><ellipse cx="921" cy="1245" rx="9" ry="16" fill="#7a4818" transform="rotate(443 921 1245)"/><ellipse cx="1008" cy="1248" rx="9" ry="16" fill="#e0b070" transform="rotate(445 1008 1248)"/><ellipse cx="966" cy="1250" rx="9" ry="16" fill="#8a5420" transform="rotate(445 966 1250)"/><ellipse cx="923" cy="1251" rx="9" ry="16" fill="#c89048" transform="rotate(445 923 1251)"/><ellipse cx="1010" cy="1255" rx="9" ry="16" fill="#9a6428" transform="rotate(448 1010 1255)"/><ellipse cx="967" cy="1256" rx="9" ry="16" fill="#d8a458" transform="rotate(448 967 1256)"/><ellipse cx="924" cy="1256" rx="9" ry="16" fill="#7a4818" transform="rotate(448 924 1256)"/>
<path d="M115 770 Q210 725 330 755 Q390 790 410 840 Q330 880 250 860 Q170 830 115 770 Z" fill="#5cb832"/>
<path d="M115 770 Q250 790 410 840" fill="none" stroke="#3a9020" stroke-width="5"/>
<path d="M480 780 Q500 710 590 690 Q590 750 520 810 Z" fill="#58b030"/>
<path d="M340 770 Q420 790 470 860 Q520 930 540 1000 Q440 950 380 880 Q340 830 340 770 Z" fill="#a8c890" opacity="0.9"/>
<path d="M500 860 Q600 770 800 715 L760 800 L560 900 Z" fill="#d8dcc8" opacity="0.85"/>
<path d="M340 900 L520 1000 L470 1230 L360 1300 L230 1110 Z" fill="#ccc6be"/>
<path d="M300 1090 Q380 1060 470 1120 L450 1240 L360 1295 Z" fill="#858064"/>
<path d="M330 1120 q40 -20 80 10 M340 1180 q40 -10 70 20" stroke="#d8d8b8" stroke-width="8" fill="none"/>
<path d="M420 950 L540 1010 L520 1080 L440 1060 Z" fill="#d4c8cc"/>
<path d="M715 815 L1022 1312 L760 1330 L420 1352 L520 1100 Z" fill="url(#bagg)"/>
<path d="M715 815 L760 1330 L420 1352 L520 1100 Z" fill="#cdc9c0"/>
<path d="M715 815 L1022 1312 L760 1330 Z" fill="#b9b5a8"/>
<path d="M715 815 L640 1000 L560 1090 Z" fill="#e2dfd8" opacity="0.8"/>
<path d="M760 1120 Q880 1080 950 1200 Q980 1290 900 1310 L760 1320 Z" fill="#7a7a50"/>
<path d="M770 1150 q60 -40 110 10 M790 1200 q70 -30 120 30 M780 1270 q80 -20 140 20" fill="none" stroke="#e4e4c0" stroke-width="9"/>
<ellipse cx="790" cy="1240" rx="35" ry="28" fill="#c05040"/>
<path d="M470 1230 Q560 1180 600 1300 L440 1345 Z" fill="#8a8468"/>
<path d="M520 1100 L690 1090 M300 1020 L520 1100" stroke="#f4f4f4" stroke-width="6" fill="none"/>
<path d="M526 1192 L690 1092 L800 1268 L640 1365 Z" fill="#f4ecec"/><path d="M532 1190 L682 1100 L780 1262 L632 1350 Z" fill="#dc1e24"/>
<path d="M345 915 L475 1008 L432 1135 L305 1035 Z" fill="#f0e4e4"/><path d="M348 924 L468 1010 L428 1122 L314 1030 Z" fill="#dc2028"/>
<path d="M768 812 L945 830 L922 1000 L762 968 Z" fill="#f4e8e8"/><path d="M774 820 L936 836 L916 985 L770 958 Z" fill="#de2226"/>
</g>
<text transform="translate(660,1228) rotate(-31)" x="0" y="24" text-anchor="middle" font-family="Liberation Serif,serif" font-style="italic" font-size="84" fill="#fff">Tea</text>
<text transform="translate(390,1025) rotate(126)" x="0" y="20" text-anchor="middle" font-family="Liberation Serif,serif" font-style="italic" font-size="66" fill="#fbeaea">Tea</text>
<text transform="translate(853,905) rotate(-84)" x="0" y="22" text-anchor="middle" font-family="Liberation Serif,serif" font-style="italic" font-size="74" fill="#fdeeee">Tea</text>
</g>
<path d="M489.5 564.7 A301 301 0 0 1 489.5 1075.3" fill="none" stroke="#a3a3a3" stroke-width="27"/>
<path d="M427 529 L480 542 L470 574 L440 552 Z" fill="url(#tailT)" filter="url(#b1)"/>
<path d="M480 1070 L434 1092 L427 1114 L486 1103 Z" fill="url(#tailT)" filter="url(#b1)"/>
<path d="M440.0 471.8 A368 368 0 0 1 433.9 1176.0" fill="none" stroke="#8c8c8c" stroke-width="2.8" stroke-dasharray="11 6"/>
<path d="M488.5 522.5 L522 413 L590 413" fill="none" stroke="#8e8e90" stroke-width="2.2" stroke-linejoin="round"/>
<circle cx="488.5" cy="522.5" r="6" fill="#8e8e90"/>
<circle cx="590.5" cy="412.5" r="6" fill="#8e8e90"/>
<path d="M608 617 L621 586 L646 580" fill="none" stroke="#8e8e90" stroke-width="2.2" stroke-linejoin="round"/>
<circle cx="608" cy="617" r="6" fill="#8e8e90"/>
<circle cx="646.5" cy="580" r="6" fill="#8e8e90"/>
<path d="M673.5 819 L742 819" fill="none" stroke="#8e8e90" stroke-width="2.2" stroke-linejoin="round"/>
<circle cx="673.5" cy="819" r="6" fill="#8e8e90"/>
<path d="M613 1026 L623 1054 L650 1063" fill="none" stroke="#8e8e90" stroke-width="2.2" stroke-linejoin="round"/>
<circle cx="613" cy="1026" r="6" fill="#8e8e90"/>
<circle cx="650.5" cy="1063" r="6" fill="#8e8e90"/>
<path d="M486.5 1123 L520.5 1232 L588 1232" fill="none" stroke="#8e8e90" stroke-width="2.2" stroke-linejoin="round"/>
<circle cx="486.5" cy="1123" r="6" fill="#8e8e90"/>
<circle cx="588" cy="1232" r="6" fill="#8e8e90"/>
<circle cx="478" cy="565" r="22" fill="#c8c8d0" opacity="0.35" filter="url(#b3)"/>
<circle cx="475" cy="561" r="21" fill="url(#halo)"/>
<ellipse cx="475" cy="561" rx="12.5" ry="14" fill="url(#ball)"/>
<circle cx="578.5" cy="651" r="22" fill="#c8c8d0" opacity="0.35" filter="url(#b3)"/>
<circle cx="575.5" cy="647" r="21" fill="url(#halo)"/>
<ellipse cx="575.5" cy="647" rx="12.5" ry="14" fill="url(#ball)"/>
<circle cx="630.5" cy="824" r="22" fill="#c8c8d0" opacity="0.35" filter="url(#b3)"/>
<circle cx="627.5" cy="820" r="21" fill="url(#halo)"/>
<ellipse cx="627.5" cy="820" rx="12.5" ry="14" fill="url(#ball)"/>
<circle cx="578.5" cy="994" r="22" fill="#c8c8d0" opacity="0.35" filter="url(#b3)"/>
<circle cx="575.5" cy="990" r="21" fill="url(#halo)"/>
<ellipse cx="575.5" cy="990" rx="12.5" ry="14" fill="url(#ball)"/>
<circle cx="478" cy="1085" r="22" fill="#c8c8d0" opacity="0.35" filter="url(#b3)"/>
<circle cx="475" cy="1081" r="21" fill="url(#halo)"/>
<ellipse cx="475" cy="1081" rx="12.5" ry="14" fill="url(#ball)"/>
<path d="M542.5 355.4 Q533.5 347.5 542.5 339.6 L635.7 257.6 Q641.0 253.0 648.0 253.0 L1146.5 253.0 Q1153.5 253.0 1158.7 257.6 L1251.6 339.6 Q1260.6 347.5 1251.6 355.4 L1158.7 437.4 Q1153.5 442.0 1146.5 442.0 L648.0 442.0 Q641.0 442.0 635.7 437.4 Z" fill="#a4a4c0" opacity="0.36" transform="translate(-2,5)" filter="url(#b3)"/>
<path d="M542.5 355.4 Q533.5 347.5 542.5 339.6 L635.7 257.6 Q641.0 253.0 648.0 253.0 L1146.5 253.0 Q1153.5 253.0 1158.7 257.6 L1251.6 339.6 Q1260.6 347.5 1251.6 355.4 L1158.7 437.4 Q1153.5 442.0 1146.5 442.0 L648.0 442.0 Q641.0 442.0 635.7 437.4 Z" fill="none" stroke="#fbf08c" stroke-width="5" filter="url(#b1)"/>
<path d="M542.5 355.4 Q533.5 347.5 542.5 339.6 L635.7 257.6 Q641.0 253.0 648.0 253.0 L1146.5 253.0 Q1153.5 253.0 1158.7 257.6 L1251.6 339.6 Q1260.6 347.5 1251.6 355.4 L1158.7 437.4 Q1153.5 442.0 1146.5 442.0 L648.0 442.0 Q641.0 442.0 635.7 437.4 Z" fill="url(#hexg)" stroke="#bfa722" stroke-width="1.4"/>
<clipPath id="hc0"><path d="M542.5 355.4 Q533.5 347.5 542.5 339.6 L635.7 257.6 Q641.0 253.0 648.0 253.0 L1146.5 253.0 Q1153.5 253.0 1158.7 257.6 L1251.6 339.6 Q1260.6 347.5 1251.6 355.4 L1158.7 437.4 Q1153.5 442.0 1146.5 442.0 L648.0 442.0 Q641.0 442.0 635.7 437.4 Z"/></clipPath>
<g clip-path="url(#hc0)"><path d="M667 442 L767 344 L795 344 L711 442 Z" fill="url(#foldg)" opacity="0.62" filter="url(#b2)"/><path d="M666 442 L764 346" stroke="#a8881a" stroke-width="1.5" opacity="0.45" filter="url(#b1)"/></g>
<path d="M674.7 589.9 Q665.8 581.9 674.7 573.8 L766.6 491.4 Q771.8 486.7 778.8 486.7 L1275.0 486.7 Q1282.0 486.7 1287.3 491.3 L1383.7 574.0 Q1392.8 581.9 1383.7 589.7 L1287.3 672.4 Q1282.0 677.0 1275.0 677.0 L778.8 677.0 Q771.8 677.0 766.6 672.3 Z" fill="#a4a4c0" opacity="0.36" transform="translate(-2,5)" filter="url(#b3)"/>
<path d="M674.7 589.9 Q665.8 581.9 674.7 573.8 L766.6 491.4 Q771.8 486.7 778.8 486.7 L1275.0 486.7 Q1282.0 486.7 1287.3 491.3 L1383.7 574.0 Q1392.8 581.9 1383.7 589.7 L1287.3 672.4 Q1282.0 677.0 1275.0 677.0 L778.8 677.0 Q771.8 677.0 766.6 672.3 Z" fill="none" stroke="#fbf08c" stroke-width="5" filter="url(#b1)"/>
<path d="M674.7 589.9 Q665.8 581.9 674.7 573.8 L766.6 491.4 Q771.8 486.7 778.8 486.7 L1275.0 486.7 Q1282.0 486.7 1287.3 491.3 L1383.7 574.0 Q1392.8 581.9 1383.7 589.7 L1287.3 672.4 Q1282.0 677.0 1275.0 677.0 L778.8 677.0 Q771.8 677.0 766.6 672.3 Z" fill="url(#hexg)" stroke="#bfa722" stroke-width="1.4"/>
<clipPath id="hc1"><path d="M674.7 589.9 Q665.8 581.9 674.7 573.8 L766.6 491.4 Q771.8 486.7 778.8 486.7 L1275.0 486.7 Q1282.0 486.7 1287.3 491.3 L1383.7 574.0 Q1392.8 581.9 1383.7 589.7 L1287.3 672.4 Q1282.0 677.0 1275.0 677.0 L778.8 677.0 Q771.8 677.0 766.6 672.3 Z"/></clipPath>
<g clip-path="url(#hc1)"><path d="M797.8 677 L897.8 579 L925.8 579 L841.8 677 Z" fill="url(#foldg)" opacity="0.62" filter="url(#b2)"/><path d="M796.8 677 L894.8 581" stroke="#a8881a" stroke-width="1.5" opacity="0.45" filter="url(#b1)"/></g>
<path d="M751.4 827.2 Q742.6 819.0 751.4 810.8 L839.9 728.8 Q845.0 724.0 852.0 724.0 L1325.5 724.0 Q1332.5 724.0 1337.7 728.7 L1427.4 810.9 Q1436.2 819.0 1427.4 827.1 L1337.7 909.3 Q1332.5 914.0 1325.5 914.0 L852.0 914.0 Q845.0 914.0 839.9 909.2 Z" fill="#a4a4c0" opacity="0.36" transform="translate(-2,5)" filter="url(#b3)"/>
<path d="M751.4 827.2 Q742.6 819.0 751.4 810.8 L839.9 728.8 Q845.0 724.0 852.0 724.0 L1325.5 724.0 Q1332.5 724.0 1337.7 728.7 L1427.4 810.9 Q1436.2 819.0 1427.4 827.1 L1337.7 909.3 Q1332.5 914.0 1325.5 914.0 L852.0 914.0 Q845.0 914.0 839.9 909.2 Z" fill="none" stroke="#fbf08c" stroke-width="5" filter="url(#b1)"/>
<path d="M751.4 827.2 Q742.6 819.0 751.4 810.8 L839.9 728.8 Q845.0 724.0 852.0 724.0 L1325.5 724.0 Q1332.5 724.0 1337.7 728.7 L1427.4 810.9 Q1436.2 819.0 1427.4 827.1 L1337.7 909.3 Q1332.5 914.0 1325.5 914.0 L852.0 914.0 Q845.0 914.0 839.9 909.2 Z" fill="url(#hexg)" stroke="#bfa722" stroke-width="1.4"/>
<clipPath id="hc2"><path d="M751.4 827.2 Q742.6 819.0 751.4 810.8 L839.9 728.8 Q845.0 724.0 852.0 724.0 L1325.5 724.0 Q1332.5 724.0 1337.7 728.7 L1427.4 810.9 Q1436.2 819.0 1427.4 827.1 L1337.7 909.3 Q1332.5 914.0 1325.5 914.0 L852.0 914.0 Q845.0 914.0 839.9 909.2 Z"/></clipPath>
<g clip-path="url(#hc2)"><path d="M871 914 L971 816 L999 816 L915 914 Z" fill="url(#foldg)" opacity="0.62" filter="url(#b2)"/><path d="M870 914 L968 818" stroke="#a8881a" stroke-width="1.5" opacity="0.45" filter="url(#b1)"/></g>
<path d="M675.4 1070.5 Q666.5 1062.5 675.4 1054.5 L765.8 972.7 Q771.0 968.0 778.0 968.0 L1273.0 968.0 Q1280.0 968.0 1285.2 972.7 L1376.4 1054.5 Q1385.3 1062.5 1376.4 1070.5 L1285.2 1152.3 Q1280.0 1157.0 1273.0 1157.0 L778.0 1157.0 Q771.0 1157.0 765.8 1152.3 Z" fill="#a4a4c0" opacity="0.36" transform="translate(-2,5)" filter="url(#b3)"/>
<path d="M675.4 1070.5 Q666.5 1062.5 675.4 1054.5 L765.8 972.7 Q771.0 968.0 778.0 968.0 L1273.0 968.0 Q1280.0 968.0 1285.2 972.7 L1376.4 1054.5 Q1385.3 1062.5 1376.4 1070.5 L1285.2 1152.3 Q1280.0 1157.0 1273.0 1157.0 L778.0 1157.0 Q771.0 1157.0 765.8 1152.3 Z" fill="none" stroke="#fbf08c" stroke-width="5" filter="url(#b1)"/>
<path d="M675.4 1070.5 Q666.5 1062.5 675.4 1054.5 L765.8 972.7 Q771.0 968.0 778.0 968.0 L1273.0 968.0 Q1280.0 968.0 1285.2 972.7 L1376.4 1054.5 Q1385.3 1062.5 1376.4 1070.5 L1285.2 1152.3 Q1280.0 1157.0 1273.0 1157.0 L778.0 1157.0 Q771.0 1157.0 765.8 1152.3 Z" fill="url(#hexg)" stroke="#bfa722" stroke-width="1.4"/>
<clipPath id="hc3"><path d="M675.4 1070.5 Q666.5 1062.5 675.4 1054.5 L765.8 972.7 Q771.0 968.0 778.0 968.0 L1273.0 968.0 Q1280.0 968.0 1285.2 972.7 L1376.4 1054.5 Q1385.3 1062.5 1376.4 1070.5 L1285.2 1152.3 Q1280.0 1157.0 1273.0 1157.0 L778.0 1157.0 Q771.0 1157.0 765.8 1152.3 Z"/></clipPath>
<g clip-path="url(#hc3)"><path d="M797 1157 L897 1059 L925 1059 L841 1157 Z" fill="url(#foldg)" opacity="0.62" filter="url(#b2)"/><path d="M796 1157 L894 1061" stroke="#a8881a" stroke-width="1.5" opacity="0.45" filter="url(#b1)"/></g>
<path d="M542.5 1303.2 Q533.5 1295.2 542.5 1287.3 L635.0 1204.7 Q640.2 1200.0 647.2 1200.0 L1140.5 1200.0 Q1147.5 1200.0 1152.7 1204.7 L1243.3 1287.2 Q1252.2 1295.2 1243.3 1303.3 L1152.7 1385.8 Q1147.5 1390.5 1140.5 1390.5 L647.2 1390.5 Q640.2 1390.5 635.0 1385.8 Z" fill="#a4a4c0" opacity="0.36" transform="translate(-2,5)" filter="url(#b3)"/>
<path d="M542.5 1303.2 Q533.5 1295.2 542.5 1287.3 L635.0 1204.7 Q640.2 1200.0 647.2 1200.0 L1140.5 1200.0 Q1147.5 1200.0 1152.7 1204.7 L1243.3 1287.2 Q1252.2 1295.2 1243.3 1303.3 L1152.7 1385.8 Q1147.5 1390.5 1140.5 1390.5 L647.2 1390.5 Q640.2 1390.5 635.0 1385.8 Z" fill="none" stroke="#fbf08c" stroke-width="5" filter="url(#b1)"/>
<path d="M542.5 1303.2 Q533.5 1295.2 542.5 1287.3 L635.0 1204.7 Q640.2 1200.0 647.2 1200.0 L1140.5 1200.0 Q1147.5 1200.0 1152.7 1204.7 L1243.3 1287.2 Q1252.2 1295.2 1243.3 1303.3 L1152.7 1385.8 Q1147.5 1390.5 1140.5 1390.5 L647.2 1390.5 Q640.2 1390.5 635.0 1385.8 Z" fill="url(#hexg)" stroke="#bfa722" stroke-width="1.4"/>
<clipPath id="hc4"><path d="M542.5 1303.2 Q533.5 1295.2 542.5 1287.3 L635.0 1204.7 Q640.2 1200.0 647.2 1200.0 L1140.5 1200.0 Q1147.5 1200.0 1152.7 1204.7 L1243.3 1287.2 Q1252.2 1295.2 1243.3 1303.3 L1152.7 1385.8 Q1147.5 1390.5 1140.5 1390.5 L647.2 1390.5 Q640.2 1390.5 635.0 1385.8 Z"/></clipPath>
<g clip-path="url(#hc4)"><path d="M666.2 1390.5 L766.2 1292.5 L794.2 1292.5 L710.2 1390.5 Z" fill="url(#foldg)" opacity="0.62" filter="url(#b2)"/><path d="M665.2 1390.5 L763.2 1294.5" stroke="#a8881a" stroke-width="1.5" opacity="0.45" filter="url(#b1)"/></g>
<text transform="translate(759.96,608.40) scale(0.7473,0.7714)" font-size="100" class="h" stroke="#0b8748" stroke-width="1.2" stroke-linejoin="round">2</text>
<text transform="translate(826.90,844.23) scale(0.7011,0.7662)" font-size="100" class="h" stroke="#0b8748" stroke-width="1.2" stroke-linejoin="round">3</text>
<text transform="translate(764.01,1084.60) scale(0.6931,0.7783)" font-size="100" class="h" stroke="#0b8748" stroke-width="1.2" stroke-linejoin="round">4</text>
<text transform="translate(617.01,1316.14) scale(0.6716,0.7614)" font-size="100" class="h" stroke="#0b8748" stroke-width="1.2" stroke-linejoin="round">5</text>
<clipPath id="one"><path d="M600 300 H660 V361.4 H642.4 V372 H634 V361.4 H600 Z"/></clipPath>
<g clip-path="url(#one)"><text class="h" transform="translate(610.35,368.2) scale(1.195,1)" font-size="78.7">1</text></g>
<text transform="translate(768.18,332.60) scale(0.8696,1)" font-size="46.5" class="h" stroke="#0b8748" stroke-width="0.9" stroke-linejoin="round">Support kidney and</text>
<text transform="translate(768.20,386.60) scale(0.8949,1)" font-size="46.5" class="h" stroke="#0b8748" stroke-width="0.9" stroke-linejoin="round">liver health.</text>
<text transform="translate(889.15,564.80) scale(0.9001,1)" font-size="46.5" class="h" stroke="#0b8748" stroke-width="0.9" stroke-linejoin="round">Effectively improve</text>
<text transform="translate(890.85,618.50) scale(0.8891,1)" font-size="46.5" class="h" stroke="#0b8748" stroke-width="0.9" stroke-linejoin="round">digestive health</text>
<text transform="translate(937.00,810.50) scale(0.8860,1)" font-size="46.5" class="h" stroke="#0b8748" stroke-width="0.9" stroke-linejoin="round">Beneficial for supporting</text>
<text transform="translate(937.59,863.60) scale(0.8962,1)" font-size="46.5" class="h" stroke="#0b8748" stroke-width="0.9" stroke-linejoin="round">respiratory health</text>
<text transform="translate(849.70,1056.10) scale(0.8610,1)" font-size="46.5" class="h" stroke="#0b8748" stroke-width="0.9" stroke-linejoin="round">Enhance physical function</text>
<text transform="translate(858.19,1109.00) scale(0.8658,1)" font-size="46.5" class="h" stroke="#0b8748" stroke-width="0.9" stroke-linejoin="round">and energy</text>
<text transform="translate(769.87,1316.30) scale(0.8670,1)" font-size="46.5" class="h" stroke="#0b8748" stroke-width="0.9" stroke-linejoin="round">Keeping skin healthy</text>
</svg>
</body></html>
